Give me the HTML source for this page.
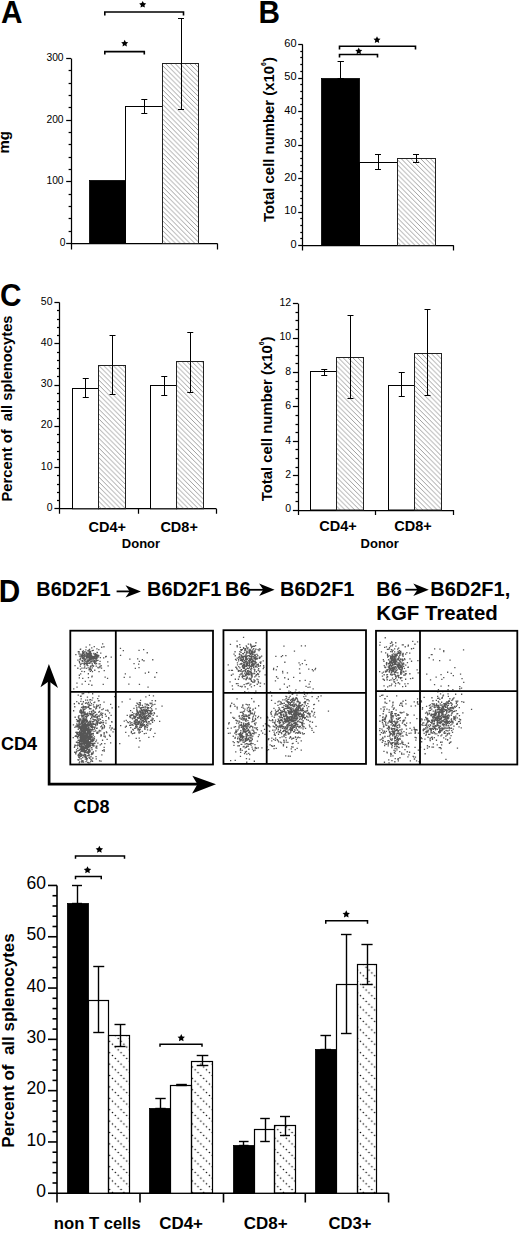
<!DOCTYPE html>
<html><head><meta charset="utf-8"><title>Figure</title>
<style>html,body{margin:0;padding:0;background:#fff;}svg{display:block;}</style>
</head><body>
<svg width="520" height="1233" viewBox="0 0 520 1233" font-family='"Liberation Sans", sans-serif'><defs>
<pattern id="hatch" patternUnits="userSpaceOnUse" width="4.85" height="4.85"><path d="M0,0 L4.85,4.85 M-1,3.8499999999999996 L1,5.85 M3.8499999999999996,-1 L5.85,1" stroke="#7a7a7a" stroke-width="0.72"/></pattern>
<pattern id="dots" patternUnits="userSpaceOnUse" x="111.1" y="1099.75" width="11.4" height="11.4"><circle cx="1.40" cy="1.40" r="0.78" fill="#000"/><circle cx="4.25" cy="4.25" r="0.78" fill="#000"/><circle cx="7.10" cy="7.10" r="0.78" fill="#000"/><circle cx="9.95" cy="9.95" r="0.78" fill="#000"/></pattern>
</defs>
<text x="0" y="0" font-size="32" transform="translate(1.00 22.60) scale(0.93 1)" font-weight="bold">A</text>
<line x1="71.50" y1="58.61" x2="71.50" y2="249.50" stroke="#000" stroke-width="1.25"/>
<line x1="66.20" y1="243.50" x2="71.20" y2="243.50" stroke="#000" stroke-width="1.25"/>
<line x1="66.20" y1="181.50" x2="71.20" y2="181.50" stroke="#000" stroke-width="1.25"/>
<line x1="66.20" y1="120.50" x2="71.20" y2="120.50" stroke="#000" stroke-width="1.25"/>
<line x1="66.20" y1="58.50" x2="71.20" y2="58.50" stroke="#000" stroke-width="1.25"/>
<line x1="68.60" y1="231.50" x2="71.20" y2="231.50" stroke="#000" stroke-width="1.25"/>
<line x1="68.60" y1="218.50" x2="71.20" y2="218.50" stroke="#000" stroke-width="1.25"/>
<line x1="68.60" y1="206.50" x2="71.20" y2="206.50" stroke="#000" stroke-width="1.25"/>
<line x1="68.60" y1="194.50" x2="71.20" y2="194.50" stroke="#000" stroke-width="1.25"/>
<line x1="68.60" y1="169.50" x2="71.20" y2="169.50" stroke="#000" stroke-width="1.25"/>
<line x1="68.60" y1="157.50" x2="71.20" y2="157.50" stroke="#000" stroke-width="1.25"/>
<line x1="68.60" y1="144.50" x2="71.20" y2="144.50" stroke="#000" stroke-width="1.25"/>
<line x1="68.60" y1="132.50" x2="71.20" y2="132.50" stroke="#000" stroke-width="1.25"/>
<line x1="68.60" y1="107.50" x2="71.20" y2="107.50" stroke="#000" stroke-width="1.25"/>
<line x1="68.60" y1="95.50" x2="71.20" y2="95.50" stroke="#000" stroke-width="1.25"/>
<line x1="68.60" y1="83.50" x2="71.20" y2="83.50" stroke="#000" stroke-width="1.25"/>
<line x1="68.60" y1="70.50" x2="71.20" y2="70.50" stroke="#000" stroke-width="1.25"/>
<text x="63.60" y="184.17" font-size="10.3" text-anchor="end">100</text>
<text x="63.60" y="122.54" font-size="10.3" text-anchor="end">200</text>
<text x="63.60" y="60.91" font-size="10.3" text-anchor="end">300</text>
<text x="65.40" y="245.90" font-size="10.3" text-anchor="end">0</text>
<line x1="71.20" y1="243.50" x2="217.50" y2="243.50" stroke="#000" stroke-width="1.25"/>
<line x1="217.50" y1="243.50" x2="217.50" y2="249.50" stroke="#000" stroke-width="1.25"/>
<rect x="89.50" y="180.50" width="36.00" height="63.00" fill="#000" stroke="#000" stroke-width="0.8"/>
<rect x="125.50" y="106.50" width="37.00" height="137.00" fill="#fff" stroke="#000" stroke-width="1.0"/>
<rect x="162.50" y="63.50" width="36.00" height="180.00" fill="url(#hatch)" stroke="#222" stroke-width="1.0"/>
<line x1="144.50" y1="99.70" x2="144.50" y2="113.40" stroke="#000" stroke-width="1.0"/>
<line x1="141.30" y1="99.50" x2="147.30" y2="99.50" stroke="#000" stroke-width="1.0"/>
<line x1="141.30" y1="113.50" x2="147.30" y2="113.50" stroke="#000" stroke-width="1.0"/>
<line x1="181.50" y1="18.60" x2="181.50" y2="109.00" stroke="#000" stroke-width="1.0"/>
<line x1="178.00" y1="18.50" x2="184.00" y2="18.50" stroke="#000" stroke-width="1.0"/>
<line x1="178.00" y1="109.50" x2="184.00" y2="109.50" stroke="#000" stroke-width="1.0"/>
<path d="M104.80,15.40 V12.00 H183.50 V15.40" fill="none" stroke="#000" stroke-width="1.6"/>
<polygon points="142.70,0.90 143.79,3.10 146.22,3.46 144.46,5.17 144.87,7.59 142.70,6.45 140.53,7.59 140.94,5.17 139.18,3.46 141.61,3.10" fill="#000"/>
<path d="M104.80,54.60 V51.60 H144.30 V54.60" fill="none" stroke="#000" stroke-width="1.6"/>
<polygon points="124.70,39.70 125.79,41.90 128.22,42.26 126.46,43.97 126.87,46.39 124.70,45.25 122.53,46.39 122.94,43.97 121.18,42.26 123.61,41.90" fill="#000"/>
<text x="9.20" y="153.50" font-size="15" font-weight="bold" transform="rotate(-90 9.20 153.50)">mg</text>
<text x="0" y="0" font-size="32" transform="translate(258.40 22.70) scale(0.93 1)" font-weight="bold">B</text>
<line x1="302.50" y1="44.50" x2="302.50" y2="250.50" stroke="#000" stroke-width="1.25"/>
<line x1="298.20" y1="245.50" x2="302.70" y2="245.50" stroke="#000" stroke-width="1.25"/>
<line x1="298.20" y1="212.50" x2="302.70" y2="212.50" stroke="#000" stroke-width="1.25"/>
<line x1="298.20" y1="178.50" x2="302.70" y2="178.50" stroke="#000" stroke-width="1.25"/>
<line x1="298.20" y1="145.50" x2="302.70" y2="145.50" stroke="#000" stroke-width="1.25"/>
<line x1="298.20" y1="111.50" x2="302.70" y2="111.50" stroke="#000" stroke-width="1.25"/>
<line x1="298.20" y1="78.50" x2="302.70" y2="78.50" stroke="#000" stroke-width="1.25"/>
<line x1="298.20" y1="44.50" x2="302.70" y2="44.50" stroke="#000" stroke-width="1.25"/>
<line x1="300.30" y1="238.50" x2="302.70" y2="238.50" stroke="#000" stroke-width="1.25"/>
<line x1="300.30" y1="232.50" x2="302.70" y2="232.50" stroke="#000" stroke-width="1.25"/>
<line x1="300.30" y1="225.50" x2="302.70" y2="225.50" stroke="#000" stroke-width="1.25"/>
<line x1="300.30" y1="218.50" x2="302.70" y2="218.50" stroke="#000" stroke-width="1.25"/>
<line x1="300.30" y1="205.50" x2="302.70" y2="205.50" stroke="#000" stroke-width="1.25"/>
<line x1="300.30" y1="198.50" x2="302.70" y2="198.50" stroke="#000" stroke-width="1.25"/>
<line x1="300.30" y1="191.50" x2="302.70" y2="191.50" stroke="#000" stroke-width="1.25"/>
<line x1="300.30" y1="185.50" x2="302.70" y2="185.50" stroke="#000" stroke-width="1.25"/>
<line x1="300.30" y1="171.50" x2="302.70" y2="171.50" stroke="#000" stroke-width="1.25"/>
<line x1="300.30" y1="165.50" x2="302.70" y2="165.50" stroke="#000" stroke-width="1.25"/>
<line x1="300.30" y1="158.50" x2="302.70" y2="158.50" stroke="#000" stroke-width="1.25"/>
<line x1="300.30" y1="151.50" x2="302.70" y2="151.50" stroke="#000" stroke-width="1.25"/>
<line x1="300.30" y1="138.50" x2="302.70" y2="138.50" stroke="#000" stroke-width="1.25"/>
<line x1="300.30" y1="131.50" x2="302.70" y2="131.50" stroke="#000" stroke-width="1.25"/>
<line x1="300.30" y1="124.50" x2="302.70" y2="124.50" stroke="#000" stroke-width="1.25"/>
<line x1="300.30" y1="118.50" x2="302.70" y2="118.50" stroke="#000" stroke-width="1.25"/>
<line x1="300.30" y1="104.50" x2="302.70" y2="104.50" stroke="#000" stroke-width="1.25"/>
<line x1="300.30" y1="98.50" x2="302.70" y2="98.50" stroke="#000" stroke-width="1.25"/>
<line x1="300.30" y1="91.50" x2="302.70" y2="91.50" stroke="#000" stroke-width="1.25"/>
<line x1="300.30" y1="84.50" x2="302.70" y2="84.50" stroke="#000" stroke-width="1.25"/>
<line x1="300.30" y1="71.50" x2="302.70" y2="71.50" stroke="#000" stroke-width="1.25"/>
<line x1="300.30" y1="64.50" x2="302.70" y2="64.50" stroke="#000" stroke-width="1.25"/>
<line x1="300.30" y1="57.50" x2="302.70" y2="57.50" stroke="#000" stroke-width="1.25"/>
<line x1="300.30" y1="51.50" x2="302.70" y2="51.50" stroke="#000" stroke-width="1.25"/>
<text x="296.60" y="247.60" font-size="11" text-anchor="end">0</text>
<text x="296.60" y="214.10" font-size="11" text-anchor="end">10</text>
<text x="296.60" y="180.60" font-size="11" text-anchor="end">20</text>
<text x="296.60" y="147.10" font-size="11" text-anchor="end">30</text>
<text x="296.60" y="113.60" font-size="11" text-anchor="end">40</text>
<text x="296.60" y="80.10" font-size="11" text-anchor="end">50</text>
<text x="296.60" y="46.60" font-size="11" text-anchor="end">60</text>
<line x1="302.70" y1="245.50" x2="453.75" y2="245.50" stroke="#000" stroke-width="1.25"/>
<line x1="453.50" y1="245.50" x2="453.50" y2="250.50" stroke="#000" stroke-width="1.25"/>
<rect x="321.50" y="78.50" width="38.00" height="167.00" fill="#000" stroke="#000" stroke-width="0.8"/>
<rect x="359.50" y="162.50" width="38.00" height="83.00" fill="#fff" stroke="#000" stroke-width="1.0"/>
<rect x="397.50" y="158.50" width="38.00" height="87.00" fill="url(#hatch)" stroke="#222" stroke-width="1.0"/>
<line x1="340.50" y1="61.60" x2="340.50" y2="78.00" stroke="#000" stroke-width="1.0"/>
<line x1="337.55" y1="61.50" x2="343.95" y2="61.50" stroke="#000" stroke-width="1.0"/>
<line x1="337.55" y1="78.50" x2="343.95" y2="78.50" stroke="#000" stroke-width="1.0"/>
<line x1="378.50" y1="154.50" x2="378.50" y2="169.25" stroke="#000" stroke-width="1.0"/>
<line x1="375.00" y1="154.50" x2="381.00" y2="154.50" stroke="#000" stroke-width="1.0"/>
<line x1="375.00" y1="169.50" x2="381.00" y2="169.50" stroke="#000" stroke-width="1.0"/>
<line x1="416.50" y1="154.25" x2="416.50" y2="162.50" stroke="#000" stroke-width="1.0"/>
<line x1="413.00" y1="154.50" x2="419.00" y2="154.50" stroke="#000" stroke-width="1.0"/>
<line x1="413.00" y1="162.50" x2="419.00" y2="162.50" stroke="#000" stroke-width="1.0"/>
<path d="M339.50,49.55 V46.25 H415.50 V49.55" fill="none" stroke="#000" stroke-width="1.6"/>
<polygon points="377.00,36.30 378.09,38.50 380.52,38.86 378.76,40.57 379.17,42.99 377.00,41.85 374.83,42.99 375.24,40.57 373.48,38.86 375.91,38.50" fill="#000"/>
<path d="M339.50,57.50 V54.50 H377.50 V57.50" fill="none" stroke="#000" stroke-width="1.6"/>
<polygon points="358.75,47.55 359.84,49.75 362.27,50.11 360.51,51.82 360.92,54.24 358.75,53.10 356.58,54.24 356.99,51.82 355.23,50.11 357.66,49.75" fill="#000"/>
<text x="273.90" y="222.00" font-size="14.9" font-weight="bold" transform="rotate(-90 273.90 222.00)">Total cell number (x10<tspan font-size="6.8" dy="-8.3">6</tspan><tspan dy="8.3">)</tspan></text>
<text x="0" y="0" font-size="32" transform="translate(0.00 305.70) scale(0.93 1)" font-weight="bold">C</text>
<line x1="59.50" y1="302.50" x2="59.50" y2="513.75" stroke="#000" stroke-width="1.25"/>
<line x1="54.40" y1="508.50" x2="59.60" y2="508.50" stroke="#000" stroke-width="1.25"/>
<line x1="54.40" y1="467.50" x2="59.60" y2="467.50" stroke="#000" stroke-width="1.25"/>
<line x1="54.40" y1="426.50" x2="59.60" y2="426.50" stroke="#000" stroke-width="1.25"/>
<line x1="54.40" y1="385.50" x2="59.60" y2="385.50" stroke="#000" stroke-width="1.25"/>
<line x1="54.40" y1="343.50" x2="59.60" y2="343.50" stroke="#000" stroke-width="1.25"/>
<line x1="54.40" y1="302.50" x2="59.60" y2="302.50" stroke="#000" stroke-width="1.25"/>
<line x1="57.00" y1="500.50" x2="59.60" y2="500.50" stroke="#000" stroke-width="1.25"/>
<line x1="57.00" y1="492.50" x2="59.60" y2="492.50" stroke="#000" stroke-width="1.25"/>
<line x1="57.00" y1="484.50" x2="59.60" y2="484.50" stroke="#000" stroke-width="1.25"/>
<line x1="57.00" y1="475.50" x2="59.60" y2="475.50" stroke="#000" stroke-width="1.25"/>
<line x1="57.00" y1="459.50" x2="59.60" y2="459.50" stroke="#000" stroke-width="1.25"/>
<line x1="57.00" y1="451.50" x2="59.60" y2="451.50" stroke="#000" stroke-width="1.25"/>
<line x1="57.00" y1="442.50" x2="59.60" y2="442.50" stroke="#000" stroke-width="1.25"/>
<line x1="57.00" y1="434.50" x2="59.60" y2="434.50" stroke="#000" stroke-width="1.25"/>
<line x1="57.00" y1="418.50" x2="59.60" y2="418.50" stroke="#000" stroke-width="1.25"/>
<line x1="57.00" y1="409.50" x2="59.60" y2="409.50" stroke="#000" stroke-width="1.25"/>
<line x1="57.00" y1="401.50" x2="59.60" y2="401.50" stroke="#000" stroke-width="1.25"/>
<line x1="57.00" y1="393.50" x2="59.60" y2="393.50" stroke="#000" stroke-width="1.25"/>
<line x1="57.00" y1="376.50" x2="59.60" y2="376.50" stroke="#000" stroke-width="1.25"/>
<line x1="57.00" y1="368.50" x2="59.60" y2="368.50" stroke="#000" stroke-width="1.25"/>
<line x1="57.00" y1="360.50" x2="59.60" y2="360.50" stroke="#000" stroke-width="1.25"/>
<line x1="57.00" y1="352.50" x2="59.60" y2="352.50" stroke="#000" stroke-width="1.25"/>
<line x1="57.00" y1="335.50" x2="59.60" y2="335.50" stroke="#000" stroke-width="1.25"/>
<line x1="57.00" y1="327.50" x2="59.60" y2="327.50" stroke="#000" stroke-width="1.25"/>
<line x1="57.00" y1="319.50" x2="59.60" y2="319.50" stroke="#000" stroke-width="1.25"/>
<line x1="57.00" y1="310.50" x2="59.60" y2="310.50" stroke="#000" stroke-width="1.25"/>
<text x="52.50" y="510.75" font-size="10.5" text-anchor="end">0</text>
<text x="52.50" y="469.50" font-size="10.5" text-anchor="end">10</text>
<text x="52.50" y="428.25" font-size="10.5" text-anchor="end">20</text>
<text x="52.50" y="387.00" font-size="10.5" text-anchor="end">30</text>
<text x="52.50" y="345.75" font-size="10.5" text-anchor="end">40</text>
<text x="52.50" y="304.50" font-size="10.5" text-anchor="end">50</text>
<line x1="59.60" y1="508.50" x2="216.40" y2="508.50" stroke="#000" stroke-width="1.25"/>
<line x1="138.50" y1="508.75" x2="138.50" y2="513.75" stroke="#000" stroke-width="1.25"/>
<line x1="216.50" y1="508.75" x2="216.50" y2="513.75" stroke="#000" stroke-width="1.25"/>
<rect x="72.50" y="388.50" width="26.00" height="120.25" fill="#fff" stroke="#000" stroke-width="1.0"/>
<rect x="98.50" y="365.50" width="27.00" height="143.25" fill="url(#hatch)" stroke="#222" stroke-width="1.0"/>
<rect x="150.50" y="385.50" width="26.00" height="123.25" fill="#fff" stroke="#000" stroke-width="1.0"/>
<rect x="176.50" y="361.50" width="27.00" height="147.25" fill="url(#hatch)" stroke="#222" stroke-width="1.0"/>
<line x1="85.50" y1="378.75" x2="85.50" y2="397.50" stroke="#000" stroke-width="1.0"/>
<line x1="82.75" y1="378.50" x2="88.75" y2="378.50" stroke="#000" stroke-width="1.0"/>
<line x1="82.75" y1="397.50" x2="88.75" y2="397.50" stroke="#000" stroke-width="1.0"/>
<line x1="112.50" y1="335.50" x2="112.50" y2="394.25" stroke="#000" stroke-width="1.0"/>
<line x1="109.50" y1="335.50" x2="115.50" y2="335.50" stroke="#000" stroke-width="1.0"/>
<line x1="109.50" y1="394.50" x2="115.50" y2="394.50" stroke="#000" stroke-width="1.0"/>
<line x1="164.50" y1="376.25" x2="164.50" y2="395.75" stroke="#000" stroke-width="1.0"/>
<line x1="161.25" y1="376.50" x2="167.25" y2="376.50" stroke="#000" stroke-width="1.0"/>
<line x1="161.25" y1="395.50" x2="167.25" y2="395.50" stroke="#000" stroke-width="1.0"/>
<line x1="190.50" y1="332.75" x2="190.50" y2="392.00" stroke="#000" stroke-width="1.0"/>
<line x1="187.25" y1="332.50" x2="193.25" y2="332.50" stroke="#000" stroke-width="1.0"/>
<line x1="187.25" y1="392.50" x2="193.25" y2="392.50" stroke="#000" stroke-width="1.0"/>
<text x="12.10" y="501.50" font-size="14.75" font-weight="bold" transform="rotate(-90 12.10 501.50)">Percent of &#160;all splenocytes</text>
<text x="88.60" y="531.50" font-size="14.5" font-weight="bold">CD4+</text>
<text x="160.40" y="531.50" font-size="14.5" font-weight="bold">CD8+</text>
<text x="121.80" y="548.00" font-size="13" font-weight="bold">Donor</text>
<line x1="298.50" y1="303.60" x2="298.50" y2="515.00" stroke="#000" stroke-width="1.25"/>
<line x1="292.90" y1="510.50" x2="298.10" y2="510.50" stroke="#000" stroke-width="1.25"/>
<line x1="292.90" y1="475.50" x2="298.10" y2="475.50" stroke="#000" stroke-width="1.25"/>
<line x1="292.90" y1="441.50" x2="298.10" y2="441.50" stroke="#000" stroke-width="1.25"/>
<line x1="292.90" y1="406.50" x2="298.10" y2="406.50" stroke="#000" stroke-width="1.25"/>
<line x1="292.90" y1="372.50" x2="298.10" y2="372.50" stroke="#000" stroke-width="1.25"/>
<line x1="292.90" y1="338.50" x2="298.10" y2="338.50" stroke="#000" stroke-width="1.25"/>
<line x1="292.90" y1="303.50" x2="298.10" y2="303.50" stroke="#000" stroke-width="1.25"/>
<line x1="295.50" y1="501.50" x2="298.10" y2="501.50" stroke="#000" stroke-width="1.25"/>
<line x1="295.50" y1="492.50" x2="298.10" y2="492.50" stroke="#000" stroke-width="1.25"/>
<line x1="295.50" y1="484.50" x2="298.10" y2="484.50" stroke="#000" stroke-width="1.25"/>
<line x1="295.50" y1="467.50" x2="298.10" y2="467.50" stroke="#000" stroke-width="1.25"/>
<line x1="295.50" y1="458.50" x2="298.10" y2="458.50" stroke="#000" stroke-width="1.25"/>
<line x1="295.50" y1="449.50" x2="298.10" y2="449.50" stroke="#000" stroke-width="1.25"/>
<line x1="295.50" y1="432.50" x2="298.10" y2="432.50" stroke="#000" stroke-width="1.25"/>
<line x1="295.50" y1="424.50" x2="298.10" y2="424.50" stroke="#000" stroke-width="1.25"/>
<line x1="295.50" y1="415.50" x2="298.10" y2="415.50" stroke="#000" stroke-width="1.25"/>
<line x1="295.50" y1="398.50" x2="298.10" y2="398.50" stroke="#000" stroke-width="1.25"/>
<line x1="295.50" y1="389.50" x2="298.10" y2="389.50" stroke="#000" stroke-width="1.25"/>
<line x1="295.50" y1="381.50" x2="298.10" y2="381.50" stroke="#000" stroke-width="1.25"/>
<line x1="295.50" y1="363.50" x2="298.10" y2="363.50" stroke="#000" stroke-width="1.25"/>
<line x1="295.50" y1="355.50" x2="298.10" y2="355.50" stroke="#000" stroke-width="1.25"/>
<line x1="295.50" y1="346.50" x2="298.10" y2="346.50" stroke="#000" stroke-width="1.25"/>
<line x1="295.50" y1="329.50" x2="298.10" y2="329.50" stroke="#000" stroke-width="1.25"/>
<line x1="295.50" y1="320.50" x2="298.10" y2="320.50" stroke="#000" stroke-width="1.25"/>
<line x1="295.50" y1="312.50" x2="298.10" y2="312.50" stroke="#000" stroke-width="1.25"/>
<text x="291.20" y="512.30" font-size="10.5" text-anchor="end">0</text>
<text x="291.20" y="477.90" font-size="10.5" text-anchor="end">2</text>
<text x="291.20" y="443.50" font-size="10.5" text-anchor="end">4</text>
<text x="291.20" y="409.10" font-size="10.5" text-anchor="end">6</text>
<text x="291.20" y="374.70" font-size="10.5" text-anchor="end">8</text>
<text x="291.20" y="340.30" font-size="10.5" text-anchor="end">10</text>
<text x="291.20" y="305.90" font-size="10.5" text-anchor="end">12</text>
<line x1="298.10" y1="510.50" x2="453.25" y2="510.50" stroke="#000" stroke-width="1.25"/>
<line x1="375.50" y1="510.00" x2="375.50" y2="515.00" stroke="#000" stroke-width="1.25"/>
<line x1="453.50" y1="510.00" x2="453.50" y2="515.00" stroke="#000" stroke-width="1.25"/>
<rect x="310.50" y="371.50" width="26.00" height="138.50" fill="#fff" stroke="#000" stroke-width="1.0"/>
<rect x="336.50" y="357.50" width="27.00" height="152.50" fill="url(#hatch)" stroke="#222" stroke-width="1.0"/>
<rect x="388.50" y="385.50" width="26.00" height="124.50" fill="#fff" stroke="#000" stroke-width="1.0"/>
<rect x="414.50" y="353.50" width="27.00" height="156.50" fill="url(#hatch)" stroke="#222" stroke-width="1.0"/>
<line x1="324.50" y1="369.25" x2="324.50" y2="375.00" stroke="#000" stroke-width="1.0"/>
<line x1="321.25" y1="369.50" x2="327.25" y2="369.50" stroke="#000" stroke-width="1.0"/>
<line x1="321.25" y1="375.50" x2="327.25" y2="375.50" stroke="#000" stroke-width="1.0"/>
<line x1="350.50" y1="315.50" x2="350.50" y2="398.75" stroke="#000" stroke-width="1.0"/>
<line x1="347.50" y1="315.50" x2="353.50" y2="315.50" stroke="#000" stroke-width="1.0"/>
<line x1="347.50" y1="398.50" x2="353.50" y2="398.50" stroke="#000" stroke-width="1.0"/>
<line x1="401.50" y1="372.50" x2="401.50" y2="396.25" stroke="#000" stroke-width="1.0"/>
<line x1="398.75" y1="372.50" x2="404.75" y2="372.50" stroke="#000" stroke-width="1.0"/>
<line x1="398.75" y1="396.50" x2="404.75" y2="396.50" stroke="#000" stroke-width="1.0"/>
<line x1="427.50" y1="309.50" x2="427.50" y2="395.00" stroke="#000" stroke-width="1.0"/>
<line x1="424.50" y1="309.50" x2="430.50" y2="309.50" stroke="#000" stroke-width="1.0"/>
<line x1="424.50" y1="395.50" x2="430.50" y2="395.50" stroke="#000" stroke-width="1.0"/>
<text x="272.30" y="501.30" font-size="14.9" font-weight="bold" transform="rotate(-90 272.30 501.30)">Total cell number (x10<tspan font-size="6.8" dy="-8.3">6</tspan><tspan dy="8.3">)</tspan></text>
<text x="319.30" y="531.30" font-size="14.5" font-weight="bold">CD4+</text>
<text x="394.30" y="531.30" font-size="14.5" font-weight="bold">CD8+</text>
<text x="360.60" y="547.50" font-size="13" font-weight="bold">Donor</text>
<text x="0" y="0" font-size="32" transform="translate(-1.30 601.50) scale(0.93 1)" font-weight="bold">D</text>
<text x="36.20" y="595.70" font-size="20" font-weight="bold">B6D2F1</text>
<line x1="116.60" y1="591.40" x2="130.70" y2="591.40" stroke="#000" stroke-width="1.8"/>
<path d="M141.00,591.40 L125.50,585.20 L129.70,591.40 L125.50,597.60 Z" fill="#000"/>
<text x="147.00" y="595.70" font-size="20" font-weight="bold">B6D2F1</text>
<text x="225.00" y="595.70" font-size="20" font-weight="bold">B6</text>
<line x1="247.50" y1="589.80" x2="264.30" y2="589.80" stroke="#000" stroke-width="1.8"/>
<path d="M274.60,589.80 L259.10,583.60 L263.30,589.80 L259.10,596.00 Z" fill="#000"/>
<text x="280.00" y="595.70" font-size="20" font-weight="bold">B6D2F1</text>
<text x="376.20" y="595.70" font-size="20" font-weight="bold">B6</text>
<line x1="405.30" y1="589.70" x2="418.50" y2="589.70" stroke="#000" stroke-width="1.8"/>
<path d="M428.80,589.70 L413.30,583.50 L417.50,589.70 L413.30,595.90 Z" fill="#000"/>
<text x="430.20" y="595.70" font-size="20" font-weight="bold">B6D2F1,</text>
<text x="376.20" y="620.20" font-size="20" font-weight="bold" textLength="121.60" lengthAdjust="spacingAndGlyphs">KGF Treated</text>
<path d="M89.0 658.1h1.3v1.3h-1.3zM87.5 653.5h1.3v1.3h-1.3zM86.5 653.1h1.3v1.3h-1.3zM89.3 662.1h1.3v1.3h-1.3zM86.3 654.5h1.3v1.3h-1.3zM91.7 658.5h1.3v1.3h-1.3zM89.6 653.5h1.3v1.3h-1.3zM88.8 659.6h1.3v1.3h-1.3zM81.6 654.8h1.3v1.3h-1.3zM78.5 651.4h1.3v1.3h-1.3zM78.9 655.4h1.3v1.3h-1.3zM82.0 657.5h1.3v1.3h-1.3zM89.9 656.4h1.3v1.3h-1.3zM75.2 654.0h1.3v1.3h-1.3zM88.7 657.4h1.3v1.3h-1.3zM80.6 654.6h1.3v1.3h-1.3zM83.6 653.6h1.3v1.3h-1.3zM94.8 654.3h1.3v1.3h-1.3zM88.8 660.3h1.3v1.3h-1.3zM85.8 656.4h1.3v1.3h-1.3zM89.6 657.3h1.3v1.3h-1.3zM82.3 656.8h1.3v1.3h-1.3zM96.5 651.7h1.3v1.3h-1.3zM93.7 657.8h1.3v1.3h-1.3zM85.5 664.3h1.3v1.3h-1.3zM93.2 652.8h1.3v1.3h-1.3zM89.4 659.2h1.3v1.3h-1.3zM88.0 659.5h1.3v1.3h-1.3zM88.6 659.5h1.3v1.3h-1.3zM96.9 655.0h1.3v1.3h-1.3zM90.1 655.3h1.3v1.3h-1.3zM89.7 652.6h1.3v1.3h-1.3zM85.8 656.0h1.3v1.3h-1.3zM93.9 661.7h1.3v1.3h-1.3zM81.7 653.5h1.3v1.3h-1.3zM92.6 649.7h1.3v1.3h-1.3zM86.5 656.5h1.3v1.3h-1.3zM95.9 660.1h1.3v1.3h-1.3zM87.2 655.5h1.3v1.3h-1.3zM87.6 662.7h1.3v1.3h-1.3zM86.6 655.7h1.3v1.3h-1.3zM90.9 656.7h1.3v1.3h-1.3zM87.9 652.7h1.3v1.3h-1.3zM88.9 655.3h1.3v1.3h-1.3zM95.4 659.9h1.3v1.3h-1.3zM88.9 659.5h1.3v1.3h-1.3zM87.1 660.8h1.3v1.3h-1.3zM89.0 659.2h1.3v1.3h-1.3zM81.9 657.8h1.3v1.3h-1.3zM79.7 648.7h1.3v1.3h-1.3zM87.3 653.5h1.3v1.3h-1.3zM89.9 665.5h1.3v1.3h-1.3zM84.4 654.3h1.3v1.3h-1.3zM90.1 658.9h1.3v1.3h-1.3zM88.0 656.2h1.3v1.3h-1.3zM92.9 659.2h1.3v1.3h-1.3zM83.3 656.3h1.3v1.3h-1.3zM89.2 653.0h1.3v1.3h-1.3zM90.4 653.9h1.3v1.3h-1.3zM94.3 658.1h1.3v1.3h-1.3zM89.5 654.8h1.3v1.3h-1.3zM88.3 649.4h1.3v1.3h-1.3zM82.8 657.9h1.3v1.3h-1.3zM77.3 659.4h1.3v1.3h-1.3zM79.4 659.2h1.3v1.3h-1.3zM84.3 659.6h1.3v1.3h-1.3zM89.7 651.2h1.3v1.3h-1.3zM95.9 662.9h1.3v1.3h-1.3zM88.6 655.9h1.3v1.3h-1.3zM88.1 653.3h1.3v1.3h-1.3zM95.0 655.4h1.3v1.3h-1.3zM88.7 654.0h1.3v1.3h-1.3zM85.6 651.9h1.3v1.3h-1.3zM95.9 656.9h1.3v1.3h-1.3zM94.3 657.4h1.3v1.3h-1.3zM85.2 655.5h1.3v1.3h-1.3zM85.9 656.8h1.3v1.3h-1.3zM86.9 655.7h1.3v1.3h-1.3zM81.4 653.4h1.3v1.3h-1.3zM98.1 655.1h1.3v1.3h-1.3zM83.2 657.9h1.3v1.3h-1.3zM96.7 652.0h1.3v1.3h-1.3zM87.9 654.5h1.3v1.3h-1.3zM79.3 659.1h1.3v1.3h-1.3zM88.9 657.3h1.3v1.3h-1.3zM84.9 658.4h1.3v1.3h-1.3zM86.0 656.3h1.3v1.3h-1.3zM82.9 652.0h1.3v1.3h-1.3zM96.3 655.6h1.3v1.3h-1.3zM90.6 657.0h1.3v1.3h-1.3zM86.6 654.9h1.3v1.3h-1.3zM92.5 656.1h1.3v1.3h-1.3zM88.2 657.0h1.3v1.3h-1.3zM95.5 660.0h1.3v1.3h-1.3zM91.1 655.0h1.3v1.3h-1.3zM81.4 660.1h1.3v1.3h-1.3zM94.3 656.8h1.3v1.3h-1.3zM92.0 660.2h1.3v1.3h-1.3zM93.6 660.8h1.3v1.3h-1.3zM86.5 662.6h1.3v1.3h-1.3zM82.1 659.8h1.3v1.3h-1.3zM91.7 660.5h1.3v1.3h-1.3zM99.3 663.3h1.3v1.3h-1.3zM82.7 650.2h1.3v1.3h-1.3zM93.5 653.5h1.3v1.3h-1.3zM88.9 660.2h1.3v1.3h-1.3zM80.0 648.4h1.3v1.3h-1.3zM90.4 657.3h1.3v1.3h-1.3zM87.6 657.1h1.3v1.3h-1.3zM84.3 651.0h1.3v1.3h-1.3zM88.1 653.3h1.3v1.3h-1.3zM80.0 658.3h1.3v1.3h-1.3zM88.7 658.5h1.3v1.3h-1.3zM83.6 654.1h1.3v1.3h-1.3zM83.5 653.3h1.3v1.3h-1.3zM90.1 654.1h1.3v1.3h-1.3zM91.0 658.4h1.3v1.3h-1.3zM100.1 652.5h1.3v1.3h-1.3zM93.9 657.0h1.3v1.3h-1.3zM88.9 651.5h1.3v1.3h-1.3zM86.5 659.6h1.3v1.3h-1.3zM88.5 657.3h1.3v1.3h-1.3zM87.4 661.3h1.3v1.3h-1.3zM88.9 648.7h1.3v1.3h-1.3zM85.2 649.3h1.3v1.3h-1.3zM96.3 657.7h1.3v1.3h-1.3zM82.6 653.0h1.3v1.3h-1.3zM95.2 658.0h1.3v1.3h-1.3zM89.3 656.8h1.3v1.3h-1.3zM89.2 660.1h1.3v1.3h-1.3zM92.0 658.0h1.3v1.3h-1.3zM83.3 658.5h1.3v1.3h-1.3zM85.2 660.9h1.3v1.3h-1.3zM82.0 656.0h1.3v1.3h-1.3zM89.0 652.0h1.3v1.3h-1.3zM98.5 663.2h1.3v1.3h-1.3zM86.5 659.7h1.3v1.3h-1.3zM91.1 647.3h1.3v1.3h-1.3zM90.4 656.9h1.3v1.3h-1.3zM89.5 653.0h1.3v1.3h-1.3zM87.5 656.2h1.3v1.3h-1.3zM95.5 658.7h1.3v1.3h-1.3zM89.0 662.8h1.3v1.3h-1.3zM85.9 655.3h1.3v1.3h-1.3zM79.0 662.2h1.3v1.3h-1.3zM94.3 660.8h1.3v1.3h-1.3zM92.7 657.7h1.3v1.3h-1.3zM90.2 656.1h1.3v1.3h-1.3zM87.9 657.1h1.3v1.3h-1.3zM97.3 659.7h1.3v1.3h-1.3zM88.7 654.8h1.3v1.3h-1.3zM85.5 662.8h1.3v1.3h-1.3zM91.8 657.4h1.3v1.3h-1.3zM87.1 652.7h1.3v1.3h-1.3zM88.6 660.3h1.3v1.3h-1.3zM86.8 656.0h1.3v1.3h-1.3zM87.8 657.3h1.3v1.3h-1.3zM80.2 655.5h1.3v1.3h-1.3zM84.3 660.0h1.3v1.3h-1.3zM84.8 658.9h1.3v1.3h-1.3zM97.4 656.4h1.3v1.3h-1.3zM85.7 657.5h1.3v1.3h-1.3zM89.0 653.2h1.3v1.3h-1.3zM91.5 664.8h1.3v1.3h-1.3zM87.6 656.1h1.3v1.3h-1.3zM83.3 657.8h1.3v1.3h-1.3zM82.1 652.3h1.3v1.3h-1.3zM96.0 654.1h1.3v1.3h-1.3zM94.9 663.2h1.3v1.3h-1.3zM90.4 659.2h1.3v1.3h-1.3zM99.7 657.0h1.3v1.3h-1.3zM85.7 651.7h1.3v1.3h-1.3zM89.2 662.6h1.3v1.3h-1.3zM94.3 653.8h1.3v1.3h-1.3zM84.3 654.8h1.3v1.3h-1.3zM90.6 656.3h1.3v1.3h-1.3zM90.2 658.2h1.3v1.3h-1.3zM87.4 656.7h1.3v1.3h-1.3zM90.1 656.8h1.3v1.3h-1.3zM91.8 664.3h1.3v1.3h-1.3zM92.3 657.4h1.3v1.3h-1.3zM79.7 657.8h1.3v1.3h-1.3zM78.3 650.9h1.3v1.3h-1.3zM93.7 660.0h1.3v1.3h-1.3zM88.2 650.5h1.3v1.3h-1.3zM87.0 654.3h1.3v1.3h-1.3zM92.5 665.8h1.3v1.3h-1.3zM90.2 654.1h1.3v1.3h-1.3zM82.6 656.3h1.3v1.3h-1.3zM88.0 652.6h1.3v1.3h-1.3zM89.6 652.7h1.3v1.3h-1.3zM95.1 661.4h1.3v1.3h-1.3zM95.0 655.6h1.3v1.3h-1.3zM91.8 656.7h1.3v1.3h-1.3zM86.9 655.6h1.3v1.3h-1.3zM81.9 651.0h1.3v1.3h-1.3zM93.4 656.6h1.3v1.3h-1.3zM90.2 660.9h1.3v1.3h-1.3zM79.5 653.4h1.3v1.3h-1.3zM90.0 658.5h1.3v1.3h-1.3zM86.9 660.7h1.3v1.3h-1.3zM90.2 652.5h1.3v1.3h-1.3zM83.9 659.7h1.3v1.3h-1.3zM91.6 650.0h1.3v1.3h-1.3zM96.4 659.8h1.3v1.3h-1.3zM96.4 656.1h1.3v1.3h-1.3zM87.4 652.6h1.3v1.3h-1.3zM103.0 657.3h1.3v1.3h-1.3zM97.7 655.2h1.3v1.3h-1.3zM89.9 650.7h1.3v1.3h-1.3zM86.9 660.6h1.3v1.3h-1.3zM82.1 660.6h1.3v1.3h-1.3zM90.9 653.2h1.3v1.3h-1.3zM86.2 655.1h1.3v1.3h-1.3zM88.7 655.0h1.3v1.3h-1.3zM84.4 655.5h1.3v1.3h-1.3zM83.4 651.7h1.3v1.3h-1.3zM88.7 660.3h1.3v1.3h-1.3zM80.6 656.4h1.3v1.3h-1.3zM85.4 653.1h1.3v1.3h-1.3zM93.7 655.4h1.3v1.3h-1.3zM97.2 654.6h1.3v1.3h-1.3zM91.1 656.3h1.3v1.3h-1.3zM84.9 658.9h1.3v1.3h-1.3zM88.1 659.2h1.3v1.3h-1.3zM88.7 652.9h1.3v1.3h-1.3zM88.4 657.2h1.3v1.3h-1.3zM94.3 653.9h1.3v1.3h-1.3zM88.8 650.5h1.3v1.3h-1.3zM91.9 660.4h1.3v1.3h-1.3zM77.2 667.6h1.3v1.3h-1.3zM94.6 657.3h1.3v1.3h-1.3zM81.5 662.8h1.3v1.3h-1.3zM81.2 670.7h1.3v1.3h-1.3zM83.2 662.9h1.3v1.3h-1.3zM91.5 662.7h1.3v1.3h-1.3zM90.6 661.2h1.3v1.3h-1.3zM80.7 655.2h1.3v1.3h-1.3zM99.2 665.8h1.3v1.3h-1.3zM89.5 667.8h1.3v1.3h-1.3zM89.0 668.3h1.3v1.3h-1.3zM99.4 660.7h1.3v1.3h-1.3zM78.7 660.9h1.3v1.3h-1.3zM80.0 673.2h1.3v1.3h-1.3zM92.9 661.3h1.3v1.3h-1.3zM79.7 665.5h1.3v1.3h-1.3zM96.3 648.3h1.3v1.3h-1.3zM91.2 660.5h1.3v1.3h-1.3zM94.2 660.5h1.3v1.3h-1.3zM86.3 657.5h1.3v1.3h-1.3zM82.1 677.7h1.3v1.3h-1.3zM92.9 665.2h1.3v1.3h-1.3zM82.8 654.7h1.3v1.3h-1.3zM85.6 667.8h1.3v1.3h-1.3zM87.5 667.3h1.3v1.3h-1.3zM81.3 667.5h1.3v1.3h-1.3zM87.8 677.0h1.3v1.3h-1.3zM99.2 667.0h1.3v1.3h-1.3zM83.4 667.5h1.3v1.3h-1.3zM84.4 662.8h1.3v1.3h-1.3zM87.6 660.7h1.3v1.3h-1.3zM91.6 667.3h1.3v1.3h-1.3zM89.5 666.7h1.3v1.3h-1.3zM83.6 661.4h1.3v1.3h-1.3zM86.6 664.2h1.3v1.3h-1.3zM89.4 668.0h1.3v1.3h-1.3zM79.8 668.5h1.3v1.3h-1.3zM79.9 663.7h1.3v1.3h-1.3zM86.2 653.5h1.3v1.3h-1.3zM88.5 669.1h1.3v1.3h-1.3zM87.1 665.0h1.3v1.3h-1.3zM85.8 661.2h1.3v1.3h-1.3zM86.4 664.1h1.3v1.3h-1.3zM88.6 659.6h1.3v1.3h-1.3zM89.4 669.0h1.3v1.3h-1.3zM87.2 664.9h1.3v1.3h-1.3zM91.3 656.3h1.3v1.3h-1.3zM90.8 669.7h1.3v1.3h-1.3zM89.7 670.7h1.3v1.3h-1.3zM84.1 666.2h1.3v1.3h-1.3zM91.8 671.0h1.3v1.3h-1.3zM89.2 657.4h1.3v1.3h-1.3zM91.2 676.2h1.3v1.3h-1.3zM94.1 669.6h1.3v1.3h-1.3zM78.7 674.6h1.3v1.3h-1.3zM87.1 650.3h1.3v1.3h-1.3zM90.3 657.6h1.3v1.3h-1.3zM80.2 663.6h1.3v1.3h-1.3zM95.6 665.4h1.3v1.3h-1.3zM89.6 680.2h1.3v1.3h-1.3zM97.6 667.3h1.3v1.3h-1.3zM86.6 659.2h1.3v1.3h-1.3zM83.8 671.0h1.3v1.3h-1.3zM90.4 668.8h1.3v1.3h-1.3zM94.0 662.6h1.3v1.3h-1.3zM87.7 673.1h1.3v1.3h-1.3zM91.5 675.5h1.3v1.3h-1.3zM90.4 665.8h1.3v1.3h-1.3zM90.2 661.0h1.3v1.3h-1.3zM107.1 661.2h1.3v1.3h-1.3zM89.1 644.2h1.3v1.3h-1.3zM73.1 688.3h1.3v1.3h-1.3zM104.5 676.5h1.3v1.3h-1.3zM82.8 652.6h1.3v1.3h-1.3zM78.7 677.3h1.3v1.3h-1.3zM105.0 656.1h1.3v1.3h-1.3zM100.5 665.1h1.3v1.3h-1.3zM81.5 683.4h1.3v1.3h-1.3zM83.7 664.1h1.3v1.3h-1.3zM110.6 656.5h1.3v1.3h-1.3zM83.7 657.4h1.3v1.3h-1.3zM101.1 646.6h1.3v1.3h-1.3zM78.2 653.3h1.3v1.3h-1.3zM105.6 655.7h1.3v1.3h-1.3zM77.7 651.1h1.3v1.3h-1.3zM93.6 646.0h1.3v1.3h-1.3zM74.4 664.9h1.3v1.3h-1.3zM95.0 653.1h1.3v1.3h-1.3zM106.9 677.7h1.3v1.3h-1.3zM76.4 686.4h1.3v1.3h-1.3zM84.0 655.8h1.3v1.3h-1.3zM103.6 669.9h1.3v1.3h-1.3zM97.3 666.8h1.3v1.3h-1.3zM85.5 646.5h1.3v1.3h-1.3zM98.2 648.9h1.3v1.3h-1.3zM91.2 684.6h1.3v1.3h-1.3zM107.5 665.3h1.3v1.3h-1.3zM84.7 680.8h1.3v1.3h-1.3zM103.3 646.1h1.3v1.3h-1.3zM98.4 671.0h1.3v1.3h-1.3zM102.6 683.7h1.3v1.3h-1.3zM88.1 683.8h1.3v1.3h-1.3zM102.0 643.3h1.3v1.3h-1.3zM100.9 667.5h1.3v1.3h-1.3zM90.6 735.5h1.3v1.3h-1.3zM79.8 738.4h1.3v1.3h-1.3zM85.9 727.1h1.3v1.3h-1.3zM76.9 719.8h1.3v1.3h-1.3zM86.9 727.9h1.3v1.3h-1.3zM83.4 739.6h1.3v1.3h-1.3zM86.7 733.0h1.3v1.3h-1.3zM86.1 726.3h1.3v1.3h-1.3zM82.4 724.7h1.3v1.3h-1.3zM88.9 736.7h1.3v1.3h-1.3zM80.8 732.8h1.3v1.3h-1.3zM83.0 745.4h1.3v1.3h-1.3zM77.1 724.6h1.3v1.3h-1.3zM88.1 735.7h1.3v1.3h-1.3zM87.1 761.7h1.3v1.3h-1.3zM83.0 732.6h1.3v1.3h-1.3zM89.2 742.9h1.3v1.3h-1.3zM86.9 730.9h1.3v1.3h-1.3zM92.3 757.5h1.3v1.3h-1.3zM86.4 745.2h1.3v1.3h-1.3zM75.3 744.7h1.3v1.3h-1.3zM83.2 742.2h1.3v1.3h-1.3zM86.9 732.9h1.3v1.3h-1.3zM76.7 741.4h1.3v1.3h-1.3zM80.8 733.0h1.3v1.3h-1.3zM81.4 732.9h1.3v1.3h-1.3zM74.1 751.6h1.3v1.3h-1.3zM85.1 750.3h1.3v1.3h-1.3zM92.5 737.3h1.3v1.3h-1.3zM76.2 726.3h1.3v1.3h-1.3zM78.8 731.0h1.3v1.3h-1.3zM84.3 713.0h1.3v1.3h-1.3zM85.5 718.9h1.3v1.3h-1.3zM85.3 735.7h1.3v1.3h-1.3zM82.7 736.1h1.3v1.3h-1.3zM81.7 729.7h1.3v1.3h-1.3zM76.8 736.6h1.3v1.3h-1.3zM91.9 760.8h1.3v1.3h-1.3zM89.7 745.5h1.3v1.3h-1.3zM81.1 754.3h1.3v1.3h-1.3zM83.8 736.2h1.3v1.3h-1.3zM82.7 738.1h1.3v1.3h-1.3zM82.1 736.0h1.3v1.3h-1.3zM79.3 732.5h1.3v1.3h-1.3zM93.8 736.2h1.3v1.3h-1.3zM83.0 743.4h1.3v1.3h-1.3zM87.0 723.6h1.3v1.3h-1.3zM83.1 748.0h1.3v1.3h-1.3zM85.2 738.5h1.3v1.3h-1.3zM90.7 728.9h1.3v1.3h-1.3zM84.4 730.8h1.3v1.3h-1.3zM90.4 713.6h1.3v1.3h-1.3zM81.1 730.7h1.3v1.3h-1.3zM86.9 744.3h1.3v1.3h-1.3zM90.0 718.1h1.3v1.3h-1.3zM87.2 733.5h1.3v1.3h-1.3zM81.1 743.5h1.3v1.3h-1.3zM80.0 712.1h1.3v1.3h-1.3zM82.4 719.0h1.3v1.3h-1.3zM81.2 741.5h1.3v1.3h-1.3zM85.3 756.0h1.3v1.3h-1.3zM83.1 718.6h1.3v1.3h-1.3zM80.7 726.0h1.3v1.3h-1.3zM78.8 742.2h1.3v1.3h-1.3zM81.2 713.3h1.3v1.3h-1.3zM87.0 735.7h1.3v1.3h-1.3zM85.5 738.3h1.3v1.3h-1.3zM86.7 737.5h1.3v1.3h-1.3zM89.3 742.1h1.3v1.3h-1.3zM85.7 741.9h1.3v1.3h-1.3zM77.7 735.0h1.3v1.3h-1.3zM82.9 739.5h1.3v1.3h-1.3zM78.2 756.6h1.3v1.3h-1.3zM84.4 722.5h1.3v1.3h-1.3zM76.7 733.6h1.3v1.3h-1.3zM83.6 728.4h1.3v1.3h-1.3zM84.4 729.3h1.3v1.3h-1.3zM86.4 728.3h1.3v1.3h-1.3zM83.8 748.7h1.3v1.3h-1.3zM95.1 724.9h1.3v1.3h-1.3zM82.0 726.9h1.3v1.3h-1.3zM87.4 723.2h1.3v1.3h-1.3zM81.9 736.6h1.3v1.3h-1.3zM79.8 725.5h1.3v1.3h-1.3zM82.0 711.8h1.3v1.3h-1.3zM77.8 732.0h1.3v1.3h-1.3zM84.6 734.8h1.3v1.3h-1.3zM76.4 731.4h1.3v1.3h-1.3zM87.4 743.7h1.3v1.3h-1.3zM83.7 726.4h1.3v1.3h-1.3zM86.7 730.1h1.3v1.3h-1.3zM79.0 727.4h1.3v1.3h-1.3zM90.2 739.6h1.3v1.3h-1.3zM89.0 731.2h1.3v1.3h-1.3zM88.0 729.8h1.3v1.3h-1.3zM87.3 731.0h1.3v1.3h-1.3zM83.6 740.9h1.3v1.3h-1.3zM89.2 731.1h1.3v1.3h-1.3zM76.5 733.6h1.3v1.3h-1.3zM84.1 738.3h1.3v1.3h-1.3zM89.7 740.8h1.3v1.3h-1.3zM87.5 723.8h1.3v1.3h-1.3zM87.7 762.2h1.3v1.3h-1.3zM87.3 740.0h1.3v1.3h-1.3zM84.7 758.4h1.3v1.3h-1.3zM80.0 735.7h1.3v1.3h-1.3zM86.0 745.9h1.3v1.3h-1.3zM82.1 740.7h1.3v1.3h-1.3zM82.8 738.4h1.3v1.3h-1.3zM83.4 723.3h1.3v1.3h-1.3zM83.9 747.5h1.3v1.3h-1.3zM79.8 734.1h1.3v1.3h-1.3zM86.9 724.2h1.3v1.3h-1.3zM84.8 724.3h1.3v1.3h-1.3zM92.7 734.4h1.3v1.3h-1.3zM87.2 738.5h1.3v1.3h-1.3zM84.4 755.6h1.3v1.3h-1.3zM78.3 749.7h1.3v1.3h-1.3zM83.8 753.9h1.3v1.3h-1.3zM84.8 728.9h1.3v1.3h-1.3zM85.2 745.8h1.3v1.3h-1.3zM84.2 742.9h1.3v1.3h-1.3zM81.8 711.4h1.3v1.3h-1.3zM87.9 745.4h1.3v1.3h-1.3zM84.6 737.8h1.3v1.3h-1.3zM88.5 731.5h1.3v1.3h-1.3zM81.0 734.7h1.3v1.3h-1.3zM89.1 720.4h1.3v1.3h-1.3zM89.1 729.3h1.3v1.3h-1.3zM79.3 752.1h1.3v1.3h-1.3zM83.6 721.4h1.3v1.3h-1.3zM82.5 748.2h1.3v1.3h-1.3zM89.1 731.9h1.3v1.3h-1.3zM85.7 745.6h1.3v1.3h-1.3zM81.2 741.3h1.3v1.3h-1.3zM83.9 730.6h1.3v1.3h-1.3zM81.9 737.8h1.3v1.3h-1.3zM84.1 730.2h1.3v1.3h-1.3zM82.2 750.4h1.3v1.3h-1.3zM84.9 747.6h1.3v1.3h-1.3zM89.2 744.1h1.3v1.3h-1.3zM93.8 727.1h1.3v1.3h-1.3zM87.5 733.2h1.3v1.3h-1.3zM92.0 757.4h1.3v1.3h-1.3zM75.6 725.4h1.3v1.3h-1.3zM86.9 746.5h1.3v1.3h-1.3zM87.2 736.1h1.3v1.3h-1.3zM86.0 744.8h1.3v1.3h-1.3zM83.7 749.3h1.3v1.3h-1.3zM74.3 744.6h1.3v1.3h-1.3zM79.6 748.5h1.3v1.3h-1.3zM83.0 726.3h1.3v1.3h-1.3zM85.6 726.1h1.3v1.3h-1.3zM80.1 718.2h1.3v1.3h-1.3zM83.9 743.0h1.3v1.3h-1.3zM88.4 735.3h1.3v1.3h-1.3zM88.5 737.2h1.3v1.3h-1.3zM83.6 743.9h1.3v1.3h-1.3zM88.6 732.9h1.3v1.3h-1.3zM83.0 735.1h1.3v1.3h-1.3zM84.4 726.2h1.3v1.3h-1.3zM88.4 732.2h1.3v1.3h-1.3zM86.0 727.1h1.3v1.3h-1.3zM85.5 741.7h1.3v1.3h-1.3zM82.2 761.3h1.3v1.3h-1.3zM85.6 758.3h1.3v1.3h-1.3zM88.1 729.1h1.3v1.3h-1.3zM82.4 742.2h1.3v1.3h-1.3zM84.3 737.6h1.3v1.3h-1.3zM82.8 715.3h1.3v1.3h-1.3zM83.0 710.4h1.3v1.3h-1.3zM85.6 728.3h1.3v1.3h-1.3zM80.9 734.4h1.3v1.3h-1.3zM85.2 719.8h1.3v1.3h-1.3zM76.5 724.2h1.3v1.3h-1.3zM75.2 725.4h1.3v1.3h-1.3zM90.8 724.3h1.3v1.3h-1.3zM86.8 720.5h1.3v1.3h-1.3zM85.3 733.2h1.3v1.3h-1.3zM83.7 743.8h1.3v1.3h-1.3zM91.6 739.3h1.3v1.3h-1.3zM84.5 725.3h1.3v1.3h-1.3zM86.5 734.0h1.3v1.3h-1.3zM87.6 736.5h1.3v1.3h-1.3zM91.5 713.2h1.3v1.3h-1.3zM82.7 747.6h1.3v1.3h-1.3zM82.5 727.5h1.3v1.3h-1.3zM82.9 720.4h1.3v1.3h-1.3zM88.9 723.7h1.3v1.3h-1.3zM80.2 732.1h1.3v1.3h-1.3zM88.3 727.1h1.3v1.3h-1.3zM81.0 747.6h1.3v1.3h-1.3zM87.7 732.5h1.3v1.3h-1.3zM79.2 718.4h1.3v1.3h-1.3zM81.0 710.2h1.3v1.3h-1.3zM87.2 729.4h1.3v1.3h-1.3zM86.1 759.4h1.3v1.3h-1.3zM89.0 723.2h1.3v1.3h-1.3zM87.7 750.9h1.3v1.3h-1.3zM80.8 725.6h1.3v1.3h-1.3zM83.5 717.8h1.3v1.3h-1.3zM90.3 708.1h1.3v1.3h-1.3zM79.2 733.8h1.3v1.3h-1.3zM83.0 739.0h1.3v1.3h-1.3zM85.2 734.4h1.3v1.3h-1.3zM88.9 711.3h1.3v1.3h-1.3zM84.0 728.4h1.3v1.3h-1.3zM84.6 739.6h1.3v1.3h-1.3zM80.1 729.3h1.3v1.3h-1.3zM87.4 741.2h1.3v1.3h-1.3zM81.1 761.5h1.3v1.3h-1.3zM93.9 719.5h1.3v1.3h-1.3zM87.4 739.7h1.3v1.3h-1.3zM83.1 730.5h1.3v1.3h-1.3zM83.1 730.4h1.3v1.3h-1.3zM87.2 732.2h1.3v1.3h-1.3zM82.1 722.6h1.3v1.3h-1.3zM83.8 726.3h1.3v1.3h-1.3zM83.2 749.5h1.3v1.3h-1.3zM85.6 743.1h1.3v1.3h-1.3zM85.5 737.7h1.3v1.3h-1.3zM83.5 733.3h1.3v1.3h-1.3zM87.3 724.0h1.3v1.3h-1.3zM89.8 737.4h1.3v1.3h-1.3zM80.8 731.1h1.3v1.3h-1.3zM81.1 738.9h1.3v1.3h-1.3zM80.9 750.7h1.3v1.3h-1.3zM80.6 709.7h1.3v1.3h-1.3zM80.9 712.9h1.3v1.3h-1.3zM83.8 749.7h1.3v1.3h-1.3zM86.8 720.9h1.3v1.3h-1.3zM80.7 758.3h1.3v1.3h-1.3zM85.4 737.0h1.3v1.3h-1.3zM89.6 738.7h1.3v1.3h-1.3zM85.5 744.4h1.3v1.3h-1.3zM81.4 724.3h1.3v1.3h-1.3zM84.2 725.6h1.3v1.3h-1.3zM83.7 738.2h1.3v1.3h-1.3zM94.1 726.8h1.3v1.3h-1.3zM83.5 735.0h1.3v1.3h-1.3zM85.9 749.6h1.3v1.3h-1.3zM81.9 727.1h1.3v1.3h-1.3zM76.9 725.9h1.3v1.3h-1.3zM86.3 737.5h1.3v1.3h-1.3zM79.6 732.5h1.3v1.3h-1.3zM84.1 743.0h1.3v1.3h-1.3zM81.4 734.0h1.3v1.3h-1.3zM76.2 723.2h1.3v1.3h-1.3zM91.0 710.7h1.3v1.3h-1.3zM82.5 739.6h1.3v1.3h-1.3zM82.4 727.3h1.3v1.3h-1.3zM83.7 736.9h1.3v1.3h-1.3zM83.6 714.5h1.3v1.3h-1.3zM83.4 726.7h1.3v1.3h-1.3zM81.6 739.7h1.3v1.3h-1.3zM86.8 747.8h1.3v1.3h-1.3zM81.9 748.1h1.3v1.3h-1.3zM89.0 750.6h1.3v1.3h-1.3zM90.0 735.3h1.3v1.3h-1.3zM83.3 746.9h1.3v1.3h-1.3zM78.1 739.5h1.3v1.3h-1.3zM81.7 732.6h1.3v1.3h-1.3zM76.5 726.3h1.3v1.3h-1.3zM83.9 747.7h1.3v1.3h-1.3zM88.3 736.0h1.3v1.3h-1.3zM83.2 727.0h1.3v1.3h-1.3zM85.7 734.0h1.3v1.3h-1.3zM86.6 758.0h1.3v1.3h-1.3zM83.9 719.0h1.3v1.3h-1.3zM80.3 719.5h1.3v1.3h-1.3zM78.9 752.7h1.3v1.3h-1.3zM85.0 718.8h1.3v1.3h-1.3zM86.8 752.1h1.3v1.3h-1.3zM82.5 728.9h1.3v1.3h-1.3zM82.5 740.4h1.3v1.3h-1.3zM86.8 751.2h1.3v1.3h-1.3zM89.2 751.2h1.3v1.3h-1.3zM89.9 744.9h1.3v1.3h-1.3zM77.4 735.4h1.3v1.3h-1.3zM85.3 732.4h1.3v1.3h-1.3zM87.9 732.7h1.3v1.3h-1.3zM80.0 754.3h1.3v1.3h-1.3zM86.9 739.6h1.3v1.3h-1.3zM88.0 749.8h1.3v1.3h-1.3zM85.5 707.5h1.3v1.3h-1.3zM81.1 731.5h1.3v1.3h-1.3zM79.8 739.4h1.3v1.3h-1.3zM89.1 731.2h1.3v1.3h-1.3zM79.1 761.3h1.3v1.3h-1.3zM82.1 722.2h1.3v1.3h-1.3zM85.0 742.1h1.3v1.3h-1.3zM81.0 746.5h1.3v1.3h-1.3zM81.9 725.9h1.3v1.3h-1.3zM84.8 746.2h1.3v1.3h-1.3zM81.3 741.0h1.3v1.3h-1.3zM81.0 753.6h1.3v1.3h-1.3zM83.8 735.5h1.3v1.3h-1.3zM87.1 747.7h1.3v1.3h-1.3zM89.4 740.9h1.3v1.3h-1.3zM81.4 730.5h1.3v1.3h-1.3zM86.2 744.0h1.3v1.3h-1.3zM90.0 742.0h1.3v1.3h-1.3zM88.6 755.2h1.3v1.3h-1.3zM84.7 719.2h1.3v1.3h-1.3zM78.9 719.7h1.3v1.3h-1.3zM90.8 726.8h1.3v1.3h-1.3zM89.3 744.0h1.3v1.3h-1.3zM91.4 749.0h1.3v1.3h-1.3zM83.6 734.6h1.3v1.3h-1.3zM84.4 739.1h1.3v1.3h-1.3zM81.7 736.6h1.3v1.3h-1.3zM90.9 716.6h1.3v1.3h-1.3zM85.1 726.1h1.3v1.3h-1.3zM84.8 747.1h1.3v1.3h-1.3zM83.8 746.3h1.3v1.3h-1.3zM77.2 750.3h1.3v1.3h-1.3zM81.4 744.5h1.3v1.3h-1.3zM84.8 706.0h1.3v1.3h-1.3zM80.7 739.6h1.3v1.3h-1.3zM90.7 740.4h1.3v1.3h-1.3zM85.1 720.0h1.3v1.3h-1.3zM90.2 758.7h1.3v1.3h-1.3zM84.1 734.4h1.3v1.3h-1.3zM77.0 747.6h1.3v1.3h-1.3zM95.6 745.6h1.3v1.3h-1.3zM89.4 743.5h1.3v1.3h-1.3zM79.8 753.0h1.3v1.3h-1.3zM78.7 734.5h1.3v1.3h-1.3zM85.2 747.6h1.3v1.3h-1.3zM85.8 741.6h1.3v1.3h-1.3zM80.7 721.5h1.3v1.3h-1.3zM84.3 728.5h1.3v1.3h-1.3zM78.4 721.8h1.3v1.3h-1.3zM81.9 714.8h1.3v1.3h-1.3zM78.2 717.4h1.3v1.3h-1.3zM84.8 741.9h1.3v1.3h-1.3zM92.6 719.0h1.3v1.3h-1.3zM81.1 748.0h1.3v1.3h-1.3zM83.1 733.1h1.3v1.3h-1.3zM91.3 732.9h1.3v1.3h-1.3zM79.0 721.2h1.3v1.3h-1.3zM85.4 740.7h1.3v1.3h-1.3zM78.1 725.2h1.3v1.3h-1.3zM86.3 743.9h1.3v1.3h-1.3zM81.2 744.5h1.3v1.3h-1.3zM86.5 715.6h1.3v1.3h-1.3zM82.7 742.0h1.3v1.3h-1.3zM81.5 711.3h1.3v1.3h-1.3zM82.8 746.0h1.3v1.3h-1.3zM90.8 710.7h1.3v1.3h-1.3zM95.2 723.5h1.3v1.3h-1.3zM88.1 751.8h1.3v1.3h-1.3zM88.2 738.8h1.3v1.3h-1.3zM79.0 744.5h1.3v1.3h-1.3zM80.9 706.7h1.3v1.3h-1.3zM96.2 745.5h1.3v1.3h-1.3zM91.8 726.1h1.3v1.3h-1.3zM90.3 756.1h1.3v1.3h-1.3zM90.7 736.7h1.3v1.3h-1.3zM78.8 734.9h1.3v1.3h-1.3zM74.5 716.6h1.3v1.3h-1.3zM84.4 725.1h1.3v1.3h-1.3zM83.3 735.7h1.3v1.3h-1.3zM92.3 752.6h1.3v1.3h-1.3zM83.8 751.5h1.3v1.3h-1.3zM80.6 733.0h1.3v1.3h-1.3zM87.9 722.1h1.3v1.3h-1.3zM82.8 721.1h1.3v1.3h-1.3zM84.5 756.6h1.3v1.3h-1.3zM80.8 739.7h1.3v1.3h-1.3zM80.1 723.2h1.3v1.3h-1.3zM78.7 754.5h1.3v1.3h-1.3zM94.2 742.8h1.3v1.3h-1.3zM80.9 745.5h1.3v1.3h-1.3zM82.6 746.6h1.3v1.3h-1.3zM85.3 740.4h1.3v1.3h-1.3zM86.6 730.0h1.3v1.3h-1.3zM82.3 716.3h1.3v1.3h-1.3zM82.1 719.9h1.3v1.3h-1.3zM83.4 725.5h1.3v1.3h-1.3zM84.4 742.4h1.3v1.3h-1.3zM77.9 727.2h1.3v1.3h-1.3zM79.9 746.0h1.3v1.3h-1.3zM91.3 747.2h1.3v1.3h-1.3zM82.5 754.6h1.3v1.3h-1.3zM77.5 755.0h1.3v1.3h-1.3zM81.2 703.6h1.3v1.3h-1.3zM95.4 755.9h1.3v1.3h-1.3zM79.6 739.0h1.3v1.3h-1.3zM83.1 738.2h1.3v1.3h-1.3zM77.6 728.8h1.3v1.3h-1.3zM86.0 739.7h1.3v1.3h-1.3zM89.2 738.0h1.3v1.3h-1.3zM94.1 728.4h1.3v1.3h-1.3zM85.1 714.0h1.3v1.3h-1.3zM78.6 752.9h1.3v1.3h-1.3zM79.9 743.4h1.3v1.3h-1.3zM83.7 724.5h1.3v1.3h-1.3zM82.5 730.8h1.3v1.3h-1.3zM81.9 746.0h1.3v1.3h-1.3zM86.8 730.1h1.3v1.3h-1.3zM80.1 740.4h1.3v1.3h-1.3zM83.6 749.3h1.3v1.3h-1.3zM95.4 747.1h1.3v1.3h-1.3zM83.9 734.9h1.3v1.3h-1.3zM80.3 726.1h1.3v1.3h-1.3zM79.7 732.3h1.3v1.3h-1.3zM82.2 745.9h1.3v1.3h-1.3zM82.3 734.6h1.3v1.3h-1.3zM78.8 756.7h1.3v1.3h-1.3zM86.2 758.5h1.3v1.3h-1.3zM87.4 754.9h1.3v1.3h-1.3zM82.9 745.6h1.3v1.3h-1.3zM95.6 722.3h1.3v1.3h-1.3zM89.1 757.4h1.3v1.3h-1.3zM85.8 746.2h1.3v1.3h-1.3zM89.5 729.0h1.3v1.3h-1.3zM85.8 726.3h1.3v1.3h-1.3zM81.0 729.4h1.3v1.3h-1.3zM83.4 738.8h1.3v1.3h-1.3zM86.0 719.6h1.3v1.3h-1.3zM92.7 751.2h1.3v1.3h-1.3zM87.2 732.6h1.3v1.3h-1.3zM83.6 743.7h1.3v1.3h-1.3zM85.8 716.3h1.3v1.3h-1.3zM75.9 749.2h1.3v1.3h-1.3zM85.6 735.6h1.3v1.3h-1.3zM90.1 722.4h1.3v1.3h-1.3zM84.7 755.0h1.3v1.3h-1.3zM83.1 731.8h1.3v1.3h-1.3zM84.5 731.5h1.3v1.3h-1.3zM90.8 725.8h1.3v1.3h-1.3zM87.9 721.6h1.3v1.3h-1.3zM87.0 735.7h1.3v1.3h-1.3zM72.6 736.9h1.3v1.3h-1.3zM79.3 731.5h1.3v1.3h-1.3zM90.8 723.2h1.3v1.3h-1.3zM79.3 754.8h1.3v1.3h-1.3zM84.5 756.0h1.3v1.3h-1.3zM85.4 726.1h1.3v1.3h-1.3zM83.7 752.2h1.3v1.3h-1.3zM88.2 737.0h1.3v1.3h-1.3zM84.2 735.6h1.3v1.3h-1.3zM81.4 760.8h1.3v1.3h-1.3zM84.0 723.0h1.3v1.3h-1.3zM81.9 746.0h1.3v1.3h-1.3zM86.8 735.3h1.3v1.3h-1.3zM81.0 737.3h1.3v1.3h-1.3zM76.6 720.9h1.3v1.3h-1.3zM87.5 731.1h1.3v1.3h-1.3zM85.7 752.0h1.3v1.3h-1.3zM86.9 737.3h1.3v1.3h-1.3zM93.4 745.2h1.3v1.3h-1.3zM82.4 746.0h1.3v1.3h-1.3zM85.8 726.4h1.3v1.3h-1.3zM84.3 735.0h1.3v1.3h-1.3zM75.3 734.9h1.3v1.3h-1.3zM82.7 731.6h1.3v1.3h-1.3zM76.7 732.6h1.3v1.3h-1.3zM83.8 738.3h1.3v1.3h-1.3zM79.0 744.8h1.3v1.3h-1.3zM78.6 734.2h1.3v1.3h-1.3zM89.8 728.5h1.3v1.3h-1.3zM81.7 750.2h1.3v1.3h-1.3zM82.3 733.3h1.3v1.3h-1.3zM85.0 749.9h1.3v1.3h-1.3zM74.3 726.8h1.3v1.3h-1.3zM79.5 723.6h1.3v1.3h-1.3zM80.2 726.7h1.3v1.3h-1.3zM85.3 726.1h1.3v1.3h-1.3zM84.5 741.9h1.3v1.3h-1.3zM80.8 738.6h1.3v1.3h-1.3zM91.2 741.0h1.3v1.3h-1.3zM81.2 736.2h1.3v1.3h-1.3zM80.0 740.3h1.3v1.3h-1.3zM87.8 726.9h1.3v1.3h-1.3zM83.1 750.6h1.3v1.3h-1.3zM81.8 739.3h1.3v1.3h-1.3zM79.5 727.0h1.3v1.3h-1.3zM82.2 730.6h1.3v1.3h-1.3zM81.6 735.0h1.3v1.3h-1.3zM86.8 739.3h1.3v1.3h-1.3zM92.8 739.6h1.3v1.3h-1.3zM90.2 740.3h1.3v1.3h-1.3zM86.6 719.7h1.3v1.3h-1.3zM83.5 736.2h1.3v1.3h-1.3zM83.0 711.2h1.3v1.3h-1.3zM87.8 732.4h1.3v1.3h-1.3zM82.1 733.9h1.3v1.3h-1.3zM83.0 741.9h1.3v1.3h-1.3zM78.5 725.8h1.3v1.3h-1.3zM85.2 738.7h1.3v1.3h-1.3zM82.4 730.1h1.3v1.3h-1.3zM80.4 736.3h1.3v1.3h-1.3zM89.1 724.3h1.3v1.3h-1.3zM90.6 747.1h1.3v1.3h-1.3zM82.1 746.4h1.3v1.3h-1.3zM77.7 716.2h1.3v1.3h-1.3zM78.5 732.1h1.3v1.3h-1.3zM82.6 730.8h1.3v1.3h-1.3zM84.4 711.4h1.3v1.3h-1.3zM86.1 720.0h1.3v1.3h-1.3zM81.2 732.0h1.3v1.3h-1.3zM79.0 720.5h1.3v1.3h-1.3zM79.7 736.9h1.3v1.3h-1.3zM86.5 743.8h1.3v1.3h-1.3zM79.7 727.5h1.3v1.3h-1.3zM80.0 742.4h1.3v1.3h-1.3zM75.2 751.9h1.3v1.3h-1.3zM81.9 727.6h1.3v1.3h-1.3zM85.5 749.4h1.3v1.3h-1.3zM85.5 749.6h1.3v1.3h-1.3zM84.6 751.8h1.3v1.3h-1.3zM89.4 735.8h1.3v1.3h-1.3zM90.2 739.0h1.3v1.3h-1.3zM84.4 725.9h1.3v1.3h-1.3zM82.8 746.3h1.3v1.3h-1.3zM78.4 744.8h1.3v1.3h-1.3zM85.5 740.3h1.3v1.3h-1.3zM74.5 735.8h1.3v1.3h-1.3zM86.8 727.8h1.3v1.3h-1.3zM84.4 708.5h1.3v1.3h-1.3zM86.9 729.1h1.3v1.3h-1.3zM87.7 714.9h1.3v1.3h-1.3zM87.0 734.2h1.3v1.3h-1.3zM87.5 725.9h1.3v1.3h-1.3zM80.4 728.5h1.3v1.3h-1.3zM82.8 724.7h1.3v1.3h-1.3zM89.1 757.7h1.3v1.3h-1.3zM81.0 716.3h1.3v1.3h-1.3zM89.0 750.3h1.3v1.3h-1.3zM87.5 750.9h1.3v1.3h-1.3zM80.3 735.0h1.3v1.3h-1.3zM78.0 720.0h1.3v1.3h-1.3zM88.2 728.9h1.3v1.3h-1.3zM93.8 737.9h1.3v1.3h-1.3zM81.2 746.6h1.3v1.3h-1.3zM91.7 742.8h1.3v1.3h-1.3zM78.8 741.5h1.3v1.3h-1.3zM89.9 731.1h1.3v1.3h-1.3zM80.7 749.2h1.3v1.3h-1.3zM84.6 723.8h1.3v1.3h-1.3zM82.4 727.9h1.3v1.3h-1.3zM85.3 738.3h1.3v1.3h-1.3zM88.9 745.5h1.3v1.3h-1.3zM77.3 741.9h1.3v1.3h-1.3zM87.9 742.5h1.3v1.3h-1.3zM88.4 730.4h1.3v1.3h-1.3zM79.9 748.2h1.3v1.3h-1.3zM79.4 711.1h1.3v1.3h-1.3zM88.4 728.3h1.3v1.3h-1.3zM82.7 720.2h1.3v1.3h-1.3zM78.3 723.1h1.3v1.3h-1.3zM82.4 741.4h1.3v1.3h-1.3zM74.1 746.0h1.3v1.3h-1.3zM78.9 724.2h1.3v1.3h-1.3zM86.9 736.1h1.3v1.3h-1.3zM77.4 759.1h1.3v1.3h-1.3zM80.3 740.0h1.3v1.3h-1.3zM84.9 753.9h1.3v1.3h-1.3zM82.0 749.1h1.3v1.3h-1.3zM80.8 750.5h1.3v1.3h-1.3zM80.7 732.7h1.3v1.3h-1.3zM92.2 740.8h1.3v1.3h-1.3zM85.6 727.2h1.3v1.3h-1.3zM87.2 722.8h1.3v1.3h-1.3zM88.9 751.5h1.3v1.3h-1.3zM81.5 729.5h1.3v1.3h-1.3zM84.8 737.2h1.3v1.3h-1.3zM79.8 743.8h1.3v1.3h-1.3zM75.2 731.8h1.3v1.3h-1.3zM82.3 733.7h1.3v1.3h-1.3zM85.3 722.3h1.3v1.3h-1.3zM86.5 734.8h1.3v1.3h-1.3zM81.2 720.6h1.3v1.3h-1.3zM78.9 741.3h1.3v1.3h-1.3zM79.9 737.8h1.3v1.3h-1.3zM88.6 749.4h1.3v1.3h-1.3zM90.7 733.4h1.3v1.3h-1.3zM79.3 749.2h1.3v1.3h-1.3zM85.3 750.5h1.3v1.3h-1.3zM84.0 751.3h1.3v1.3h-1.3zM87.6 745.6h1.3v1.3h-1.3zM86.2 741.8h1.3v1.3h-1.3zM85.0 739.7h1.3v1.3h-1.3zM88.3 730.9h1.3v1.3h-1.3zM91.5 735.7h1.3v1.3h-1.3zM88.2 735.9h1.3v1.3h-1.3zM82.9 761.4h1.3v1.3h-1.3zM82.7 721.7h1.3v1.3h-1.3zM80.9 733.2h1.3v1.3h-1.3zM93.3 739.5h1.3v1.3h-1.3zM88.0 725.0h1.3v1.3h-1.3zM85.5 745.1h1.3v1.3h-1.3zM91.7 728.6h1.3v1.3h-1.3zM86.6 740.6h1.3v1.3h-1.3zM79.6 736.8h1.3v1.3h-1.3zM82.9 709.1h1.3v1.3h-1.3zM86.6 743.5h1.3v1.3h-1.3zM82.1 720.9h1.3v1.3h-1.3zM90.4 740.2h1.3v1.3h-1.3zM88.4 753.9h1.3v1.3h-1.3zM81.8 746.7h1.3v1.3h-1.3zM83.0 736.2h1.3v1.3h-1.3zM83.6 737.0h1.3v1.3h-1.3zM88.8 738.5h1.3v1.3h-1.3zM83.3 733.7h1.3v1.3h-1.3zM85.5 726.3h1.3v1.3h-1.3zM81.8 736.4h1.3v1.3h-1.3zM81.6 735.6h1.3v1.3h-1.3zM81.4 761.0h1.3v1.3h-1.3zM89.7 742.4h1.3v1.3h-1.3zM85.4 736.0h1.3v1.3h-1.3zM85.3 740.7h1.3v1.3h-1.3zM90.1 736.8h1.3v1.3h-1.3zM93.0 726.4h1.3v1.3h-1.3zM87.0 725.0h1.3v1.3h-1.3zM91.8 733.0h1.3v1.3h-1.3zM83.7 748.1h1.3v1.3h-1.3zM89.4 723.7h1.3v1.3h-1.3zM82.5 720.3h1.3v1.3h-1.3zM84.6 735.8h1.3v1.3h-1.3zM82.5 728.8h1.3v1.3h-1.3zM82.3 728.0h1.3v1.3h-1.3zM86.3 755.2h1.3v1.3h-1.3zM75.7 735.6h1.3v1.3h-1.3zM82.2 742.9h1.3v1.3h-1.3zM79.9 735.2h1.3v1.3h-1.3zM79.5 745.4h1.3v1.3h-1.3zM84.4 735.1h1.3v1.3h-1.3zM85.6 734.0h1.3v1.3h-1.3zM77.3 744.1h1.3v1.3h-1.3zM85.2 735.2h1.3v1.3h-1.3zM88.2 751.6h1.3v1.3h-1.3zM79.3 727.6h1.3v1.3h-1.3zM90.7 754.0h1.3v1.3h-1.3zM80.8 722.8h1.3v1.3h-1.3zM81.3 731.0h1.3v1.3h-1.3zM77.2 737.4h1.3v1.3h-1.3zM78.5 722.5h1.3v1.3h-1.3zM87.9 728.8h1.3v1.3h-1.3zM83.7 744.5h1.3v1.3h-1.3zM87.5 733.0h1.3v1.3h-1.3zM84.2 727.1h1.3v1.3h-1.3zM91.5 744.8h1.3v1.3h-1.3zM79.3 737.0h1.3v1.3h-1.3zM87.1 742.8h1.3v1.3h-1.3zM91.9 753.5h1.3v1.3h-1.3zM81.7 735.9h1.3v1.3h-1.3zM78.5 740.0h1.3v1.3h-1.3zM84.4 711.9h1.3v1.3h-1.3zM81.1 738.3h1.3v1.3h-1.3zM78.6 726.6h1.3v1.3h-1.3zM82.4 741.1h1.3v1.3h-1.3zM83.3 726.3h1.3v1.3h-1.3zM87.4 730.5h1.3v1.3h-1.3zM81.9 720.4h1.3v1.3h-1.3zM80.6 744.8h1.3v1.3h-1.3zM77.0 736.1h1.3v1.3h-1.3zM87.1 732.5h1.3v1.3h-1.3zM85.0 723.6h1.3v1.3h-1.3zM89.6 750.2h1.3v1.3h-1.3zM85.0 715.9h1.3v1.3h-1.3zM79.5 748.7h1.3v1.3h-1.3zM91.4 740.6h1.3v1.3h-1.3zM89.4 729.7h1.3v1.3h-1.3zM83.2 737.0h1.3v1.3h-1.3zM85.8 718.7h1.3v1.3h-1.3zM88.0 752.9h1.3v1.3h-1.3zM79.1 720.7h1.3v1.3h-1.3zM85.5 729.1h1.3v1.3h-1.3zM73.8 746.7h1.3v1.3h-1.3zM84.7 731.3h1.3v1.3h-1.3zM93.1 738.7h1.3v1.3h-1.3zM80.8 738.2h1.3v1.3h-1.3zM79.5 727.9h1.3v1.3h-1.3zM85.7 730.3h1.3v1.3h-1.3zM82.1 757.0h1.3v1.3h-1.3zM87.7 746.6h1.3v1.3h-1.3zM86.3 742.8h1.3v1.3h-1.3zM90.3 736.8h1.3v1.3h-1.3zM92.0 725.6h1.3v1.3h-1.3zM82.9 720.5h1.3v1.3h-1.3zM82.5 743.2h1.3v1.3h-1.3zM90.2 729.0h1.3v1.3h-1.3zM84.0 732.7h1.3v1.3h-1.3zM80.8 722.7h1.3v1.3h-1.3zM84.3 716.2h1.3v1.3h-1.3zM84.5 737.3h1.3v1.3h-1.3zM81.2 724.9h1.3v1.3h-1.3zM78.0 759.5h1.3v1.3h-1.3zM78.2 755.7h1.3v1.3h-1.3zM86.6 732.6h1.3v1.3h-1.3zM79.0 749.5h1.3v1.3h-1.3zM91.4 725.8h1.3v1.3h-1.3zM82.7 749.6h1.3v1.3h-1.3zM85.4 761.0h1.3v1.3h-1.3zM81.5 743.5h1.3v1.3h-1.3zM78.6 762.2h1.3v1.3h-1.3zM80.9 710.5h1.3v1.3h-1.3zM83.5 735.3h1.3v1.3h-1.3zM92.2 732.9h1.3v1.3h-1.3zM83.9 744.1h1.3v1.3h-1.3zM90.8 736.2h1.3v1.3h-1.3zM88.5 743.2h1.3v1.3h-1.3zM82.7 737.9h1.3v1.3h-1.3zM84.1 726.0h1.3v1.3h-1.3zM89.2 720.4h1.3v1.3h-1.3zM89.0 748.5h1.3v1.3h-1.3zM83.6 727.8h1.3v1.3h-1.3zM83.0 742.7h1.3v1.3h-1.3zM87.2 740.4h1.3v1.3h-1.3zM88.3 730.3h1.3v1.3h-1.3zM85.0 718.2h1.3v1.3h-1.3zM87.3 738.8h1.3v1.3h-1.3zM82.2 750.9h1.3v1.3h-1.3zM87.0 703.2h1.3v1.3h-1.3zM84.2 719.5h1.3v1.3h-1.3zM81.8 737.9h1.3v1.3h-1.3zM82.9 741.2h1.3v1.3h-1.3zM86.8 752.4h1.3v1.3h-1.3zM79.8 755.9h1.3v1.3h-1.3zM80.0 740.3h1.3v1.3h-1.3zM89.0 745.6h1.3v1.3h-1.3zM80.0 728.6h1.3v1.3h-1.3zM82.0 736.4h1.3v1.3h-1.3zM88.9 721.5h1.3v1.3h-1.3zM86.0 744.3h1.3v1.3h-1.3zM86.4 742.6h1.3v1.3h-1.3zM90.5 742.9h1.3v1.3h-1.3zM87.7 743.8h1.3v1.3h-1.3zM91.7 714.2h1.3v1.3h-1.3zM89.5 733.9h1.3v1.3h-1.3zM82.8 725.4h1.3v1.3h-1.3zM76.0 732.4h1.3v1.3h-1.3zM81.0 742.9h1.3v1.3h-1.3zM77.7 754.2h1.3v1.3h-1.3zM85.2 734.0h1.3v1.3h-1.3zM80.9 727.6h1.3v1.3h-1.3zM79.1 730.5h1.3v1.3h-1.3zM84.0 734.9h1.3v1.3h-1.3zM77.9 733.8h1.3v1.3h-1.3zM80.2 738.9h1.3v1.3h-1.3zM92.0 744.5h1.3v1.3h-1.3zM82.7 717.5h1.3v1.3h-1.3zM77.9 716.8h1.3v1.3h-1.3zM87.1 727.8h1.3v1.3h-1.3zM84.3 729.5h1.3v1.3h-1.3zM84.4 753.8h1.3v1.3h-1.3zM81.1 732.9h1.3v1.3h-1.3zM80.5 747.5h1.3v1.3h-1.3zM79.6 723.4h1.3v1.3h-1.3zM78.0 720.1h1.3v1.3h-1.3zM79.7 748.4h1.3v1.3h-1.3zM85.1 723.8h1.3v1.3h-1.3zM82.8 734.2h1.3v1.3h-1.3zM81.0 760.2h1.3v1.3h-1.3zM75.8 741.6h1.3v1.3h-1.3zM85.4 730.0h1.3v1.3h-1.3zM84.6 747.5h1.3v1.3h-1.3zM84.7 742.0h1.3v1.3h-1.3zM87.0 712.6h1.3v1.3h-1.3zM88.2 749.2h1.3v1.3h-1.3zM77.9 735.6h1.3v1.3h-1.3zM80.5 730.0h1.3v1.3h-1.3zM88.2 727.4h1.3v1.3h-1.3zM83.4 714.1h1.3v1.3h-1.3zM83.3 738.1h1.3v1.3h-1.3zM81.0 728.4h1.3v1.3h-1.3zM92.1 722.5h1.3v1.3h-1.3zM79.5 727.3h1.3v1.3h-1.3zM89.2 762.2h1.3v1.3h-1.3zM85.4 728.4h1.3v1.3h-1.3zM82.2 749.8h1.3v1.3h-1.3zM80.1 754.4h1.3v1.3h-1.3zM90.1 737.8h1.3v1.3h-1.3zM86.8 746.0h1.3v1.3h-1.3zM90.7 724.4h1.3v1.3h-1.3zM89.1 732.5h1.3v1.3h-1.3zM80.7 738.2h1.3v1.3h-1.3zM83.1 725.2h1.3v1.3h-1.3zM77.1 725.7h1.3v1.3h-1.3zM90.2 760.6h1.3v1.3h-1.3zM86.8 751.2h1.3v1.3h-1.3zM81.8 736.1h1.3v1.3h-1.3zM85.2 724.0h1.3v1.3h-1.3zM79.7 738.2h1.3v1.3h-1.3zM82.6 724.2h1.3v1.3h-1.3zM85.7 733.8h1.3v1.3h-1.3zM88.4 736.9h1.3v1.3h-1.3zM82.7 738.5h1.3v1.3h-1.3zM83.3 729.0h1.3v1.3h-1.3zM82.3 746.0h1.3v1.3h-1.3zM86.8 752.4h1.3v1.3h-1.3zM76.7 732.3h1.3v1.3h-1.3zM82.2 739.1h1.3v1.3h-1.3zM82.1 730.8h1.3v1.3h-1.3zM87.4 739.1h1.3v1.3h-1.3zM79.0 753.0h1.3v1.3h-1.3zM88.3 730.1h1.3v1.3h-1.3zM87.6 728.2h1.3v1.3h-1.3zM88.8 734.4h1.3v1.3h-1.3zM80.5 732.5h1.3v1.3h-1.3zM80.7 739.3h1.3v1.3h-1.3zM84.8 737.4h1.3v1.3h-1.3zM81.6 693.1h1.3v1.3h-1.3zM84.4 714.2h1.3v1.3h-1.3zM85.1 750.6h1.3v1.3h-1.3zM85.2 732.3h1.3v1.3h-1.3zM83.2 735.4h1.3v1.3h-1.3zM81.6 730.0h1.3v1.3h-1.3zM80.0 751.3h1.3v1.3h-1.3zM83.9 748.5h1.3v1.3h-1.3zM82.9 737.9h1.3v1.3h-1.3zM83.3 742.6h1.3v1.3h-1.3zM87.6 739.9h1.3v1.3h-1.3zM81.1 727.6h1.3v1.3h-1.3zM91.1 733.6h1.3v1.3h-1.3zM82.7 754.6h1.3v1.3h-1.3zM88.7 743.4h1.3v1.3h-1.3zM85.7 743.6h1.3v1.3h-1.3zM83.3 720.0h1.3v1.3h-1.3zM78.3 741.9h1.3v1.3h-1.3zM85.7 734.1h1.3v1.3h-1.3zM79.0 719.7h1.3v1.3h-1.3zM82.6 719.5h1.3v1.3h-1.3zM87.9 750.8h1.3v1.3h-1.3zM96.2 747.5h1.3v1.3h-1.3zM81.5 726.5h1.3v1.3h-1.3zM83.2 748.6h1.3v1.3h-1.3zM86.6 744.1h1.3v1.3h-1.3zM84.9 744.9h1.3v1.3h-1.3zM90.2 724.2h1.3v1.3h-1.3zM82.0 720.3h1.3v1.3h-1.3zM91.0 752.6h1.3v1.3h-1.3zM87.2 722.6h1.3v1.3h-1.3zM84.7 734.2h1.3v1.3h-1.3zM84.3 734.7h1.3v1.3h-1.3zM86.2 732.3h1.3v1.3h-1.3zM87.7 739.9h1.3v1.3h-1.3zM82.7 735.7h1.3v1.3h-1.3zM82.1 746.8h1.3v1.3h-1.3zM82.8 740.5h1.3v1.3h-1.3zM82.3 719.2h1.3v1.3h-1.3zM87.9 724.3h1.3v1.3h-1.3zM86.9 742.0h1.3v1.3h-1.3zM76.9 725.7h1.3v1.3h-1.3zM81.8 727.2h1.3v1.3h-1.3zM78.9 745.9h1.3v1.3h-1.3zM83.0 741.6h1.3v1.3h-1.3zM82.1 740.7h1.3v1.3h-1.3zM80.8 736.7h1.3v1.3h-1.3zM86.5 737.5h1.3v1.3h-1.3zM82.0 724.0h1.3v1.3h-1.3zM84.7 741.1h1.3v1.3h-1.3zM82.9 727.8h1.3v1.3h-1.3zM82.7 741.0h1.3v1.3h-1.3zM85.6 706.2h1.3v1.3h-1.3zM84.5 728.5h1.3v1.3h-1.3zM90.0 734.0h1.3v1.3h-1.3zM80.7 734.4h1.3v1.3h-1.3zM84.7 730.3h1.3v1.3h-1.3zM83.8 720.8h1.3v1.3h-1.3zM83.0 746.3h1.3v1.3h-1.3zM92.5 745.5h1.3v1.3h-1.3zM85.2 751.2h1.3v1.3h-1.3zM88.4 757.0h1.3v1.3h-1.3zM88.7 735.6h1.3v1.3h-1.3zM85.1 739.1h1.3v1.3h-1.3zM85.3 739.4h1.3v1.3h-1.3zM80.6 711.8h1.3v1.3h-1.3zM81.1 712.7h1.3v1.3h-1.3zM84.3 737.1h1.3v1.3h-1.3zM76.8 745.3h1.3v1.3h-1.3zM87.7 738.2h1.3v1.3h-1.3zM91.2 759.5h1.3v1.3h-1.3zM78.8 749.4h1.3v1.3h-1.3zM85.9 742.0h1.3v1.3h-1.3zM88.0 728.4h1.3v1.3h-1.3zM81.5 727.1h1.3v1.3h-1.3zM80.8 735.8h1.3v1.3h-1.3zM77.8 724.5h1.3v1.3h-1.3zM86.5 736.1h1.3v1.3h-1.3zM85.6 714.3h1.3v1.3h-1.3zM80.6 730.3h1.3v1.3h-1.3zM84.1 730.0h1.3v1.3h-1.3zM88.0 736.3h1.3v1.3h-1.3zM84.1 737.2h1.3v1.3h-1.3zM87.0 731.3h1.3v1.3h-1.3zM88.8 742.5h1.3v1.3h-1.3zM84.7 737.5h1.3v1.3h-1.3zM86.2 749.2h1.3v1.3h-1.3zM88.1 741.5h1.3v1.3h-1.3zM87.8 738.4h1.3v1.3h-1.3zM89.4 736.7h1.3v1.3h-1.3zM75.1 753.1h1.3v1.3h-1.3zM84.5 722.9h1.3v1.3h-1.3zM83.1 726.4h1.3v1.3h-1.3zM93.0 743.0h1.3v1.3h-1.3zM77.3 743.6h1.3v1.3h-1.3zM82.3 760.0h1.3v1.3h-1.3zM79.5 710.0h1.3v1.3h-1.3zM84.3 732.8h1.3v1.3h-1.3zM82.2 711.3h1.3v1.3h-1.3zM85.8 757.1h1.3v1.3h-1.3zM75.8 751.1h1.3v1.3h-1.3zM85.9 734.7h1.3v1.3h-1.3zM88.8 743.3h1.3v1.3h-1.3zM81.5 745.5h1.3v1.3h-1.3zM81.8 715.5h1.3v1.3h-1.3zM92.7 732.8h1.3v1.3h-1.3zM81.4 741.1h1.3v1.3h-1.3zM77.3 720.8h1.3v1.3h-1.3zM81.9 730.8h1.3v1.3h-1.3zM84.3 750.5h1.3v1.3h-1.3zM82.0 742.9h1.3v1.3h-1.3zM86.6 724.0h1.3v1.3h-1.3zM85.0 725.7h1.3v1.3h-1.3zM88.6 742.5h1.3v1.3h-1.3zM84.1 720.9h1.3v1.3h-1.3zM84.5 727.8h1.3v1.3h-1.3zM87.0 735.6h1.3v1.3h-1.3zM80.5 748.1h1.3v1.3h-1.3zM87.1 729.9h1.3v1.3h-1.3zM89.0 733.4h1.3v1.3h-1.3zM82.7 738.5h1.3v1.3h-1.3zM80.8 731.7h1.3v1.3h-1.3zM83.3 755.4h1.3v1.3h-1.3zM90.4 733.9h1.3v1.3h-1.3zM90.9 736.5h1.3v1.3h-1.3zM85.6 747.6h1.3v1.3h-1.3zM85.0 722.6h1.3v1.3h-1.3zM89.6 732.1h1.3v1.3h-1.3zM82.7 701.1h1.3v1.3h-1.3zM88.3 746.8h1.3v1.3h-1.3zM87.4 748.7h1.3v1.3h-1.3zM91.3 736.4h1.3v1.3h-1.3zM88.0 728.1h1.3v1.3h-1.3zM82.5 749.7h1.3v1.3h-1.3zM85.7 721.0h1.3v1.3h-1.3zM85.6 734.8h1.3v1.3h-1.3zM80.5 742.2h1.3v1.3h-1.3zM82.3 718.2h1.3v1.3h-1.3zM79.2 758.2h1.3v1.3h-1.3zM77.5 739.7h1.3v1.3h-1.3zM86.6 744.7h1.3v1.3h-1.3zM78.7 733.1h1.3v1.3h-1.3zM84.6 746.6h1.3v1.3h-1.3zM81.2 723.0h1.3v1.3h-1.3zM88.3 750.3h1.3v1.3h-1.3zM85.6 729.7h1.3v1.3h-1.3zM85.7 738.3h1.3v1.3h-1.3zM87.6 722.0h1.3v1.3h-1.3zM84.5 735.1h1.3v1.3h-1.3zM79.2 739.6h1.3v1.3h-1.3zM84.2 732.1h1.3v1.3h-1.3zM85.7 720.0h1.3v1.3h-1.3zM83.8 742.2h1.3v1.3h-1.3zM85.2 749.9h1.3v1.3h-1.3zM78.8 718.9h1.3v1.3h-1.3zM85.0 742.5h1.3v1.3h-1.3zM93.1 744.4h1.3v1.3h-1.3zM80.2 746.7h1.3v1.3h-1.3zM80.4 719.2h1.3v1.3h-1.3zM95.2 740.9h1.3v1.3h-1.3zM87.1 743.8h1.3v1.3h-1.3zM91.8 740.4h1.3v1.3h-1.3zM89.2 724.7h1.3v1.3h-1.3zM78.0 754.1h1.3v1.3h-1.3zM90.3 743.1h1.3v1.3h-1.3zM85.0 739.0h1.3v1.3h-1.3zM81.0 755.5h1.3v1.3h-1.3zM86.8 743.1h1.3v1.3h-1.3zM85.6 749.6h1.3v1.3h-1.3zM86.2 745.9h1.3v1.3h-1.3zM79.0 743.1h1.3v1.3h-1.3zM93.4 730.8h1.3v1.3h-1.3zM83.4 747.7h1.3v1.3h-1.3zM88.1 744.5h1.3v1.3h-1.3zM78.3 717.9h1.3v1.3h-1.3zM81.9 703.2h1.3v1.3h-1.3zM96.7 716.5h1.3v1.3h-1.3zM98.9 760.2h1.3v1.3h-1.3zM98.6 730.0h1.3v1.3h-1.3zM84.4 706.5h1.3v1.3h-1.3zM83.0 707.2h1.3v1.3h-1.3zM82.7 705.6h1.3v1.3h-1.3zM90.2 704.8h1.3v1.3h-1.3zM79.9 695.6h1.3v1.3h-1.3zM95.9 720.5h1.3v1.3h-1.3zM100.7 735.0h1.3v1.3h-1.3zM89.1 725.0h1.3v1.3h-1.3zM79.8 740.7h1.3v1.3h-1.3zM102.2 720.0h1.3v1.3h-1.3zM82.1 718.2h1.3v1.3h-1.3zM76.1 701.0h1.3v1.3h-1.3zM98.4 721.9h1.3v1.3h-1.3zM87.8 727.9h1.3v1.3h-1.3zM83.2 717.5h1.3v1.3h-1.3zM87.8 705.5h1.3v1.3h-1.3zM95.9 707.5h1.3v1.3h-1.3zM108.2 718.2h1.3v1.3h-1.3zM108.9 712.2h1.3v1.3h-1.3zM97.2 705.5h1.3v1.3h-1.3zM80.6 714.8h1.3v1.3h-1.3zM97.8 704.8h1.3v1.3h-1.3zM102.1 712.7h1.3v1.3h-1.3zM93.1 723.2h1.3v1.3h-1.3zM97.1 698.0h1.3v1.3h-1.3zM105.8 731.3h1.3v1.3h-1.3zM88.4 703.6h1.3v1.3h-1.3zM77.6 694.5h1.3v1.3h-1.3zM96.6 715.9h1.3v1.3h-1.3zM82.4 707.1h1.3v1.3h-1.3zM105.3 720.0h1.3v1.3h-1.3zM87.0 732.5h1.3v1.3h-1.3zM95.9 720.4h1.3v1.3h-1.3zM86.8 696.4h1.3v1.3h-1.3zM82.1 707.5h1.3v1.3h-1.3zM90.1 721.6h1.3v1.3h-1.3zM96.7 722.9h1.3v1.3h-1.3zM93.9 706.4h1.3v1.3h-1.3zM73.7 703.1h1.3v1.3h-1.3zM83.9 706.2h1.3v1.3h-1.3zM89.7 701.5h1.3v1.3h-1.3zM82.6 712.4h1.3v1.3h-1.3zM93.0 710.3h1.3v1.3h-1.3zM96.2 717.2h1.3v1.3h-1.3zM83.3 714.5h1.3v1.3h-1.3zM108.0 717.0h1.3v1.3h-1.3zM101.9 739.6h1.3v1.3h-1.3zM104.7 713.6h1.3v1.3h-1.3zM109.1 727.3h1.3v1.3h-1.3zM89.8 714.2h1.3v1.3h-1.3zM97.1 721.0h1.3v1.3h-1.3zM90.5 733.2h1.3v1.3h-1.3zM85.9 702.2h1.3v1.3h-1.3zM98.7 729.8h1.3v1.3h-1.3zM101.3 709.0h1.3v1.3h-1.3zM101.2 728.2h1.3v1.3h-1.3zM107.0 709.4h1.3v1.3h-1.3zM93.9 715.4h1.3v1.3h-1.3zM78.5 702.9h1.3v1.3h-1.3zM101.6 716.6h1.3v1.3h-1.3zM85.9 725.9h1.3v1.3h-1.3zM100.4 734.1h1.3v1.3h-1.3zM85.3 714.2h1.3v1.3h-1.3zM100.8 713.9h1.3v1.3h-1.3zM85.6 725.3h1.3v1.3h-1.3zM105.3 709.8h1.3v1.3h-1.3zM83.4 712.3h1.3v1.3h-1.3zM97.2 718.6h1.3v1.3h-1.3zM86.0 717.2h1.3v1.3h-1.3zM83.8 713.7h1.3v1.3h-1.3zM86.5 748.7h1.3v1.3h-1.3zM98.9 710.8h1.3v1.3h-1.3zM83.5 708.7h1.3v1.3h-1.3zM78.0 702.5h1.3v1.3h-1.3zM85.7 726.1h1.3v1.3h-1.3zM88.4 706.5h1.3v1.3h-1.3zM80.6 698.2h1.3v1.3h-1.3zM91.4 715.1h1.3v1.3h-1.3zM101.6 714.6h1.3v1.3h-1.3zM101.0 725.3h1.3v1.3h-1.3zM92.0 693.1h1.3v1.3h-1.3zM81.0 722.2h1.3v1.3h-1.3zM103.9 726.0h1.3v1.3h-1.3zM98.5 715.9h1.3v1.3h-1.3zM88.8 708.3h1.3v1.3h-1.3zM100.3 726.1h1.3v1.3h-1.3zM90.0 713.0h1.3v1.3h-1.3zM96.7 724.2h1.3v1.3h-1.3zM84.9 736.0h1.3v1.3h-1.3zM94.2 719.1h1.3v1.3h-1.3zM104.6 736.5h1.3v1.3h-1.3zM91.3 724.3h1.3v1.3h-1.3zM82.9 705.9h1.3v1.3h-1.3zM72.8 724.3h1.3v1.3h-1.3zM75.9 719.0h1.3v1.3h-1.3zM84.9 702.6h1.3v1.3h-1.3zM90.3 720.5h1.3v1.3h-1.3zM97.2 742.4h1.3v1.3h-1.3zM95.0 730.3h1.3v1.3h-1.3zM86.9 724.5h1.3v1.3h-1.3zM93.3 712.9h1.3v1.3h-1.3zM91.2 716.9h1.3v1.3h-1.3zM93.6 723.7h1.3v1.3h-1.3zM87.7 706.8h1.3v1.3h-1.3zM98.4 699.9h1.3v1.3h-1.3zM86.7 734.8h1.3v1.3h-1.3zM97.8 700.2h1.3v1.3h-1.3zM114.1 696.0h1.3v1.3h-1.3zM104.2 742.9h1.3v1.3h-1.3zM99.8 718.8h1.3v1.3h-1.3zM95.0 708.3h1.3v1.3h-1.3zM98.9 707.3h1.3v1.3h-1.3zM89.7 729.3h1.3v1.3h-1.3zM82.5 709.1h1.3v1.3h-1.3zM93.4 702.0h1.3v1.3h-1.3zM101.9 726.8h1.3v1.3h-1.3zM79.1 711.5h1.3v1.3h-1.3zM85.4 706.8h1.3v1.3h-1.3zM92.7 709.5h1.3v1.3h-1.3zM100.2 713.0h1.3v1.3h-1.3zM100.3 721.3h1.3v1.3h-1.3zM99.3 714.6h1.3v1.3h-1.3zM87.7 701.7h1.3v1.3h-1.3zM96.9 731.9h1.3v1.3h-1.3zM110.0 742.3h1.3v1.3h-1.3zM94.1 716.4h1.3v1.3h-1.3zM95.3 719.2h1.3v1.3h-1.3zM104.4 735.4h1.3v1.3h-1.3zM84.9 706.2h1.3v1.3h-1.3zM103.6 727.2h1.3v1.3h-1.3zM90.0 731.8h1.3v1.3h-1.3zM88.7 713.0h1.3v1.3h-1.3zM88.1 691.9h1.3v1.3h-1.3zM99.3 706.4h1.3v1.3h-1.3zM87.2 706.6h1.3v1.3h-1.3zM98.2 720.0h1.3v1.3h-1.3zM92.1 697.2h1.3v1.3h-1.3zM91.3 699.4h1.3v1.3h-1.3zM94.6 723.7h1.3v1.3h-1.3zM91.9 743.3h1.3v1.3h-1.3zM96.5 727.4h1.3v1.3h-1.3zM93.2 716.2h1.3v1.3h-1.3zM100.2 735.4h1.3v1.3h-1.3zM80.9 726.0h1.3v1.3h-1.3zM96.4 731.9h1.3v1.3h-1.3zM96.0 704.4h1.3v1.3h-1.3zM82.0 736.1h1.3v1.3h-1.3zM94.1 701.4h1.3v1.3h-1.3zM95.0 714.9h1.3v1.3h-1.3zM76.3 682.4h1.3v1.3h-1.3zM78.4 715.1h1.3v1.3h-1.3zM91.6 714.7h1.3v1.3h-1.3zM94.4 726.6h1.3v1.3h-1.3zM74.1 706.1h1.3v1.3h-1.3zM85.0 699.5h1.3v1.3h-1.3zM87.3 714.3h1.3v1.3h-1.3zM89.7 698.9h1.3v1.3h-1.3zM87.9 741.1h1.3v1.3h-1.3zM83.0 693.0h1.3v1.3h-1.3zM94.3 726.5h1.3v1.3h-1.3zM95.9 705.9h1.3v1.3h-1.3zM100.5 712.2h1.3v1.3h-1.3zM82.4 706.0h1.3v1.3h-1.3zM91.1 726.4h1.3v1.3h-1.3zM97.3 720.2h1.3v1.3h-1.3zM99.9 722.6h1.3v1.3h-1.3zM99.6 704.1h1.3v1.3h-1.3zM78.6 721.5h1.3v1.3h-1.3zM80.2 708.8h1.3v1.3h-1.3zM91.2 711.6h1.3v1.3h-1.3zM88.1 733.5h1.3v1.3h-1.3zM111.5 727.2h1.3v1.3h-1.3zM91.8 726.9h1.3v1.3h-1.3zM107.5 710.4h1.3v1.3h-1.3zM92.7 716.0h1.3v1.3h-1.3zM96.8 722.2h1.3v1.3h-1.3zM97.6 715.3h1.3v1.3h-1.3zM92.4 709.9h1.3v1.3h-1.3zM86.4 713.7h1.3v1.3h-1.3zM90.8 702.9h1.3v1.3h-1.3zM105.3 722.4h1.3v1.3h-1.3zM80.2 726.3h1.3v1.3h-1.3zM85.6 721.4h1.3v1.3h-1.3zM91.9 721.0h1.3v1.3h-1.3zM93.5 711.5h1.3v1.3h-1.3zM92.3 743.4h1.3v1.3h-1.3zM73.0 710.1h1.3v1.3h-1.3zM95.7 706.6h1.3v1.3h-1.3zM80.4 739.4h1.3v1.3h-1.3zM88.8 742.3h1.3v1.3h-1.3zM96.6 721.0h1.3v1.3h-1.3zM96.0 727.7h1.3v1.3h-1.3zM102.0 728.0h1.3v1.3h-1.3zM93.2 720.8h1.3v1.3h-1.3zM103.5 733.4h1.3v1.3h-1.3zM83.5 706.2h1.3v1.3h-1.3zM94.8 711.6h1.3v1.3h-1.3zM88.8 704.7h1.3v1.3h-1.3zM89.8 722.2h1.3v1.3h-1.3zM100.5 722.0h1.3v1.3h-1.3zM109.6 725.1h1.3v1.3h-1.3zM119.1 742.9h1.3v1.3h-1.3zM96.2 713.7h1.3v1.3h-1.3zM93.5 742.5h1.3v1.3h-1.3zM80.3 736.3h1.3v1.3h-1.3zM89.9 726.0h1.3v1.3h-1.3zM89.1 725.1h1.3v1.3h-1.3zM92.8 704.2h1.3v1.3h-1.3zM100.0 730.3h1.3v1.3h-1.3zM97.1 732.8h1.3v1.3h-1.3zM101.4 722.0h1.3v1.3h-1.3zM80.5 695.5h1.3v1.3h-1.3zM103.5 732.1h1.3v1.3h-1.3zM92.9 713.0h1.3v1.3h-1.3zM92.3 718.4h1.3v1.3h-1.3zM89.1 708.0h1.3v1.3h-1.3zM110.4 729.3h1.3v1.3h-1.3zM86.9 699.5h1.3v1.3h-1.3zM85.8 724.1h1.3v1.3h-1.3zM98.4 718.2h1.3v1.3h-1.3zM92.4 714.4h1.3v1.3h-1.3zM82.6 729.8h1.3v1.3h-1.3zM95.2 750.2h1.3v1.3h-1.3zM85.6 713.3h1.3v1.3h-1.3zM99.5 718.4h1.3v1.3h-1.3zM80.2 700.8h1.3v1.3h-1.3zM92.9 722.7h1.3v1.3h-1.3zM91.2 730.1h1.3v1.3h-1.3zM100.4 725.9h1.3v1.3h-1.3zM92.2 715.0h1.3v1.3h-1.3zM96.7 731.6h1.3v1.3h-1.3zM92.5 723.8h1.3v1.3h-1.3zM89.2 699.2h1.3v1.3h-1.3zM83.5 723.6h1.3v1.3h-1.3zM95.8 739.5h1.3v1.3h-1.3zM92.5 728.9h1.3v1.3h-1.3zM103.2 735.5h1.3v1.3h-1.3zM86.8 713.3h1.3v1.3h-1.3zM93.1 706.3h1.3v1.3h-1.3zM96.0 732.5h1.3v1.3h-1.3zM87.9 740.6h1.3v1.3h-1.3zM89.5 714.3h1.3v1.3h-1.3zM90.0 708.3h1.3v1.3h-1.3zM95.6 719.9h1.3v1.3h-1.3zM106.1 732.0h1.3v1.3h-1.3zM96.6 717.3h1.3v1.3h-1.3zM80.0 711.4h1.3v1.3h-1.3zM84.8 726.5h1.3v1.3h-1.3zM91.7 738.5h1.3v1.3h-1.3zM98.3 731.2h1.3v1.3h-1.3zM95.2 714.3h1.3v1.3h-1.3zM106.5 738.8h1.3v1.3h-1.3zM102.7 708.3h1.3v1.3h-1.3zM102.9 721.8h1.3v1.3h-1.3zM100.9 743.1h1.3v1.3h-1.3zM98.2 695.4h1.3v1.3h-1.3zM103.5 746.7h1.3v1.3h-1.3zM99.6 744.2h1.3v1.3h-1.3zM111.1 720.9h1.3v1.3h-1.3zM98.2 711.6h1.3v1.3h-1.3zM112.4 731.2h1.3v1.3h-1.3zM110.5 714.8h1.3v1.3h-1.3zM101.9 750.0h1.3v1.3h-1.3zM108.9 734.6h1.3v1.3h-1.3zM105.5 715.6h1.3v1.3h-1.3zM103.4 749.1h1.3v1.3h-1.3zM109.6 735.7h1.3v1.3h-1.3zM110.0 703.8h1.3v1.3h-1.3zM98.6 722.7h1.3v1.3h-1.3zM111.3 727.8h1.3v1.3h-1.3zM95.6 758.3h1.3v1.3h-1.3zM95.1 716.5h1.3v1.3h-1.3zM103.7 725.1h1.3v1.3h-1.3zM100.4 760.4h1.3v1.3h-1.3zM102.6 723.6h1.3v1.3h-1.3zM103.6 750.4h1.3v1.3h-1.3zM103.4 701.5h1.3v1.3h-1.3zM111.3 721.4h1.3v1.3h-1.3zM111.5 707.3h1.3v1.3h-1.3zM101.2 754.2h1.3v1.3h-1.3zM144.2 709.2h1.3v1.3h-1.3zM133.1 716.3h1.3v1.3h-1.3zM148.2 721.2h1.3v1.3h-1.3zM138.9 726.7h1.3v1.3h-1.3zM139.6 728.5h1.3v1.3h-1.3zM144.3 712.6h1.3v1.3h-1.3zM146.1 709.5h1.3v1.3h-1.3zM136.1 709.3h1.3v1.3h-1.3zM143.0 715.9h1.3v1.3h-1.3zM141.1 714.3h1.3v1.3h-1.3zM149.8 710.2h1.3v1.3h-1.3zM137.3 727.7h1.3v1.3h-1.3zM149.7 715.6h1.3v1.3h-1.3zM131.4 717.4h1.3v1.3h-1.3zM145.1 715.5h1.3v1.3h-1.3zM150.5 703.3h1.3v1.3h-1.3zM145.4 710.8h1.3v1.3h-1.3zM149.2 713.0h1.3v1.3h-1.3zM147.5 709.7h1.3v1.3h-1.3zM133.3 712.9h1.3v1.3h-1.3zM138.0 711.4h1.3v1.3h-1.3zM148.5 723.3h1.3v1.3h-1.3zM143.1 709.0h1.3v1.3h-1.3zM140.8 712.5h1.3v1.3h-1.3zM149.9 715.4h1.3v1.3h-1.3zM144.3 712.9h1.3v1.3h-1.3zM129.8 716.9h1.3v1.3h-1.3zM135.0 722.5h1.3v1.3h-1.3zM142.1 711.1h1.3v1.3h-1.3zM139.2 729.0h1.3v1.3h-1.3zM135.9 713.1h1.3v1.3h-1.3zM140.2 712.7h1.3v1.3h-1.3zM139.0 721.9h1.3v1.3h-1.3zM151.5 700.0h1.3v1.3h-1.3zM141.4 717.3h1.3v1.3h-1.3zM141.0 715.9h1.3v1.3h-1.3zM139.5 724.9h1.3v1.3h-1.3zM138.8 717.3h1.3v1.3h-1.3zM141.5 717.8h1.3v1.3h-1.3zM140.5 724.5h1.3v1.3h-1.3zM141.4 718.2h1.3v1.3h-1.3zM141.2 710.1h1.3v1.3h-1.3zM136.7 711.8h1.3v1.3h-1.3zM142.6 711.5h1.3v1.3h-1.3zM135.3 721.5h1.3v1.3h-1.3zM144.5 703.3h1.3v1.3h-1.3zM151.3 712.8h1.3v1.3h-1.3zM140.9 724.8h1.3v1.3h-1.3zM141.9 712.6h1.3v1.3h-1.3zM154.2 703.7h1.3v1.3h-1.3zM140.9 723.2h1.3v1.3h-1.3zM135.3 719.1h1.3v1.3h-1.3zM143.7 732.9h1.3v1.3h-1.3zM136.3 719.0h1.3v1.3h-1.3zM145.3 715.8h1.3v1.3h-1.3zM134.5 723.0h1.3v1.3h-1.3zM142.1 719.8h1.3v1.3h-1.3zM148.1 721.1h1.3v1.3h-1.3zM143.9 718.1h1.3v1.3h-1.3zM135.1 718.9h1.3v1.3h-1.3zM142.8 713.6h1.3v1.3h-1.3zM142.1 710.9h1.3v1.3h-1.3zM150.4 728.1h1.3v1.3h-1.3zM139.2 720.8h1.3v1.3h-1.3zM140.1 726.5h1.3v1.3h-1.3zM144.0 716.4h1.3v1.3h-1.3zM140.2 718.5h1.3v1.3h-1.3zM135.7 724.4h1.3v1.3h-1.3zM137.4 722.6h1.3v1.3h-1.3zM142.3 724.4h1.3v1.3h-1.3zM141.4 724.2h1.3v1.3h-1.3zM136.2 723.7h1.3v1.3h-1.3zM140.2 719.0h1.3v1.3h-1.3zM141.9 723.4h1.3v1.3h-1.3zM129.8 724.6h1.3v1.3h-1.3zM132.8 729.4h1.3v1.3h-1.3zM130.1 715.1h1.3v1.3h-1.3zM131.8 732.9h1.3v1.3h-1.3zM134.0 721.2h1.3v1.3h-1.3zM138.4 705.8h1.3v1.3h-1.3zM139.5 722.5h1.3v1.3h-1.3zM140.4 724.1h1.3v1.3h-1.3zM139.4 718.0h1.3v1.3h-1.3zM139.3 720.4h1.3v1.3h-1.3zM152.5 714.6h1.3v1.3h-1.3zM142.6 712.1h1.3v1.3h-1.3zM137.1 729.3h1.3v1.3h-1.3zM135.0 713.5h1.3v1.3h-1.3zM140.9 714.3h1.3v1.3h-1.3zM152.8 695.2h1.3v1.3h-1.3zM143.6 721.1h1.3v1.3h-1.3zM135.0 715.4h1.3v1.3h-1.3zM144.0 727.3h1.3v1.3h-1.3zM136.2 708.3h1.3v1.3h-1.3zM147.1 725.2h1.3v1.3h-1.3zM139.6 702.3h1.3v1.3h-1.3zM149.9 711.8h1.3v1.3h-1.3zM148.0 713.7h1.3v1.3h-1.3zM139.3 714.8h1.3v1.3h-1.3zM150.0 723.2h1.3v1.3h-1.3zM129.1 716.0h1.3v1.3h-1.3zM151.8 709.8h1.3v1.3h-1.3zM133.6 720.6h1.3v1.3h-1.3zM140.9 716.6h1.3v1.3h-1.3zM138.7 716.1h1.3v1.3h-1.3zM138.9 720.5h1.3v1.3h-1.3zM136.8 717.1h1.3v1.3h-1.3zM140.7 726.6h1.3v1.3h-1.3zM143.7 715.2h1.3v1.3h-1.3zM144.6 718.4h1.3v1.3h-1.3zM147.8 717.7h1.3v1.3h-1.3zM151.9 721.7h1.3v1.3h-1.3zM141.3 714.2h1.3v1.3h-1.3zM146.6 718.3h1.3v1.3h-1.3zM141.0 706.9h1.3v1.3h-1.3zM130.9 724.3h1.3v1.3h-1.3zM146.0 720.6h1.3v1.3h-1.3zM134.0 727.7h1.3v1.3h-1.3zM138.4 721.1h1.3v1.3h-1.3zM143.9 710.3h1.3v1.3h-1.3zM138.1 704.0h1.3v1.3h-1.3zM136.2 706.7h1.3v1.3h-1.3zM144.0 716.3h1.3v1.3h-1.3zM146.8 717.1h1.3v1.3h-1.3zM137.8 721.1h1.3v1.3h-1.3zM139.2 722.3h1.3v1.3h-1.3zM143.3 709.2h1.3v1.3h-1.3zM141.5 717.4h1.3v1.3h-1.3zM139.7 724.1h1.3v1.3h-1.3zM151.4 709.9h1.3v1.3h-1.3zM139.5 702.1h1.3v1.3h-1.3zM140.8 714.3h1.3v1.3h-1.3zM129.0 724.7h1.3v1.3h-1.3zM144.9 710.3h1.3v1.3h-1.3zM139.3 711.2h1.3v1.3h-1.3zM145.9 704.3h1.3v1.3h-1.3zM139.7 731.5h1.3v1.3h-1.3zM141.8 720.2h1.3v1.3h-1.3zM140.6 709.1h1.3v1.3h-1.3zM141.3 719.9h1.3v1.3h-1.3zM135.6 722.1h1.3v1.3h-1.3zM148.7 721.2h1.3v1.3h-1.3zM132.3 714.3h1.3v1.3h-1.3zM132.1 728.8h1.3v1.3h-1.3zM145.0 720.3h1.3v1.3h-1.3zM136.4 711.1h1.3v1.3h-1.3zM141.9 717.5h1.3v1.3h-1.3zM136.5 720.2h1.3v1.3h-1.3zM145.2 716.9h1.3v1.3h-1.3zM135.5 704.9h1.3v1.3h-1.3zM140.0 718.8h1.3v1.3h-1.3zM140.0 714.7h1.3v1.3h-1.3zM137.5 723.8h1.3v1.3h-1.3zM141.2 718.0h1.3v1.3h-1.3zM135.9 715.2h1.3v1.3h-1.3zM142.5 709.5h1.3v1.3h-1.3zM134.2 718.0h1.3v1.3h-1.3zM148.5 715.2h1.3v1.3h-1.3zM150.0 712.2h1.3v1.3h-1.3zM139.7 708.0h1.3v1.3h-1.3zM138.2 728.6h1.3v1.3h-1.3zM143.4 721.3h1.3v1.3h-1.3zM145.6 715.1h1.3v1.3h-1.3zM140.3 718.4h1.3v1.3h-1.3zM145.4 718.5h1.3v1.3h-1.3zM144.4 716.8h1.3v1.3h-1.3zM137.0 717.2h1.3v1.3h-1.3zM136.0 726.5h1.3v1.3h-1.3zM129.3 721.0h1.3v1.3h-1.3zM155.3 708.3h1.3v1.3h-1.3zM134.9 719.9h1.3v1.3h-1.3zM149.0 712.5h1.3v1.3h-1.3zM145.1 716.1h1.3v1.3h-1.3zM139.3 740.1h1.3v1.3h-1.3zM141.9 713.0h1.3v1.3h-1.3zM138.7 721.0h1.3v1.3h-1.3zM143.9 721.3h1.3v1.3h-1.3zM142.3 706.6h1.3v1.3h-1.3zM144.6 713.4h1.3v1.3h-1.3zM139.8 707.3h1.3v1.3h-1.3zM138.2 713.4h1.3v1.3h-1.3zM141.3 706.9h1.3v1.3h-1.3zM141.8 717.7h1.3v1.3h-1.3zM135.0 715.6h1.3v1.3h-1.3zM136.5 725.6h1.3v1.3h-1.3zM126.8 721.2h1.3v1.3h-1.3zM131.9 718.3h1.3v1.3h-1.3zM146.4 710.3h1.3v1.3h-1.3zM142.3 710.7h1.3v1.3h-1.3zM152.7 718.3h1.3v1.3h-1.3zM148.0 704.7h1.3v1.3h-1.3zM135.1 727.5h1.3v1.3h-1.3zM140.4 715.7h1.3v1.3h-1.3zM143.4 707.3h1.3v1.3h-1.3zM146.0 715.1h1.3v1.3h-1.3zM144.3 711.0h1.3v1.3h-1.3zM144.5 710.7h1.3v1.3h-1.3zM147.0 722.4h1.3v1.3h-1.3zM146.8 718.2h1.3v1.3h-1.3zM145.2 696.3h1.3v1.3h-1.3zM146.3 712.9h1.3v1.3h-1.3zM142.1 714.8h1.3v1.3h-1.3zM133.4 716.9h1.3v1.3h-1.3zM145.3 725.2h1.3v1.3h-1.3zM137.9 712.3h1.3v1.3h-1.3zM149.9 707.0h1.3v1.3h-1.3zM153.5 711.9h1.3v1.3h-1.3zM136.4 726.2h1.3v1.3h-1.3zM151.3 702.5h1.3v1.3h-1.3zM150.5 710.9h1.3v1.3h-1.3zM150.1 710.4h1.3v1.3h-1.3zM132.4 724.7h1.3v1.3h-1.3zM146.9 729.3h1.3v1.3h-1.3zM151.5 717.4h1.3v1.3h-1.3zM140.1 714.0h1.3v1.3h-1.3zM139.8 711.9h1.3v1.3h-1.3zM139.9 699.8h1.3v1.3h-1.3zM142.5 716.3h1.3v1.3h-1.3zM156.4 715.6h1.3v1.3h-1.3zM138.7 722.2h1.3v1.3h-1.3zM134.4 716.0h1.3v1.3h-1.3zM130.7 732.0h1.3v1.3h-1.3zM144.9 707.2h1.3v1.3h-1.3zM141.1 723.8h1.3v1.3h-1.3zM144.4 718.4h1.3v1.3h-1.3zM136.5 714.8h1.3v1.3h-1.3zM142.1 723.2h1.3v1.3h-1.3zM136.7 711.3h1.3v1.3h-1.3zM148.1 707.5h1.3v1.3h-1.3zM147.7 715.9h1.3v1.3h-1.3zM146.6 726.9h1.3v1.3h-1.3zM145.5 720.6h1.3v1.3h-1.3zM136.2 714.5h1.3v1.3h-1.3zM145.2 726.1h1.3v1.3h-1.3zM149.6 729.6h1.3v1.3h-1.3zM143.3 717.6h1.3v1.3h-1.3zM147.3 714.5h1.3v1.3h-1.3zM141.1 709.8h1.3v1.3h-1.3zM147.2 706.9h1.3v1.3h-1.3zM144.5 705.7h1.3v1.3h-1.3zM147.9 706.9h1.3v1.3h-1.3zM146.4 703.6h1.3v1.3h-1.3zM138.9 726.4h1.3v1.3h-1.3zM136.8 719.6h1.3v1.3h-1.3zM138.7 702.0h1.3v1.3h-1.3zM143.3 719.2h1.3v1.3h-1.3zM135.1 723.9h1.3v1.3h-1.3zM136.9 712.0h1.3v1.3h-1.3zM141.5 712.2h1.3v1.3h-1.3zM154.8 700.1h1.3v1.3h-1.3zM145.8 722.0h1.3v1.3h-1.3zM130.0 710.0h1.3v1.3h-1.3zM144.8 712.1h1.3v1.3h-1.3zM143.7 724.0h1.3v1.3h-1.3zM139.3 710.5h1.3v1.3h-1.3zM125.7 725.6h1.3v1.3h-1.3zM136.1 721.6h1.3v1.3h-1.3zM142.8 706.7h1.3v1.3h-1.3zM151.5 720.1h1.3v1.3h-1.3zM146.4 706.5h1.3v1.3h-1.3zM139.1 714.2h1.3v1.3h-1.3zM139.1 710.2h1.3v1.3h-1.3zM144.0 717.5h1.3v1.3h-1.3zM143.6 712.5h1.3v1.3h-1.3zM149.0 714.9h1.3v1.3h-1.3zM125.6 719.7h1.3v1.3h-1.3zM141.2 723.9h1.3v1.3h-1.3zM139.8 716.0h1.3v1.3h-1.3zM137.7 723.4h1.3v1.3h-1.3zM138.9 713.9h1.3v1.3h-1.3zM137.2 722.9h1.3v1.3h-1.3zM138.4 706.6h1.3v1.3h-1.3zM145.1 710.4h1.3v1.3h-1.3zM143.6 718.7h1.3v1.3h-1.3zM148.5 721.2h1.3v1.3h-1.3zM138.2 717.3h1.3v1.3h-1.3zM134.0 732.2h1.3v1.3h-1.3zM144.1 725.6h1.3v1.3h-1.3zM139.6 703.4h1.3v1.3h-1.3zM150.4 713.6h1.3v1.3h-1.3zM142.3 717.0h1.3v1.3h-1.3zM145.2 719.1h1.3v1.3h-1.3zM132.3 728.8h1.3v1.3h-1.3zM138.4 715.1h1.3v1.3h-1.3zM151.5 718.9h1.3v1.3h-1.3zM139.5 704.8h1.3v1.3h-1.3zM142.4 720.4h1.3v1.3h-1.3zM141.0 708.5h1.3v1.3h-1.3zM136.9 710.3h1.3v1.3h-1.3zM142.7 722.2h1.3v1.3h-1.3zM147.4 709.2h1.3v1.3h-1.3zM142.9 720.3h1.3v1.3h-1.3zM138.5 717.3h1.3v1.3h-1.3zM153.8 712.9h1.3v1.3h-1.3zM146.6 711.6h1.3v1.3h-1.3zM141.7 704.8h1.3v1.3h-1.3zM141.4 725.4h1.3v1.3h-1.3zM153.7 719.9h1.3v1.3h-1.3zM145.5 715.6h1.3v1.3h-1.3zM138.0 717.4h1.3v1.3h-1.3zM145.1 709.9h1.3v1.3h-1.3zM146.9 707.6h1.3v1.3h-1.3zM131.2 714.6h1.3v1.3h-1.3zM131.8 711.7h1.3v1.3h-1.3zM148.1 712.6h1.3v1.3h-1.3zM142.8 724.6h1.3v1.3h-1.3zM148.8 710.1h1.3v1.3h-1.3zM149.2 716.2h1.3v1.3h-1.3zM141.5 720.1h1.3v1.3h-1.3zM133.2 715.2h1.3v1.3h-1.3zM140.9 721.6h1.3v1.3h-1.3zM139.3 717.1h1.3v1.3h-1.3zM147.1 724.4h1.3v1.3h-1.3zM145.9 723.9h1.3v1.3h-1.3zM139.2 715.9h1.3v1.3h-1.3zM143.3 714.0h1.3v1.3h-1.3zM138.6 729.9h1.3v1.3h-1.3zM140.3 710.7h1.3v1.3h-1.3zM144.3 728.6h1.3v1.3h-1.3zM142.0 725.4h1.3v1.3h-1.3zM139.0 714.7h1.3v1.3h-1.3zM137.5 717.8h1.3v1.3h-1.3zM152.2 704.1h1.3v1.3h-1.3zM151.0 705.6h1.3v1.3h-1.3zM140.1 723.5h1.3v1.3h-1.3zM145.2 717.3h1.3v1.3h-1.3zM131.9 723.9h1.3v1.3h-1.3zM135.6 737.7h1.3v1.3h-1.3zM140.3 718.9h1.3v1.3h-1.3zM134.8 716.6h1.3v1.3h-1.3zM125.1 731.8h1.3v1.3h-1.3zM135.4 726.8h1.3v1.3h-1.3zM131.2 714.0h1.3v1.3h-1.3zM150.9 708.3h1.3v1.3h-1.3zM120.0 724.9h1.3v1.3h-1.3zM126.6 714.7h1.3v1.3h-1.3zM147.1 710.2h1.3v1.3h-1.3zM146.8 711.8h1.3v1.3h-1.3zM152.9 735.9h1.3v1.3h-1.3zM133.3 717.4h1.3v1.3h-1.3zM129.7 722.4h1.3v1.3h-1.3zM149.5 702.6h1.3v1.3h-1.3zM147.2 704.1h1.3v1.3h-1.3zM129.4 698.5h1.3v1.3h-1.3zM159.0 720.7h1.3v1.3h-1.3zM140.4 711.9h1.3v1.3h-1.3zM148.7 694.8h1.3v1.3h-1.3zM138.3 746.5h1.3v1.3h-1.3zM134.2 720.2h1.3v1.3h-1.3zM144.7 710.3h1.3v1.3h-1.3zM138.2 731.5h1.3v1.3h-1.3zM139.9 724.5h1.3v1.3h-1.3zM134.5 723.8h1.3v1.3h-1.3zM138.6 737.5h1.3v1.3h-1.3zM145.2 717.1h1.3v1.3h-1.3zM113.5 728.6h1.3v1.3h-1.3zM145.6 709.0h1.3v1.3h-1.3zM118.0 706.3h1.3v1.3h-1.3zM147.3 707.2h1.3v1.3h-1.3zM133.4 722.6h1.3v1.3h-1.3zM150.2 719.8h1.3v1.3h-1.3zM137.0 713.4h1.3v1.3h-1.3zM154.3 732.8h1.3v1.3h-1.3zM137.0 703.2h1.3v1.3h-1.3zM130.1 727.0h1.3v1.3h-1.3zM130.8 730.7h1.3v1.3h-1.3zM141.6 723.5h1.3v1.3h-1.3zM144.5 726.0h1.3v1.3h-1.3zM129.4 716.1h1.3v1.3h-1.3zM161.4 705.5h1.3v1.3h-1.3zM133.3 732.8h1.3v1.3h-1.3zM136.4 710.3h1.3v1.3h-1.3zM124.8 726.4h1.3v1.3h-1.3zM148.2 736.8h1.3v1.3h-1.3zM138.5 732.5h1.3v1.3h-1.3zM127.7 722.0h1.3v1.3h-1.3zM131.2 722.1h1.3v1.3h-1.3zM145.5 732.8h1.3v1.3h-1.3zM128.1 735.2h1.3v1.3h-1.3zM133.3 707.7h1.3v1.3h-1.3zM136.3 702.4h1.3v1.3h-1.3zM138.0 723.5h1.3v1.3h-1.3zM136.0 726.4h1.3v1.3h-1.3zM134.9 720.0h1.3v1.3h-1.3zM123.6 720.5h1.3v1.3h-1.3zM129.5 714.6h1.3v1.3h-1.3zM137.1 722.3h1.3v1.3h-1.3zM121.5 701.2h1.3v1.3h-1.3zM135.0 725.7h1.3v1.3h-1.3zM141.6 730.7h1.3v1.3h-1.3zM122.7 650.0h1.3v1.3h-1.3zM129.2 658.5h1.3v1.3h-1.3zM146.6 652.1h1.3v1.3h-1.3zM129.3 676.4h1.3v1.3h-1.3zM154.2 676.6h1.3v1.3h-1.3zM124.7 673.3h1.3v1.3h-1.3zM138.0 663.5h1.3v1.3h-1.3zM138.4 666.9h1.3v1.3h-1.3zM137.0 658.2h1.3v1.3h-1.3zM147.4 686.5h1.3v1.3h-1.3zM119.8 647.7h1.3v1.3h-1.3zM138.7 660.8h1.3v1.3h-1.3zM148.0 671.6h1.3v1.3h-1.3zM119.9 654.8h1.3v1.3h-1.3zM138.8 683.7h1.3v1.3h-1.3zM134.7 667.7h1.3v1.3h-1.3zM133.4 662.9h1.3v1.3h-1.3zM138.4 649.7h1.3v1.3h-1.3zM141.7 659.1h1.3v1.3h-1.3zM144.7 672.4h1.3v1.3h-1.3zM152.1 659.1h1.3v1.3h-1.3zM143.0 648.9h1.3v1.3h-1.3zM156.0 671.9h1.3v1.3h-1.3zM143.3 660.1h1.3v1.3h-1.3zM128.2 683.4h1.3v1.3h-1.3zM123.6 676.7h1.3v1.3h-1.3z" fill="#262626" fill-opacity="0.78"/>
<rect x="70.30" y="630.70" width="142.70" height="133.80" fill="none" stroke="#000" stroke-width="1.8"/>
<line x1="115.80" y1="630.70" x2="115.80" y2="764.50" stroke="#000" stroke-width="1.8"/>
<line x1="70.30" y1="691.80" x2="213.00" y2="691.80" stroke="#000" stroke-width="1.8"/>
<path d="M236.8 662.2h1.3v1.3h-1.3zM244.8 649.4h1.3v1.3h-1.3zM245.3 658.4h1.3v1.3h-1.3zM255.2 648.6h1.3v1.3h-1.3zM255.3 675.1h1.3v1.3h-1.3zM252.6 664.1h1.3v1.3h-1.3zM248.9 651.2h1.3v1.3h-1.3zM252.2 662.9h1.3v1.3h-1.3zM253.4 679.3h1.3v1.3h-1.3zM253.4 663.2h1.3v1.3h-1.3zM258.4 649.9h1.3v1.3h-1.3zM242.1 657.2h1.3v1.3h-1.3zM245.1 665.2h1.3v1.3h-1.3zM247.1 673.0h1.3v1.3h-1.3zM258.1 665.8h1.3v1.3h-1.3zM246.7 664.6h1.3v1.3h-1.3zM253.9 652.0h1.3v1.3h-1.3zM251.1 665.3h1.3v1.3h-1.3zM250.3 671.8h1.3v1.3h-1.3zM256.3 653.8h1.3v1.3h-1.3zM249.7 653.7h1.3v1.3h-1.3zM252.5 653.5h1.3v1.3h-1.3zM254.5 662.9h1.3v1.3h-1.3zM254.8 658.9h1.3v1.3h-1.3zM240.3 673.2h1.3v1.3h-1.3zM248.0 670.3h1.3v1.3h-1.3zM251.6 665.1h1.3v1.3h-1.3zM260.0 662.6h1.3v1.3h-1.3zM257.4 648.9h1.3v1.3h-1.3zM254.2 658.2h1.3v1.3h-1.3zM248.2 660.1h1.3v1.3h-1.3zM251.1 672.4h1.3v1.3h-1.3zM237.9 660.3h1.3v1.3h-1.3zM244.7 668.7h1.3v1.3h-1.3zM246.5 663.4h1.3v1.3h-1.3zM246.6 665.0h1.3v1.3h-1.3zM255.1 657.0h1.3v1.3h-1.3zM249.3 649.3h1.3v1.3h-1.3zM250.8 666.4h1.3v1.3h-1.3zM245.7 668.4h1.3v1.3h-1.3zM236.6 646.1h1.3v1.3h-1.3zM240.7 656.4h1.3v1.3h-1.3zM249.1 659.4h1.3v1.3h-1.3zM248.6 665.4h1.3v1.3h-1.3zM246.2 650.5h1.3v1.3h-1.3zM241.5 675.8h1.3v1.3h-1.3zM234.9 658.7h1.3v1.3h-1.3zM257.7 663.6h1.3v1.3h-1.3zM244.0 660.0h1.3v1.3h-1.3zM254.2 669.1h1.3v1.3h-1.3zM243.6 665.7h1.3v1.3h-1.3zM250.5 668.3h1.3v1.3h-1.3zM257.3 657.4h1.3v1.3h-1.3zM240.3 663.0h1.3v1.3h-1.3zM259.7 665.1h1.3v1.3h-1.3zM250.4 678.0h1.3v1.3h-1.3zM242.8 666.8h1.3v1.3h-1.3zM245.6 660.4h1.3v1.3h-1.3zM249.5 671.4h1.3v1.3h-1.3zM243.4 656.0h1.3v1.3h-1.3zM239.4 663.7h1.3v1.3h-1.3zM246.3 663.2h1.3v1.3h-1.3zM242.6 657.3h1.3v1.3h-1.3zM255.2 658.7h1.3v1.3h-1.3zM252.8 664.0h1.3v1.3h-1.3zM246.9 648.3h1.3v1.3h-1.3zM254.9 661.3h1.3v1.3h-1.3zM254.9 644.9h1.3v1.3h-1.3zM239.1 643.9h1.3v1.3h-1.3zM243.7 667.8h1.3v1.3h-1.3zM252.4 659.7h1.3v1.3h-1.3zM249.8 665.7h1.3v1.3h-1.3zM247.2 663.0h1.3v1.3h-1.3zM249.8 643.6h1.3v1.3h-1.3zM246.7 670.2h1.3v1.3h-1.3zM246.6 658.9h1.3v1.3h-1.3zM245.4 656.4h1.3v1.3h-1.3zM255.7 658.0h1.3v1.3h-1.3zM242.9 636.7h1.3v1.3h-1.3zM245.6 645.2h1.3v1.3h-1.3zM238.1 666.0h1.3v1.3h-1.3zM253.3 645.6h1.3v1.3h-1.3zM254.1 663.4h1.3v1.3h-1.3zM244.3 665.5h1.3v1.3h-1.3zM239.2 651.0h1.3v1.3h-1.3zM240.4 651.7h1.3v1.3h-1.3zM254.3 650.0h1.3v1.3h-1.3zM242.1 652.9h1.3v1.3h-1.3zM250.2 657.5h1.3v1.3h-1.3zM254.2 654.7h1.3v1.3h-1.3zM241.3 656.2h1.3v1.3h-1.3zM249.2 653.0h1.3v1.3h-1.3zM250.6 673.6h1.3v1.3h-1.3zM245.5 660.3h1.3v1.3h-1.3zM257.1 655.1h1.3v1.3h-1.3zM243.9 651.7h1.3v1.3h-1.3zM251.3 663.8h1.3v1.3h-1.3zM248.0 660.2h1.3v1.3h-1.3zM256.5 666.4h1.3v1.3h-1.3zM240.5 659.8h1.3v1.3h-1.3zM249.5 665.2h1.3v1.3h-1.3zM247.5 655.0h1.3v1.3h-1.3zM246.1 646.5h1.3v1.3h-1.3zM248.7 655.3h1.3v1.3h-1.3zM251.6 652.1h1.3v1.3h-1.3zM246.2 652.4h1.3v1.3h-1.3zM242.4 665.0h1.3v1.3h-1.3zM246.0 663.1h1.3v1.3h-1.3zM242.1 660.5h1.3v1.3h-1.3zM238.6 656.1h1.3v1.3h-1.3zM245.8 664.1h1.3v1.3h-1.3zM249.8 658.4h1.3v1.3h-1.3zM253.8 661.1h1.3v1.3h-1.3zM252.0 665.4h1.3v1.3h-1.3zM248.3 657.5h1.3v1.3h-1.3zM250.7 656.5h1.3v1.3h-1.3zM251.1 668.0h1.3v1.3h-1.3zM253.9 656.8h1.3v1.3h-1.3zM241.0 659.2h1.3v1.3h-1.3zM248.0 667.9h1.3v1.3h-1.3zM246.4 658.1h1.3v1.3h-1.3zM253.1 656.1h1.3v1.3h-1.3zM247.8 672.5h1.3v1.3h-1.3zM257.6 664.4h1.3v1.3h-1.3zM250.3 652.4h1.3v1.3h-1.3zM252.1 660.1h1.3v1.3h-1.3zM250.0 655.8h1.3v1.3h-1.3zM248.6 658.3h1.3v1.3h-1.3zM250.6 670.3h1.3v1.3h-1.3zM250.9 647.2h1.3v1.3h-1.3zM242.9 647.8h1.3v1.3h-1.3zM244.0 663.8h1.3v1.3h-1.3zM251.1 655.2h1.3v1.3h-1.3zM250.3 654.0h1.3v1.3h-1.3zM240.2 649.1h1.3v1.3h-1.3zM243.6 670.3h1.3v1.3h-1.3zM240.7 668.9h1.3v1.3h-1.3zM256.7 658.3h1.3v1.3h-1.3zM248.4 655.0h1.3v1.3h-1.3zM248.6 664.6h1.3v1.3h-1.3zM248.8 667.1h1.3v1.3h-1.3zM255.8 662.2h1.3v1.3h-1.3zM250.7 659.2h1.3v1.3h-1.3zM250.8 651.3h1.3v1.3h-1.3zM251.1 661.2h1.3v1.3h-1.3zM243.5 675.7h1.3v1.3h-1.3zM242.9 653.1h1.3v1.3h-1.3zM250.4 645.1h1.3v1.3h-1.3zM243.9 648.2h1.3v1.3h-1.3zM242.9 658.6h1.3v1.3h-1.3zM250.6 667.9h1.3v1.3h-1.3zM253.5 668.5h1.3v1.3h-1.3zM252.2 656.1h1.3v1.3h-1.3zM255.4 655.9h1.3v1.3h-1.3zM245.0 671.0h1.3v1.3h-1.3zM253.4 661.2h1.3v1.3h-1.3zM253.2 666.2h1.3v1.3h-1.3zM240.5 658.9h1.3v1.3h-1.3zM241.6 660.5h1.3v1.3h-1.3zM244.6 669.8h1.3v1.3h-1.3zM251.8 653.5h1.3v1.3h-1.3zM248.6 650.5h1.3v1.3h-1.3zM248.9 663.7h1.3v1.3h-1.3zM250.2 645.1h1.3v1.3h-1.3zM246.7 663.4h1.3v1.3h-1.3zM250.5 668.3h1.3v1.3h-1.3zM241.0 663.5h1.3v1.3h-1.3zM244.8 661.0h1.3v1.3h-1.3zM251.1 664.7h1.3v1.3h-1.3zM245.2 661.0h1.3v1.3h-1.3zM241.7 649.0h1.3v1.3h-1.3zM252.0 659.2h1.3v1.3h-1.3zM238.9 653.2h1.3v1.3h-1.3zM248.8 671.2h1.3v1.3h-1.3zM254.9 665.6h1.3v1.3h-1.3zM237.9 658.8h1.3v1.3h-1.3zM251.5 662.5h1.3v1.3h-1.3zM251.1 657.8h1.3v1.3h-1.3zM259.2 670.6h1.3v1.3h-1.3zM248.1 652.2h1.3v1.3h-1.3zM261.0 655.4h1.3v1.3h-1.3zM255.8 673.9h1.3v1.3h-1.3zM243.0 661.7h1.3v1.3h-1.3zM246.6 663.4h1.3v1.3h-1.3zM250.6 674.1h1.3v1.3h-1.3zM252.2 659.5h1.3v1.3h-1.3zM255.4 657.5h1.3v1.3h-1.3zM246.5 676.3h1.3v1.3h-1.3zM243.7 655.9h1.3v1.3h-1.3zM248.9 651.6h1.3v1.3h-1.3zM236.0 667.5h1.3v1.3h-1.3zM243.9 655.5h1.3v1.3h-1.3zM246.4 652.2h1.3v1.3h-1.3zM242.2 660.8h1.3v1.3h-1.3zM263.0 665.1h1.3v1.3h-1.3zM253.1 648.3h1.3v1.3h-1.3zM248.5 650.7h1.3v1.3h-1.3zM253.3 657.8h1.3v1.3h-1.3zM248.9 658.9h1.3v1.3h-1.3zM245.1 648.1h1.3v1.3h-1.3zM252.1 649.2h1.3v1.3h-1.3zM241.6 657.3h1.3v1.3h-1.3zM244.4 661.5h1.3v1.3h-1.3zM254.7 661.4h1.3v1.3h-1.3zM249.8 659.7h1.3v1.3h-1.3zM253.8 645.7h1.3v1.3h-1.3zM250.8 652.6h1.3v1.3h-1.3zM241.2 659.6h1.3v1.3h-1.3zM246.3 663.9h1.3v1.3h-1.3zM255.3 642.1h1.3v1.3h-1.3zM248.2 674.2h1.3v1.3h-1.3zM253.9 670.4h1.3v1.3h-1.3zM249.3 648.8h1.3v1.3h-1.3zM241.9 664.9h1.3v1.3h-1.3zM254.4 654.1h1.3v1.3h-1.3zM247.0 661.5h1.3v1.3h-1.3zM238.1 656.9h1.3v1.3h-1.3zM258.4 676.0h1.3v1.3h-1.3zM248.0 673.3h1.3v1.3h-1.3zM245.5 653.5h1.3v1.3h-1.3zM235.2 666.7h1.3v1.3h-1.3zM246.4 677.1h1.3v1.3h-1.3zM250.6 661.0h1.3v1.3h-1.3zM237.8 670.8h1.3v1.3h-1.3zM246.5 658.4h1.3v1.3h-1.3zM235.4 666.5h1.3v1.3h-1.3zM254.6 655.0h1.3v1.3h-1.3zM249.2 662.5h1.3v1.3h-1.3zM254.4 660.4h1.3v1.3h-1.3zM259.0 657.8h1.3v1.3h-1.3zM245.0 656.1h1.3v1.3h-1.3zM233.4 653.5h1.3v1.3h-1.3zM254.7 661.6h1.3v1.3h-1.3zM243.8 662.2h1.3v1.3h-1.3zM236.6 657.4h1.3v1.3h-1.3zM251.8 664.8h1.3v1.3h-1.3zM244.0 666.4h1.3v1.3h-1.3zM259.9 656.4h1.3v1.3h-1.3zM253.1 647.9h1.3v1.3h-1.3zM236.9 664.2h1.3v1.3h-1.3zM248.9 661.1h1.3v1.3h-1.3zM245.2 657.4h1.3v1.3h-1.3zM253.5 672.5h1.3v1.3h-1.3zM247.4 647.2h1.3v1.3h-1.3zM256.3 664.1h1.3v1.3h-1.3zM252.8 661.0h1.3v1.3h-1.3zM262.6 660.2h1.3v1.3h-1.3zM251.8 645.7h1.3v1.3h-1.3zM245.2 654.5h1.3v1.3h-1.3zM248.5 662.2h1.3v1.3h-1.3zM244.2 672.6h1.3v1.3h-1.3zM242.3 656.2h1.3v1.3h-1.3zM250.1 650.2h1.3v1.3h-1.3zM252.1 664.4h1.3v1.3h-1.3zM246.9 673.9h1.3v1.3h-1.3zM249.2 661.7h1.3v1.3h-1.3zM242.9 647.1h1.3v1.3h-1.3zM244.9 657.2h1.3v1.3h-1.3zM246.0 665.4h1.3v1.3h-1.3zM234.4 651.1h1.3v1.3h-1.3zM237.7 669.7h1.3v1.3h-1.3zM245.3 655.8h1.3v1.3h-1.3zM242.1 666.4h1.3v1.3h-1.3zM246.2 661.3h1.3v1.3h-1.3zM236.5 668.4h1.3v1.3h-1.3zM251.1 663.8h1.3v1.3h-1.3zM256.1 658.2h1.3v1.3h-1.3zM247.7 665.0h1.3v1.3h-1.3zM251.3 657.8h1.3v1.3h-1.3zM249.0 655.8h1.3v1.3h-1.3zM253.0 666.6h1.3v1.3h-1.3zM248.7 673.7h1.3v1.3h-1.3zM239.5 657.9h1.3v1.3h-1.3zM259.0 656.5h1.3v1.3h-1.3zM239.1 670.1h1.3v1.3h-1.3zM252.0 650.7h1.3v1.3h-1.3zM253.4 652.0h1.3v1.3h-1.3zM240.7 658.5h1.3v1.3h-1.3zM245.8 651.4h1.3v1.3h-1.3zM246.5 652.1h1.3v1.3h-1.3zM249.1 659.5h1.3v1.3h-1.3zM253.2 656.2h1.3v1.3h-1.3zM240.7 649.7h1.3v1.3h-1.3zM247.2 671.2h1.3v1.3h-1.3zM253.8 654.8h1.3v1.3h-1.3zM254.4 650.9h1.3v1.3h-1.3zM254.8 656.8h1.3v1.3h-1.3zM253.3 664.3h1.3v1.3h-1.3zM247.0 662.1h1.3v1.3h-1.3zM242.3 659.1h1.3v1.3h-1.3zM255.2 690.5h1.3v1.3h-1.3zM252.9 660.3h1.3v1.3h-1.3zM242.6 667.6h1.3v1.3h-1.3zM238.8 653.6h1.3v1.3h-1.3zM250.9 650.6h1.3v1.3h-1.3zM258.0 667.9h1.3v1.3h-1.3zM245.3 655.5h1.3v1.3h-1.3zM240.8 649.1h1.3v1.3h-1.3zM251.4 664.3h1.3v1.3h-1.3zM250.8 661.7h1.3v1.3h-1.3zM245.4 662.4h1.3v1.3h-1.3zM239.9 659.7h1.3v1.3h-1.3zM257.6 669.6h1.3v1.3h-1.3zM245.9 657.1h1.3v1.3h-1.3zM257.0 673.1h1.3v1.3h-1.3zM239.7 656.4h1.3v1.3h-1.3zM250.1 668.8h1.3v1.3h-1.3zM243.7 664.5h1.3v1.3h-1.3zM246.9 677.5h1.3v1.3h-1.3zM251.3 658.6h1.3v1.3h-1.3zM246.7 667.6h1.3v1.3h-1.3zM252.8 651.5h1.3v1.3h-1.3zM250.0 649.6h1.3v1.3h-1.3zM244.2 649.9h1.3v1.3h-1.3zM240.7 654.5h1.3v1.3h-1.3zM242.8 663.6h1.3v1.3h-1.3zM253.5 657.9h1.3v1.3h-1.3zM242.0 665.7h1.3v1.3h-1.3zM236.5 645.1h1.3v1.3h-1.3zM253.1 664.6h1.3v1.3h-1.3zM254.6 658.0h1.3v1.3h-1.3zM241.1 655.8h1.3v1.3h-1.3zM252.1 653.9h1.3v1.3h-1.3zM244.5 649.2h1.3v1.3h-1.3zM241.7 666.0h1.3v1.3h-1.3zM251.5 650.9h1.3v1.3h-1.3zM242.2 655.4h1.3v1.3h-1.3zM252.0 650.9h1.3v1.3h-1.3zM247.7 643.5h1.3v1.3h-1.3zM241.2 662.8h1.3v1.3h-1.3zM254.1 651.0h1.3v1.3h-1.3zM244.1 665.7h1.3v1.3h-1.3zM246.4 655.6h1.3v1.3h-1.3zM251.9 661.1h1.3v1.3h-1.3zM255.4 665.6h1.3v1.3h-1.3zM245.3 658.8h1.3v1.3h-1.3zM248.4 649.5h1.3v1.3h-1.3zM242.9 667.0h1.3v1.3h-1.3zM239.2 667.2h1.3v1.3h-1.3zM250.5 658.6h1.3v1.3h-1.3zM250.0 679.0h1.3v1.3h-1.3zM254.0 672.9h1.3v1.3h-1.3zM245.4 674.0h1.3v1.3h-1.3zM258.1 682.3h1.3v1.3h-1.3zM241.2 673.4h1.3v1.3h-1.3zM242.5 675.8h1.3v1.3h-1.3zM248.0 691.8h1.3v1.3h-1.3zM235.8 682.9h1.3v1.3h-1.3zM249.4 670.8h1.3v1.3h-1.3zM245.9 672.2h1.3v1.3h-1.3zM247.1 682.8h1.3v1.3h-1.3zM237.6 684.9h1.3v1.3h-1.3zM244.5 686.3h1.3v1.3h-1.3zM249.2 684.4h1.3v1.3h-1.3zM250.2 683.4h1.3v1.3h-1.3zM247.1 669.9h1.3v1.3h-1.3zM250.8 680.7h1.3v1.3h-1.3zM259.4 661.7h1.3v1.3h-1.3zM245.6 683.2h1.3v1.3h-1.3zM239.3 674.2h1.3v1.3h-1.3zM259.5 685.7h1.3v1.3h-1.3zM241.5 685.8h1.3v1.3h-1.3zM253.9 681.2h1.3v1.3h-1.3zM249.1 677.4h1.3v1.3h-1.3zM241.6 672.2h1.3v1.3h-1.3zM251.2 676.8h1.3v1.3h-1.3zM257.9 673.4h1.3v1.3h-1.3zM232.4 673.4h1.3v1.3h-1.3zM248.5 678.5h1.3v1.3h-1.3zM247.2 670.0h1.3v1.3h-1.3zM255.8 671.1h1.3v1.3h-1.3zM251.1 673.8h1.3v1.3h-1.3zM239.6 685.7h1.3v1.3h-1.3zM231.8 669.8h1.3v1.3h-1.3zM249.4 673.3h1.3v1.3h-1.3zM251.4 675.1h1.3v1.3h-1.3zM244.1 691.0h1.3v1.3h-1.3zM245.5 674.7h1.3v1.3h-1.3zM240.4 670.6h1.3v1.3h-1.3zM250.8 679.8h1.3v1.3h-1.3zM246.9 670.9h1.3v1.3h-1.3zM251.0 663.9h1.3v1.3h-1.3zM244.8 674.1h1.3v1.3h-1.3zM241.8 676.9h1.3v1.3h-1.3zM242.9 670.2h1.3v1.3h-1.3zM257.7 681.1h1.3v1.3h-1.3zM254.1 676.3h1.3v1.3h-1.3zM252.7 681.4h1.3v1.3h-1.3zM254.2 692.5h1.3v1.3h-1.3zM245.6 677.7h1.3v1.3h-1.3zM246.6 651.3h1.3v1.3h-1.3zM238.6 676.1h1.3v1.3h-1.3zM250.7 671.9h1.3v1.3h-1.3zM253.8 684.9h1.3v1.3h-1.3zM244.5 685.9h1.3v1.3h-1.3zM257.5 679.2h1.3v1.3h-1.3zM241.1 686.2h1.3v1.3h-1.3zM246.0 673.3h1.3v1.3h-1.3zM247.7 672.2h1.3v1.3h-1.3zM253.4 681.4h1.3v1.3h-1.3zM254.3 680.1h1.3v1.3h-1.3zM242.2 674.9h1.3v1.3h-1.3zM252.3 673.2h1.3v1.3h-1.3zM264.5 674.3h1.3v1.3h-1.3zM243.5 684.0h1.3v1.3h-1.3zM251.5 675.8h1.3v1.3h-1.3zM245.6 679.0h1.3v1.3h-1.3zM252.0 681.3h1.3v1.3h-1.3zM245.2 679.0h1.3v1.3h-1.3zM252.1 681.4h1.3v1.3h-1.3zM228.5 669.8h1.3v1.3h-1.3zM242.3 674.4h1.3v1.3h-1.3zM248.1 682.5h1.3v1.3h-1.3zM250.7 675.1h1.3v1.3h-1.3zM247.1 688.3h1.3v1.3h-1.3zM243.3 678.1h1.3v1.3h-1.3zM256.4 678.4h1.3v1.3h-1.3zM234.7 678.6h1.3v1.3h-1.3zM244.7 675.2h1.3v1.3h-1.3zM253.3 679.3h1.3v1.3h-1.3zM260.3 661.2h1.3v1.3h-1.3zM257.1 664.3h1.3v1.3h-1.3zM230.8 674.6h1.3v1.3h-1.3zM232.0 688.5h1.3v1.3h-1.3zM242.1 670.7h1.3v1.3h-1.3zM246.7 683.0h1.3v1.3h-1.3zM251.1 646.6h1.3v1.3h-1.3zM247.9 673.1h1.3v1.3h-1.3zM259.4 648.6h1.3v1.3h-1.3zM256.6 683.6h1.3v1.3h-1.3zM230.8 669.8h1.3v1.3h-1.3zM239.6 646.8h1.3v1.3h-1.3zM259.9 682.5h1.3v1.3h-1.3zM254.9 666.2h1.3v1.3h-1.3zM227.6 664.3h1.3v1.3h-1.3zM250.2 644.1h1.3v1.3h-1.3zM231.7 685.3h1.3v1.3h-1.3zM245.6 665.7h1.3v1.3h-1.3zM263.8 683.2h1.3v1.3h-1.3zM229.8 643.8h1.3v1.3h-1.3zM257.5 674.0h1.3v1.3h-1.3zM244.9 658.8h1.3v1.3h-1.3zM263.2 666.8h1.3v1.3h-1.3zM258.8 671.2h1.3v1.3h-1.3zM229.4 681.3h1.3v1.3h-1.3zM250.8 686.2h1.3v1.3h-1.3zM258.8 648.3h1.3v1.3h-1.3zM237.3 683.0h1.3v1.3h-1.3zM253.1 645.8h1.3v1.3h-1.3zM236.4 640.5h1.3v1.3h-1.3zM234.6 655.1h1.3v1.3h-1.3zM239.3 654.2h1.3v1.3h-1.3zM237.8 678.6h1.3v1.3h-1.3zM262.6 668.0h1.3v1.3h-1.3zM235.7 659.4h1.3v1.3h-1.3zM248.4 717.6h1.3v1.3h-1.3zM245.6 734.0h1.3v1.3h-1.3zM240.7 724.0h1.3v1.3h-1.3zM242.1 737.8h1.3v1.3h-1.3zM241.1 734.3h1.3v1.3h-1.3zM253.4 733.3h1.3v1.3h-1.3zM236.2 730.6h1.3v1.3h-1.3zM250.8 725.6h1.3v1.3h-1.3zM251.1 736.5h1.3v1.3h-1.3zM247.4 726.0h1.3v1.3h-1.3zM242.2 726.0h1.3v1.3h-1.3zM245.4 735.4h1.3v1.3h-1.3zM247.4 725.5h1.3v1.3h-1.3zM245.4 733.8h1.3v1.3h-1.3zM236.1 719.9h1.3v1.3h-1.3zM240.7 726.7h1.3v1.3h-1.3zM243.6 726.1h1.3v1.3h-1.3zM240.3 737.2h1.3v1.3h-1.3zM246.6 709.5h1.3v1.3h-1.3zM245.2 715.7h1.3v1.3h-1.3zM254.4 723.7h1.3v1.3h-1.3zM242.9 730.2h1.3v1.3h-1.3zM244.0 728.5h1.3v1.3h-1.3zM253.6 731.9h1.3v1.3h-1.3zM249.7 742.7h1.3v1.3h-1.3zM239.7 749.5h1.3v1.3h-1.3zM248.9 740.7h1.3v1.3h-1.3zM240.3 739.0h1.3v1.3h-1.3zM247.4 722.8h1.3v1.3h-1.3zM257.7 736.0h1.3v1.3h-1.3zM243.8 731.5h1.3v1.3h-1.3zM250.1 742.8h1.3v1.3h-1.3zM248.3 743.8h1.3v1.3h-1.3zM253.2 714.4h1.3v1.3h-1.3zM242.4 718.0h1.3v1.3h-1.3zM245.6 746.6h1.3v1.3h-1.3zM248.7 716.7h1.3v1.3h-1.3zM243.5 741.6h1.3v1.3h-1.3zM242.2 728.1h1.3v1.3h-1.3zM246.8 707.4h1.3v1.3h-1.3zM249.4 733.3h1.3v1.3h-1.3zM248.2 717.5h1.3v1.3h-1.3zM240.9 722.1h1.3v1.3h-1.3zM246.5 730.1h1.3v1.3h-1.3zM245.8 750.7h1.3v1.3h-1.3zM252.3 720.6h1.3v1.3h-1.3zM241.5 749.8h1.3v1.3h-1.3zM243.4 745.8h1.3v1.3h-1.3zM253.9 722.7h1.3v1.3h-1.3zM243.6 730.2h1.3v1.3h-1.3zM240.4 717.5h1.3v1.3h-1.3zM242.9 739.5h1.3v1.3h-1.3zM242.6 726.8h1.3v1.3h-1.3zM242.6 712.9h1.3v1.3h-1.3zM253.3 701.1h1.3v1.3h-1.3zM241.5 735.9h1.3v1.3h-1.3zM237.4 736.5h1.3v1.3h-1.3zM252.0 718.9h1.3v1.3h-1.3zM246.3 715.9h1.3v1.3h-1.3zM247.9 730.3h1.3v1.3h-1.3zM246.3 745.6h1.3v1.3h-1.3zM247.7 745.4h1.3v1.3h-1.3zM248.6 714.8h1.3v1.3h-1.3zM246.5 735.1h1.3v1.3h-1.3zM237.2 745.2h1.3v1.3h-1.3zM245.5 733.6h1.3v1.3h-1.3zM240.2 730.1h1.3v1.3h-1.3zM246.8 725.3h1.3v1.3h-1.3zM245.5 703.8h1.3v1.3h-1.3zM252.6 715.9h1.3v1.3h-1.3zM233.1 717.7h1.3v1.3h-1.3zM240.5 735.8h1.3v1.3h-1.3zM240.1 732.6h1.3v1.3h-1.3zM239.8 755.7h1.3v1.3h-1.3zM248.1 752.7h1.3v1.3h-1.3zM239.5 737.2h1.3v1.3h-1.3zM239.8 736.2h1.3v1.3h-1.3zM248.8 710.1h1.3v1.3h-1.3zM238.8 715.2h1.3v1.3h-1.3zM236.8 720.4h1.3v1.3h-1.3zM239.8 711.8h1.3v1.3h-1.3zM245.6 735.7h1.3v1.3h-1.3zM237.9 722.5h1.3v1.3h-1.3zM245.1 726.4h1.3v1.3h-1.3zM241.2 738.9h1.3v1.3h-1.3zM249.7 737.3h1.3v1.3h-1.3zM243.9 753.0h1.3v1.3h-1.3zM254.6 724.3h1.3v1.3h-1.3zM244.4 743.4h1.3v1.3h-1.3zM240.7 733.9h1.3v1.3h-1.3zM245.3 720.7h1.3v1.3h-1.3zM243.8 710.3h1.3v1.3h-1.3zM242.1 705.2h1.3v1.3h-1.3zM257.6 747.2h1.3v1.3h-1.3zM251.8 732.7h1.3v1.3h-1.3zM250.5 744.4h1.3v1.3h-1.3zM250.6 740.1h1.3v1.3h-1.3zM240.0 734.2h1.3v1.3h-1.3zM242.1 714.9h1.3v1.3h-1.3zM238.8 734.2h1.3v1.3h-1.3zM250.8 712.7h1.3v1.3h-1.3zM254.6 746.7h1.3v1.3h-1.3zM242.9 723.5h1.3v1.3h-1.3zM244.6 740.8h1.3v1.3h-1.3zM242.9 715.8h1.3v1.3h-1.3zM246.9 704.2h1.3v1.3h-1.3zM245.8 742.9h1.3v1.3h-1.3zM246.7 738.4h1.3v1.3h-1.3zM247.7 737.7h1.3v1.3h-1.3zM245.8 719.1h1.3v1.3h-1.3zM243.8 728.1h1.3v1.3h-1.3zM251.9 748.5h1.3v1.3h-1.3zM247.3 720.0h1.3v1.3h-1.3zM241.0 726.7h1.3v1.3h-1.3zM252.6 733.0h1.3v1.3h-1.3zM244.7 719.8h1.3v1.3h-1.3zM249.9 732.5h1.3v1.3h-1.3zM244.7 730.2h1.3v1.3h-1.3zM254.3 727.1h1.3v1.3h-1.3zM254.3 743.9h1.3v1.3h-1.3zM245.3 739.6h1.3v1.3h-1.3zM244.3 719.1h1.3v1.3h-1.3zM243.5 718.1h1.3v1.3h-1.3zM247.8 729.2h1.3v1.3h-1.3zM248.1 738.9h1.3v1.3h-1.3zM227.8 732.7h1.3v1.3h-1.3zM235.1 731.0h1.3v1.3h-1.3zM240.2 730.3h1.3v1.3h-1.3zM252.5 708.5h1.3v1.3h-1.3zM246.0 728.1h1.3v1.3h-1.3zM234.6 736.8h1.3v1.3h-1.3zM245.2 722.9h1.3v1.3h-1.3zM242.8 707.4h1.3v1.3h-1.3zM239.9 724.6h1.3v1.3h-1.3zM242.9 728.1h1.3v1.3h-1.3zM239.2 735.5h1.3v1.3h-1.3zM242.3 712.7h1.3v1.3h-1.3zM240.5 724.4h1.3v1.3h-1.3zM249.7 734.8h1.3v1.3h-1.3zM243.1 729.2h1.3v1.3h-1.3zM246.2 753.5h1.3v1.3h-1.3zM241.6 734.6h1.3v1.3h-1.3zM249.0 717.6h1.3v1.3h-1.3zM246.0 731.0h1.3v1.3h-1.3zM242.4 735.8h1.3v1.3h-1.3zM250.7 742.6h1.3v1.3h-1.3zM243.9 731.3h1.3v1.3h-1.3zM257.9 715.8h1.3v1.3h-1.3zM246.2 739.7h1.3v1.3h-1.3zM245.8 736.9h1.3v1.3h-1.3zM245.9 738.0h1.3v1.3h-1.3zM252.1 726.3h1.3v1.3h-1.3zM246.1 728.3h1.3v1.3h-1.3zM242.8 728.8h1.3v1.3h-1.3zM238.8 737.9h1.3v1.3h-1.3zM254.4 749.5h1.3v1.3h-1.3zM252.0 717.4h1.3v1.3h-1.3zM253.4 720.4h1.3v1.3h-1.3zM244.7 751.2h1.3v1.3h-1.3zM239.1 739.1h1.3v1.3h-1.3zM246.5 727.2h1.3v1.3h-1.3zM240.2 734.1h1.3v1.3h-1.3zM242.4 741.5h1.3v1.3h-1.3zM251.7 712.4h1.3v1.3h-1.3zM242.2 725.2h1.3v1.3h-1.3zM238.5 715.6h1.3v1.3h-1.3zM245.5 726.5h1.3v1.3h-1.3zM235.9 722.5h1.3v1.3h-1.3zM247.9 714.5h1.3v1.3h-1.3zM239.9 748.1h1.3v1.3h-1.3zM252.2 709.5h1.3v1.3h-1.3zM237.6 733.5h1.3v1.3h-1.3zM238.4 726.0h1.3v1.3h-1.3zM242.5 735.7h1.3v1.3h-1.3zM231.1 702.6h1.3v1.3h-1.3zM238.3 741.2h1.3v1.3h-1.3zM244.2 708.5h1.3v1.3h-1.3zM247.7 737.5h1.3v1.3h-1.3zM243.6 725.0h1.3v1.3h-1.3zM247.4 743.5h1.3v1.3h-1.3zM245.8 735.4h1.3v1.3h-1.3zM244.7 724.4h1.3v1.3h-1.3zM240.0 732.1h1.3v1.3h-1.3zM243.3 726.1h1.3v1.3h-1.3zM250.1 734.9h1.3v1.3h-1.3zM249.8 710.1h1.3v1.3h-1.3zM248.1 721.9h1.3v1.3h-1.3zM240.6 718.8h1.3v1.3h-1.3zM251.7 738.9h1.3v1.3h-1.3zM241.1 715.3h1.3v1.3h-1.3zM245.1 723.5h1.3v1.3h-1.3zM254.1 711.5h1.3v1.3h-1.3zM234.9 725.9h1.3v1.3h-1.3zM245.1 730.6h1.3v1.3h-1.3zM249.1 753.9h1.3v1.3h-1.3zM243.1 722.5h1.3v1.3h-1.3zM235.3 731.9h1.3v1.3h-1.3zM249.7 725.9h1.3v1.3h-1.3zM251.5 729.4h1.3v1.3h-1.3zM253.3 733.0h1.3v1.3h-1.3zM239.2 721.4h1.3v1.3h-1.3zM236.6 708.2h1.3v1.3h-1.3zM246.5 739.4h1.3v1.3h-1.3zM255.7 728.3h1.3v1.3h-1.3zM243.7 715.7h1.3v1.3h-1.3zM250.4 733.7h1.3v1.3h-1.3zM241.7 737.3h1.3v1.3h-1.3zM248.1 706.6h1.3v1.3h-1.3zM249.1 730.6h1.3v1.3h-1.3zM242.8 724.0h1.3v1.3h-1.3zM254.6 747.4h1.3v1.3h-1.3zM255.0 715.2h1.3v1.3h-1.3zM241.4 739.9h1.3v1.3h-1.3zM238.4 720.4h1.3v1.3h-1.3zM235.1 751.2h1.3v1.3h-1.3zM250.8 734.5h1.3v1.3h-1.3zM246.2 724.0h1.3v1.3h-1.3zM242.8 736.4h1.3v1.3h-1.3zM241.1 743.7h1.3v1.3h-1.3zM242.3 718.5h1.3v1.3h-1.3zM252.1 727.3h1.3v1.3h-1.3zM248.1 724.0h1.3v1.3h-1.3zM232.6 735.6h1.3v1.3h-1.3zM237.6 742.0h1.3v1.3h-1.3zM236.5 706.6h1.3v1.3h-1.3zM246.7 734.1h1.3v1.3h-1.3zM245.6 714.4h1.3v1.3h-1.3zM249.9 711.4h1.3v1.3h-1.3zM242.4 719.5h1.3v1.3h-1.3zM242.9 739.2h1.3v1.3h-1.3zM241.5 735.8h1.3v1.3h-1.3zM248.8 708.5h1.3v1.3h-1.3zM238.6 724.4h1.3v1.3h-1.3zM241.7 732.7h1.3v1.3h-1.3zM234.4 737.6h1.3v1.3h-1.3zM249.1 727.0h1.3v1.3h-1.3zM237.4 729.1h1.3v1.3h-1.3zM242.0 735.8h1.3v1.3h-1.3zM244.5 737.7h1.3v1.3h-1.3zM242.6 746.3h1.3v1.3h-1.3zM232.3 716.8h1.3v1.3h-1.3zM247.7 710.9h1.3v1.3h-1.3zM249.0 714.4h1.3v1.3h-1.3zM245.5 718.0h1.3v1.3h-1.3zM242.6 731.1h1.3v1.3h-1.3zM244.4 724.4h1.3v1.3h-1.3zM256.8 729.1h1.3v1.3h-1.3zM239.7 740.1h1.3v1.3h-1.3zM249.5 743.7h1.3v1.3h-1.3zM254.8 717.7h1.3v1.3h-1.3zM250.8 742.7h1.3v1.3h-1.3zM245.0 731.9h1.3v1.3h-1.3zM228.5 722.1h1.3v1.3h-1.3zM254.8 707.6h1.3v1.3h-1.3zM242.1 732.5h1.3v1.3h-1.3zM248.2 748.6h1.3v1.3h-1.3zM235.3 729.5h1.3v1.3h-1.3zM249.7 713.2h1.3v1.3h-1.3zM244.8 751.6h1.3v1.3h-1.3zM252.2 735.5h1.3v1.3h-1.3zM230.6 727.4h1.3v1.3h-1.3zM247.1 725.3h1.3v1.3h-1.3zM243.8 717.4h1.3v1.3h-1.3zM246.3 725.2h1.3v1.3h-1.3zM243.3 728.0h1.3v1.3h-1.3zM249.3 731.9h1.3v1.3h-1.3zM238.4 727.4h1.3v1.3h-1.3zM247.6 723.4h1.3v1.3h-1.3zM251.3 738.3h1.3v1.3h-1.3zM239.6 732.8h1.3v1.3h-1.3zM255.9 747.7h1.3v1.3h-1.3zM244.7 739.8h1.3v1.3h-1.3zM241.3 711.6h1.3v1.3h-1.3zM248.0 732.0h1.3v1.3h-1.3zM247.8 728.7h1.3v1.3h-1.3zM246.8 722.8h1.3v1.3h-1.3zM247.6 739.0h1.3v1.3h-1.3zM244.7 738.8h1.3v1.3h-1.3zM235.3 719.6h1.3v1.3h-1.3zM252.9 750.1h1.3v1.3h-1.3zM246.4 727.8h1.3v1.3h-1.3zM238.0 733.4h1.3v1.3h-1.3zM249.3 711.2h1.3v1.3h-1.3zM248.1 734.9h1.3v1.3h-1.3zM247.4 715.5h1.3v1.3h-1.3zM248.0 711.0h1.3v1.3h-1.3zM253.2 730.6h1.3v1.3h-1.3zM238.6 745.1h1.3v1.3h-1.3zM251.3 721.2h1.3v1.3h-1.3zM257.1 717.0h1.3v1.3h-1.3zM246.7 743.2h1.3v1.3h-1.3zM232.5 741.0h1.3v1.3h-1.3zM244.6 728.8h1.3v1.3h-1.3zM239.1 733.0h1.3v1.3h-1.3zM238.9 717.4h1.3v1.3h-1.3zM242.5 714.3h1.3v1.3h-1.3zM253.7 713.1h1.3v1.3h-1.3zM240.8 725.2h1.3v1.3h-1.3zM245.0 738.5h1.3v1.3h-1.3zM249.5 725.4h1.3v1.3h-1.3zM242.9 729.4h1.3v1.3h-1.3zM249.5 737.4h1.3v1.3h-1.3zM242.2 704.3h1.3v1.3h-1.3zM256.8 740.4h1.3v1.3h-1.3zM246.4 733.1h1.3v1.3h-1.3zM242.1 717.0h1.3v1.3h-1.3zM243.2 726.3h1.3v1.3h-1.3zM241.6 711.5h1.3v1.3h-1.3zM243.3 735.9h1.3v1.3h-1.3zM242.3 729.3h1.3v1.3h-1.3zM233.6 726.5h1.3v1.3h-1.3zM244.3 714.3h1.3v1.3h-1.3zM235.5 733.9h1.3v1.3h-1.3zM240.5 734.9h1.3v1.3h-1.3zM242.7 736.5h1.3v1.3h-1.3zM243.1 710.9h1.3v1.3h-1.3zM244.5 725.1h1.3v1.3h-1.3zM248.6 723.6h1.3v1.3h-1.3zM242.8 739.3h1.3v1.3h-1.3zM251.4 738.1h1.3v1.3h-1.3zM250.7 734.5h1.3v1.3h-1.3zM249.2 739.5h1.3v1.3h-1.3zM247.2 729.8h1.3v1.3h-1.3zM245.8 757.9h1.3v1.3h-1.3zM245.1 726.2h1.3v1.3h-1.3zM243.0 728.6h1.3v1.3h-1.3zM246.3 715.4h1.3v1.3h-1.3zM234.1 732.5h1.3v1.3h-1.3zM253.7 760.6h1.3v1.3h-1.3zM228.0 723.2h1.3v1.3h-1.3zM237.0 738.1h1.3v1.3h-1.3zM234.3 705.6h1.3v1.3h-1.3zM258.5 734.1h1.3v1.3h-1.3zM249.2 736.6h1.3v1.3h-1.3zM251.4 746.5h1.3v1.3h-1.3zM230.0 760.0h1.3v1.3h-1.3zM238.4 726.6h1.3v1.3h-1.3zM260.0 717.3h1.3v1.3h-1.3zM249.7 707.4h1.3v1.3h-1.3zM255.0 718.7h1.3v1.3h-1.3zM245.6 725.8h1.3v1.3h-1.3zM234.6 759.7h1.3v1.3h-1.3zM260.8 730.2h1.3v1.3h-1.3zM236.8 740.9h1.3v1.3h-1.3zM233.3 744.7h1.3v1.3h-1.3zM251.0 697.9h1.3v1.3h-1.3zM230.2 712.1h1.3v1.3h-1.3zM255.3 732.1h1.3v1.3h-1.3zM253.3 700.7h1.3v1.3h-1.3zM241.2 706.8h1.3v1.3h-1.3zM246.1 745.9h1.3v1.3h-1.3zM245.0 740.8h1.3v1.3h-1.3zM229.8 706.0h1.3v1.3h-1.3zM229.9 704.7h1.3v1.3h-1.3zM240.0 751.8h1.3v1.3h-1.3zM227.2 727.7h1.3v1.3h-1.3zM233.9 717.5h1.3v1.3h-1.3zM240.5 743.7h1.3v1.3h-1.3zM250.2 740.5h1.3v1.3h-1.3zM246.1 761.6h1.3v1.3h-1.3zM233.4 703.7h1.3v1.3h-1.3zM255.1 747.0h1.3v1.3h-1.3zM256.4 726.9h1.3v1.3h-1.3zM251.5 713.1h1.3v1.3h-1.3zM252.5 729.4h1.3v1.3h-1.3zM236.4 698.3h1.3v1.3h-1.3zM258.0 705.1h1.3v1.3h-1.3zM248.6 704.1h1.3v1.3h-1.3zM233.6 742.0h1.3v1.3h-1.3zM252.3 743.0h1.3v1.3h-1.3zM250.2 712.8h1.3v1.3h-1.3zM248.0 717.0h1.3v1.3h-1.3zM244.4 747.2h1.3v1.3h-1.3zM255.4 722.2h1.3v1.3h-1.3zM254.0 719.7h1.3v1.3h-1.3zM248.8 758.5h1.3v1.3h-1.3zM229.5 732.4h1.3v1.3h-1.3zM235.6 732.0h1.3v1.3h-1.3zM298.9 706.0h1.3v1.3h-1.3zM287.9 712.0h1.3v1.3h-1.3zM286.2 719.9h1.3v1.3h-1.3zM301.7 732.3h1.3v1.3h-1.3zM303.3 723.0h1.3v1.3h-1.3zM302.9 726.3h1.3v1.3h-1.3zM288.4 722.9h1.3v1.3h-1.3zM295.1 713.0h1.3v1.3h-1.3zM287.7 710.8h1.3v1.3h-1.3zM289.5 702.9h1.3v1.3h-1.3zM297.0 713.7h1.3v1.3h-1.3zM293.0 718.3h1.3v1.3h-1.3zM298.9 707.4h1.3v1.3h-1.3zM291.0 698.7h1.3v1.3h-1.3zM270.9 699.7h1.3v1.3h-1.3zM306.6 693.0h1.3v1.3h-1.3zM296.5 729.2h1.3v1.3h-1.3zM287.7 732.7h1.3v1.3h-1.3zM309.5 720.8h1.3v1.3h-1.3zM314.5 716.4h1.3v1.3h-1.3zM285.1 721.9h1.3v1.3h-1.3zM287.8 702.6h1.3v1.3h-1.3zM279.9 741.5h1.3v1.3h-1.3zM286.9 715.9h1.3v1.3h-1.3zM285.8 717.9h1.3v1.3h-1.3zM289.8 711.4h1.3v1.3h-1.3zM280.6 703.1h1.3v1.3h-1.3zM285.0 719.7h1.3v1.3h-1.3zM311.8 721.6h1.3v1.3h-1.3zM309.4 716.3h1.3v1.3h-1.3zM291.3 701.7h1.3v1.3h-1.3zM292.2 693.1h1.3v1.3h-1.3zM289.3 732.5h1.3v1.3h-1.3zM295.3 726.1h1.3v1.3h-1.3zM288.6 701.8h1.3v1.3h-1.3zM287.6 712.1h1.3v1.3h-1.3zM303.7 733.0h1.3v1.3h-1.3zM285.2 713.0h1.3v1.3h-1.3zM290.8 711.9h1.3v1.3h-1.3zM280.4 718.8h1.3v1.3h-1.3zM295.7 718.4h1.3v1.3h-1.3zM280.8 716.6h1.3v1.3h-1.3zM275.7 728.3h1.3v1.3h-1.3zM282.6 714.5h1.3v1.3h-1.3zM288.0 710.2h1.3v1.3h-1.3zM282.2 699.3h1.3v1.3h-1.3zM308.7 714.2h1.3v1.3h-1.3zM294.8 736.3h1.3v1.3h-1.3zM291.3 721.1h1.3v1.3h-1.3zM292.5 727.4h1.3v1.3h-1.3zM297.1 717.4h1.3v1.3h-1.3zM289.9 718.7h1.3v1.3h-1.3zM303.4 691.4h1.3v1.3h-1.3zM291.1 711.2h1.3v1.3h-1.3zM289.5 695.6h1.3v1.3h-1.3zM299.3 705.0h1.3v1.3h-1.3zM290.2 710.6h1.3v1.3h-1.3zM276.4 714.2h1.3v1.3h-1.3zM274.8 709.4h1.3v1.3h-1.3zM289.3 715.9h1.3v1.3h-1.3zM292.8 713.7h1.3v1.3h-1.3zM312.6 715.3h1.3v1.3h-1.3zM280.7 711.5h1.3v1.3h-1.3zM286.1 714.8h1.3v1.3h-1.3zM286.6 707.7h1.3v1.3h-1.3zM308.0 712.3h1.3v1.3h-1.3zM289.1 713.4h1.3v1.3h-1.3zM290.3 730.1h1.3v1.3h-1.3zM296.9 725.8h1.3v1.3h-1.3zM262.7 725.2h1.3v1.3h-1.3zM302.4 733.4h1.3v1.3h-1.3zM292.6 697.6h1.3v1.3h-1.3zM297.9 707.9h1.3v1.3h-1.3zM275.3 712.7h1.3v1.3h-1.3zM302.4 725.4h1.3v1.3h-1.3zM299.2 703.0h1.3v1.3h-1.3zM316.3 698.0h1.3v1.3h-1.3zM291.6 700.6h1.3v1.3h-1.3zM304.9 717.1h1.3v1.3h-1.3zM300.8 714.4h1.3v1.3h-1.3zM291.7 717.3h1.3v1.3h-1.3zM274.4 729.5h1.3v1.3h-1.3zM301.0 709.4h1.3v1.3h-1.3zM292.3 718.4h1.3v1.3h-1.3zM307.3 716.5h1.3v1.3h-1.3zM292.8 710.0h1.3v1.3h-1.3zM278.1 712.4h1.3v1.3h-1.3zM293.1 712.6h1.3v1.3h-1.3zM293.1 722.9h1.3v1.3h-1.3zM296.6 717.3h1.3v1.3h-1.3zM298.7 715.9h1.3v1.3h-1.3zM292.1 720.3h1.3v1.3h-1.3zM276.0 731.9h1.3v1.3h-1.3zM280.2 726.7h1.3v1.3h-1.3zM292.6 726.8h1.3v1.3h-1.3zM292.8 705.6h1.3v1.3h-1.3zM302.7 715.0h1.3v1.3h-1.3zM293.6 716.0h1.3v1.3h-1.3zM302.0 721.7h1.3v1.3h-1.3zM294.7 699.0h1.3v1.3h-1.3zM288.6 717.4h1.3v1.3h-1.3zM309.5 715.6h1.3v1.3h-1.3zM291.6 727.9h1.3v1.3h-1.3zM291.4 715.4h1.3v1.3h-1.3zM294.0 699.7h1.3v1.3h-1.3zM301.6 717.8h1.3v1.3h-1.3zM289.8 704.3h1.3v1.3h-1.3zM294.5 729.4h1.3v1.3h-1.3zM286.4 705.9h1.3v1.3h-1.3zM296.5 698.1h1.3v1.3h-1.3zM271.4 715.5h1.3v1.3h-1.3zM286.0 714.1h1.3v1.3h-1.3zM287.3 720.0h1.3v1.3h-1.3zM290.4 709.8h1.3v1.3h-1.3zM288.2 722.9h1.3v1.3h-1.3zM301.7 722.8h1.3v1.3h-1.3zM299.2 680.1h1.3v1.3h-1.3zM283.0 714.3h1.3v1.3h-1.3zM294.5 698.4h1.3v1.3h-1.3zM306.1 715.6h1.3v1.3h-1.3zM286.7 718.5h1.3v1.3h-1.3zM289.3 708.4h1.3v1.3h-1.3zM297.4 709.8h1.3v1.3h-1.3zM279.2 711.9h1.3v1.3h-1.3zM291.5 704.6h1.3v1.3h-1.3zM304.6 701.6h1.3v1.3h-1.3zM309.3 721.0h1.3v1.3h-1.3zM283.6 718.8h1.3v1.3h-1.3zM303.8 711.1h1.3v1.3h-1.3zM281.3 719.2h1.3v1.3h-1.3zM311.5 696.0h1.3v1.3h-1.3zM297.9 714.5h1.3v1.3h-1.3zM291.5 711.8h1.3v1.3h-1.3zM289.6 726.9h1.3v1.3h-1.3zM298.3 704.0h1.3v1.3h-1.3zM307.4 698.9h1.3v1.3h-1.3zM298.9 716.1h1.3v1.3h-1.3zM304.0 716.7h1.3v1.3h-1.3zM302.7 713.1h1.3v1.3h-1.3zM301.9 717.1h1.3v1.3h-1.3zM313.1 703.9h1.3v1.3h-1.3zM304.0 717.9h1.3v1.3h-1.3zM294.4 709.4h1.3v1.3h-1.3zM296.9 699.5h1.3v1.3h-1.3zM279.7 725.8h1.3v1.3h-1.3zM277.9 733.6h1.3v1.3h-1.3zM290.1 718.7h1.3v1.3h-1.3zM293.4 719.8h1.3v1.3h-1.3zM290.1 712.4h1.3v1.3h-1.3zM291.5 726.7h1.3v1.3h-1.3zM303.5 726.3h1.3v1.3h-1.3zM296.2 712.8h1.3v1.3h-1.3zM276.8 725.8h1.3v1.3h-1.3zM300.7 709.7h1.3v1.3h-1.3zM300.4 727.2h1.3v1.3h-1.3zM293.6 726.3h1.3v1.3h-1.3zM295.6 697.1h1.3v1.3h-1.3zM288.2 712.4h1.3v1.3h-1.3zM297.8 705.6h1.3v1.3h-1.3zM288.6 706.6h1.3v1.3h-1.3zM292.4 716.4h1.3v1.3h-1.3zM302.0 721.8h1.3v1.3h-1.3zM294.3 717.8h1.3v1.3h-1.3zM293.8 716.6h1.3v1.3h-1.3zM307.4 686.8h1.3v1.3h-1.3zM291.1 719.2h1.3v1.3h-1.3zM303.5 702.0h1.3v1.3h-1.3zM296.0 723.8h1.3v1.3h-1.3zM288.5 696.9h1.3v1.3h-1.3zM289.3 704.0h1.3v1.3h-1.3zM298.9 705.5h1.3v1.3h-1.3zM309.6 713.3h1.3v1.3h-1.3zM285.1 712.1h1.3v1.3h-1.3zM282.4 721.9h1.3v1.3h-1.3zM306.9 710.3h1.3v1.3h-1.3zM301.5 704.0h1.3v1.3h-1.3zM295.7 738.7h1.3v1.3h-1.3zM279.4 731.3h1.3v1.3h-1.3zM303.9 693.8h1.3v1.3h-1.3zM279.1 708.6h1.3v1.3h-1.3zM301.9 709.2h1.3v1.3h-1.3zM291.1 723.3h1.3v1.3h-1.3zM293.8 717.7h1.3v1.3h-1.3zM289.7 727.9h1.3v1.3h-1.3zM285.3 734.5h1.3v1.3h-1.3zM289.5 708.1h1.3v1.3h-1.3zM298.9 718.9h1.3v1.3h-1.3zM273.9 722.1h1.3v1.3h-1.3zM279.9 709.9h1.3v1.3h-1.3zM300.2 705.1h1.3v1.3h-1.3zM296.1 711.0h1.3v1.3h-1.3zM311.1 710.6h1.3v1.3h-1.3zM281.5 706.7h1.3v1.3h-1.3zM284.1 718.8h1.3v1.3h-1.3zM292.6 725.6h1.3v1.3h-1.3zM294.2 716.5h1.3v1.3h-1.3zM295.7 713.5h1.3v1.3h-1.3zM295.4 723.0h1.3v1.3h-1.3zM300.1 708.3h1.3v1.3h-1.3zM275.8 710.9h1.3v1.3h-1.3zM295.3 689.3h1.3v1.3h-1.3zM288.1 721.1h1.3v1.3h-1.3zM287.2 705.2h1.3v1.3h-1.3zM309.3 726.1h1.3v1.3h-1.3zM290.1 729.7h1.3v1.3h-1.3zM304.9 701.1h1.3v1.3h-1.3zM318.0 700.2h1.3v1.3h-1.3zM290.1 704.8h1.3v1.3h-1.3zM293.3 701.8h1.3v1.3h-1.3zM292.5 726.6h1.3v1.3h-1.3zM294.6 712.3h1.3v1.3h-1.3zM307.2 703.0h1.3v1.3h-1.3zM301.7 710.3h1.3v1.3h-1.3zM294.6 715.3h1.3v1.3h-1.3zM293.7 714.6h1.3v1.3h-1.3zM285.1 711.2h1.3v1.3h-1.3zM296.7 713.4h1.3v1.3h-1.3zM281.4 710.6h1.3v1.3h-1.3zM285.9 716.3h1.3v1.3h-1.3zM294.1 715.9h1.3v1.3h-1.3zM286.2 716.9h1.3v1.3h-1.3zM279.4 688.6h1.3v1.3h-1.3zM291.9 698.4h1.3v1.3h-1.3zM283.4 704.9h1.3v1.3h-1.3zM298.3 701.5h1.3v1.3h-1.3zM295.0 709.7h1.3v1.3h-1.3zM280.6 701.7h1.3v1.3h-1.3zM296.7 718.2h1.3v1.3h-1.3zM299.6 732.4h1.3v1.3h-1.3zM294.8 717.5h1.3v1.3h-1.3zM291.1 716.5h1.3v1.3h-1.3zM288.9 706.7h1.3v1.3h-1.3zM311.1 691.8h1.3v1.3h-1.3zM294.6 719.2h1.3v1.3h-1.3zM293.6 704.9h1.3v1.3h-1.3zM290.3 710.8h1.3v1.3h-1.3zM281.9 716.9h1.3v1.3h-1.3zM288.2 710.2h1.3v1.3h-1.3zM298.6 702.7h1.3v1.3h-1.3zM296.2 707.8h1.3v1.3h-1.3zM296.1 714.8h1.3v1.3h-1.3zM294.3 704.4h1.3v1.3h-1.3zM284.6 707.8h1.3v1.3h-1.3zM293.6 722.3h1.3v1.3h-1.3zM302.2 707.6h1.3v1.3h-1.3zM292.8 698.2h1.3v1.3h-1.3zM270.9 710.7h1.3v1.3h-1.3zM285.6 700.4h1.3v1.3h-1.3zM275.1 724.1h1.3v1.3h-1.3zM284.3 699.3h1.3v1.3h-1.3zM313.9 711.8h1.3v1.3h-1.3zM288.9 722.5h1.3v1.3h-1.3zM284.7 732.7h1.3v1.3h-1.3zM277.3 704.7h1.3v1.3h-1.3zM290.5 707.3h1.3v1.3h-1.3zM305.2 695.4h1.3v1.3h-1.3zM284.9 718.8h1.3v1.3h-1.3zM297.1 723.9h1.3v1.3h-1.3zM295.0 736.7h1.3v1.3h-1.3zM287.2 717.6h1.3v1.3h-1.3zM299.8 709.7h1.3v1.3h-1.3zM288.9 710.6h1.3v1.3h-1.3zM285.6 704.5h1.3v1.3h-1.3zM286.4 700.0h1.3v1.3h-1.3zM295.2 697.6h1.3v1.3h-1.3zM311.2 727.8h1.3v1.3h-1.3zM302.1 710.2h1.3v1.3h-1.3zM286.1 728.4h1.3v1.3h-1.3zM293.3 720.0h1.3v1.3h-1.3zM284.8 727.1h1.3v1.3h-1.3zM284.0 717.4h1.3v1.3h-1.3zM275.2 711.5h1.3v1.3h-1.3zM296.3 708.9h1.3v1.3h-1.3zM287.3 723.6h1.3v1.3h-1.3zM290.8 727.5h1.3v1.3h-1.3zM268.7 725.5h1.3v1.3h-1.3zM296.3 697.7h1.3v1.3h-1.3zM279.2 726.3h1.3v1.3h-1.3zM281.4 710.3h1.3v1.3h-1.3zM297.2 709.9h1.3v1.3h-1.3zM296.0 704.7h1.3v1.3h-1.3zM294.3 725.0h1.3v1.3h-1.3zM294.6 691.4h1.3v1.3h-1.3zM297.7 713.8h1.3v1.3h-1.3zM282.9 730.7h1.3v1.3h-1.3zM275.0 737.4h1.3v1.3h-1.3zM285.5 732.0h1.3v1.3h-1.3zM291.1 701.0h1.3v1.3h-1.3zM292.4 717.8h1.3v1.3h-1.3zM296.6 724.3h1.3v1.3h-1.3zM283.0 721.5h1.3v1.3h-1.3zM298.5 710.2h1.3v1.3h-1.3zM282.6 706.7h1.3v1.3h-1.3zM298.6 721.2h1.3v1.3h-1.3zM283.6 702.6h1.3v1.3h-1.3zM303.2 696.0h1.3v1.3h-1.3zM293.0 706.0h1.3v1.3h-1.3zM274.9 719.5h1.3v1.3h-1.3zM289.7 729.7h1.3v1.3h-1.3zM313.0 707.9h1.3v1.3h-1.3zM301.2 723.1h1.3v1.3h-1.3zM286.5 706.8h1.3v1.3h-1.3zM306.7 707.4h1.3v1.3h-1.3zM291.2 711.6h1.3v1.3h-1.3zM290.2 708.6h1.3v1.3h-1.3zM298.5 725.8h1.3v1.3h-1.3zM287.9 701.2h1.3v1.3h-1.3zM291.9 699.2h1.3v1.3h-1.3zM285.4 728.5h1.3v1.3h-1.3zM313.4 713.5h1.3v1.3h-1.3zM281.4 724.8h1.3v1.3h-1.3zM270.2 712.1h1.3v1.3h-1.3zM305.9 719.0h1.3v1.3h-1.3zM278.4 700.4h1.3v1.3h-1.3zM299.6 712.3h1.3v1.3h-1.3zM285.9 720.0h1.3v1.3h-1.3zM286.0 696.1h1.3v1.3h-1.3zM299.1 706.2h1.3v1.3h-1.3zM282.0 703.0h1.3v1.3h-1.3zM293.8 705.8h1.3v1.3h-1.3zM297.4 710.5h1.3v1.3h-1.3zM301.7 708.3h1.3v1.3h-1.3zM285.3 695.7h1.3v1.3h-1.3zM281.1 724.2h1.3v1.3h-1.3zM320.4 695.3h1.3v1.3h-1.3zM281.7 720.2h1.3v1.3h-1.3zM296.0 706.6h1.3v1.3h-1.3zM292.2 697.9h1.3v1.3h-1.3zM288.7 724.4h1.3v1.3h-1.3zM306.9 709.4h1.3v1.3h-1.3zM289.0 719.7h1.3v1.3h-1.3zM301.9 717.2h1.3v1.3h-1.3zM284.4 719.8h1.3v1.3h-1.3zM300.6 705.2h1.3v1.3h-1.3zM278.9 722.6h1.3v1.3h-1.3zM294.9 723.7h1.3v1.3h-1.3zM292.3 707.8h1.3v1.3h-1.3zM287.4 704.9h1.3v1.3h-1.3zM282.5 710.8h1.3v1.3h-1.3zM286.9 727.0h1.3v1.3h-1.3zM279.9 716.6h1.3v1.3h-1.3zM285.9 731.0h1.3v1.3h-1.3zM294.0 710.2h1.3v1.3h-1.3zM299.2 713.6h1.3v1.3h-1.3zM287.0 731.3h1.3v1.3h-1.3zM298.2 730.8h1.3v1.3h-1.3zM302.5 720.1h1.3v1.3h-1.3zM292.8 703.2h1.3v1.3h-1.3zM298.3 713.9h1.3v1.3h-1.3zM297.9 713.1h1.3v1.3h-1.3zM285.0 705.8h1.3v1.3h-1.3zM298.2 726.4h1.3v1.3h-1.3zM288.9 719.9h1.3v1.3h-1.3zM304.6 703.2h1.3v1.3h-1.3zM288.4 703.9h1.3v1.3h-1.3zM302.7 714.9h1.3v1.3h-1.3zM287.2 698.7h1.3v1.3h-1.3zM289.9 725.2h1.3v1.3h-1.3zM288.8 710.9h1.3v1.3h-1.3zM297.7 700.7h1.3v1.3h-1.3zM292.1 720.7h1.3v1.3h-1.3zM284.3 707.8h1.3v1.3h-1.3zM294.0 713.1h1.3v1.3h-1.3zM289.4 717.3h1.3v1.3h-1.3zM293.7 704.8h1.3v1.3h-1.3zM285.3 720.7h1.3v1.3h-1.3zM302.2 726.2h1.3v1.3h-1.3zM283.7 727.6h1.3v1.3h-1.3zM298.8 712.8h1.3v1.3h-1.3zM296.3 722.2h1.3v1.3h-1.3zM308.5 700.2h1.3v1.3h-1.3zM297.3 712.0h1.3v1.3h-1.3zM289.7 726.9h1.3v1.3h-1.3zM299.4 702.7h1.3v1.3h-1.3zM289.0 717.6h1.3v1.3h-1.3zM278.4 726.5h1.3v1.3h-1.3zM291.0 716.5h1.3v1.3h-1.3zM294.9 732.5h1.3v1.3h-1.3zM292.0 711.0h1.3v1.3h-1.3zM308.1 706.0h1.3v1.3h-1.3zM286.8 701.7h1.3v1.3h-1.3zM301.9 715.3h1.3v1.3h-1.3zM296.1 715.5h1.3v1.3h-1.3zM290.4 707.0h1.3v1.3h-1.3zM284.4 720.8h1.3v1.3h-1.3zM292.9 731.1h1.3v1.3h-1.3zM284.6 711.4h1.3v1.3h-1.3zM282.1 730.9h1.3v1.3h-1.3zM280.1 725.2h1.3v1.3h-1.3zM305.2 710.4h1.3v1.3h-1.3zM298.5 691.6h1.3v1.3h-1.3zM288.1 698.7h1.3v1.3h-1.3zM293.4 714.5h1.3v1.3h-1.3zM284.5 726.0h1.3v1.3h-1.3zM295.1 708.7h1.3v1.3h-1.3zM286.9 700.9h1.3v1.3h-1.3zM290.0 736.7h1.3v1.3h-1.3zM285.1 720.5h1.3v1.3h-1.3zM286.6 724.1h1.3v1.3h-1.3zM295.9 711.5h1.3v1.3h-1.3zM275.0 713.3h1.3v1.3h-1.3zM303.0 709.8h1.3v1.3h-1.3zM297.7 708.6h1.3v1.3h-1.3zM274.2 723.0h1.3v1.3h-1.3zM294.8 708.2h1.3v1.3h-1.3zM288.3 718.5h1.3v1.3h-1.3zM286.2 719.5h1.3v1.3h-1.3zM289.9 691.3h1.3v1.3h-1.3zM290.4 709.0h1.3v1.3h-1.3zM283.9 720.6h1.3v1.3h-1.3zM287.2 721.3h1.3v1.3h-1.3zM302.0 714.0h1.3v1.3h-1.3zM277.2 710.6h1.3v1.3h-1.3zM300.4 710.3h1.3v1.3h-1.3zM284.2 715.6h1.3v1.3h-1.3zM296.5 716.4h1.3v1.3h-1.3zM297.9 705.1h1.3v1.3h-1.3zM289.2 712.8h1.3v1.3h-1.3zM291.6 693.6h1.3v1.3h-1.3zM289.6 701.7h1.3v1.3h-1.3zM304.9 727.8h1.3v1.3h-1.3zM307.6 719.6h1.3v1.3h-1.3zM287.3 725.6h1.3v1.3h-1.3zM289.9 721.5h1.3v1.3h-1.3zM283.3 710.7h1.3v1.3h-1.3zM296.2 731.9h1.3v1.3h-1.3zM291.6 737.8h1.3v1.3h-1.3zM317.7 696.1h1.3v1.3h-1.3zM291.6 705.2h1.3v1.3h-1.3zM290.5 709.7h1.3v1.3h-1.3zM291.2 724.8h1.3v1.3h-1.3zM300.7 715.6h1.3v1.3h-1.3zM291.9 716.1h1.3v1.3h-1.3zM293.0 720.4h1.3v1.3h-1.3zM291.9 720.0h1.3v1.3h-1.3zM279.6 725.7h1.3v1.3h-1.3zM308.3 713.1h1.3v1.3h-1.3zM278.6 731.6h1.3v1.3h-1.3zM288.8 685.2h1.3v1.3h-1.3zM289.8 721.5h1.3v1.3h-1.3zM295.5 726.7h1.3v1.3h-1.3zM297.7 714.9h1.3v1.3h-1.3zM273.3 707.7h1.3v1.3h-1.3zM293.6 721.4h1.3v1.3h-1.3zM282.2 710.8h1.3v1.3h-1.3zM296.3 694.5h1.3v1.3h-1.3zM273.6 716.6h1.3v1.3h-1.3zM294.2 709.5h1.3v1.3h-1.3zM270.3 719.9h1.3v1.3h-1.3zM279.4 724.3h1.3v1.3h-1.3zM290.9 717.8h1.3v1.3h-1.3zM297.9 708.2h1.3v1.3h-1.3zM299.7 725.8h1.3v1.3h-1.3zM295.6 727.6h1.3v1.3h-1.3zM286.0 725.5h1.3v1.3h-1.3zM294.4 704.3h1.3v1.3h-1.3zM291.1 709.7h1.3v1.3h-1.3zM286.7 716.9h1.3v1.3h-1.3zM301.9 709.5h1.3v1.3h-1.3zM293.1 699.7h1.3v1.3h-1.3zM292.9 726.4h1.3v1.3h-1.3zM299.5 718.1h1.3v1.3h-1.3zM286.9 706.1h1.3v1.3h-1.3zM291.0 701.5h1.3v1.3h-1.3zM280.3 727.1h1.3v1.3h-1.3zM283.3 735.1h1.3v1.3h-1.3zM278.5 722.3h1.3v1.3h-1.3zM280.9 719.1h1.3v1.3h-1.3zM282.1 717.5h1.3v1.3h-1.3zM290.4 710.6h1.3v1.3h-1.3zM296.7 729.2h1.3v1.3h-1.3zM286.3 725.1h1.3v1.3h-1.3zM292.7 714.4h1.3v1.3h-1.3zM312.5 688.2h1.3v1.3h-1.3zM285.5 697.9h1.3v1.3h-1.3zM288.9 713.2h1.3v1.3h-1.3zM327.8 710.5h1.3v1.3h-1.3zM308.8 724.4h1.3v1.3h-1.3zM287.7 720.7h1.3v1.3h-1.3zM307.6 713.2h1.3v1.3h-1.3zM293.9 719.6h1.3v1.3h-1.3zM277.7 709.8h1.3v1.3h-1.3zM295.1 719.8h1.3v1.3h-1.3zM283.2 713.5h1.3v1.3h-1.3zM290.7 713.6h1.3v1.3h-1.3zM298.4 714.5h1.3v1.3h-1.3zM293.4 700.1h1.3v1.3h-1.3zM282.0 720.4h1.3v1.3h-1.3zM276.9 721.0h1.3v1.3h-1.3zM285.6 708.0h1.3v1.3h-1.3zM298.0 706.6h1.3v1.3h-1.3zM283.8 709.8h1.3v1.3h-1.3zM292.4 742.8h1.3v1.3h-1.3zM271.9 719.1h1.3v1.3h-1.3zM289.6 725.1h1.3v1.3h-1.3zM288.3 690.4h1.3v1.3h-1.3zM304.3 700.9h1.3v1.3h-1.3zM291.2 701.0h1.3v1.3h-1.3zM281.5 712.0h1.3v1.3h-1.3zM299.9 721.6h1.3v1.3h-1.3zM286.1 721.2h1.3v1.3h-1.3zM288.3 716.7h1.3v1.3h-1.3zM293.2 720.8h1.3v1.3h-1.3zM286.0 714.7h1.3v1.3h-1.3zM293.8 715.3h1.3v1.3h-1.3zM284.2 734.0h1.3v1.3h-1.3zM287.4 723.5h1.3v1.3h-1.3zM293.7 726.8h1.3v1.3h-1.3zM271.1 740.3h1.3v1.3h-1.3zM289.7 702.6h1.3v1.3h-1.3zM293.0 737.6h1.3v1.3h-1.3zM296.5 701.1h1.3v1.3h-1.3zM287.4 729.4h1.3v1.3h-1.3zM278.5 715.8h1.3v1.3h-1.3zM288.9 737.5h1.3v1.3h-1.3zM289.0 728.8h1.3v1.3h-1.3zM285.3 708.0h1.3v1.3h-1.3zM301.2 719.0h1.3v1.3h-1.3zM275.4 724.9h1.3v1.3h-1.3zM297.8 707.1h1.3v1.3h-1.3zM293.8 717.0h1.3v1.3h-1.3zM287.1 709.8h1.3v1.3h-1.3zM285.4 713.4h1.3v1.3h-1.3zM279.2 717.1h1.3v1.3h-1.3zM277.6 718.6h1.3v1.3h-1.3zM290.9 704.3h1.3v1.3h-1.3zM299.7 732.7h1.3v1.3h-1.3zM304.2 698.0h1.3v1.3h-1.3zM303.7 714.3h1.3v1.3h-1.3zM291.2 708.8h1.3v1.3h-1.3zM291.6 728.9h1.3v1.3h-1.3zM296.8 709.4h1.3v1.3h-1.3zM285.4 711.9h1.3v1.3h-1.3zM297.2 732.6h1.3v1.3h-1.3zM281.7 716.9h1.3v1.3h-1.3zM288.0 707.8h1.3v1.3h-1.3zM295.4 719.5h1.3v1.3h-1.3zM278.3 707.1h1.3v1.3h-1.3zM302.9 715.5h1.3v1.3h-1.3zM296.6 708.5h1.3v1.3h-1.3zM288.1 720.2h1.3v1.3h-1.3zM287.0 704.4h1.3v1.3h-1.3zM291.7 723.9h1.3v1.3h-1.3zM282.0 727.6h1.3v1.3h-1.3zM298.3 704.5h1.3v1.3h-1.3zM291.7 714.3h1.3v1.3h-1.3zM297.6 720.2h1.3v1.3h-1.3zM279.4 703.7h1.3v1.3h-1.3zM301.4 713.7h1.3v1.3h-1.3zM295.6 717.3h1.3v1.3h-1.3zM306.1 699.2h1.3v1.3h-1.3zM301.9 704.1h1.3v1.3h-1.3zM298.5 726.9h1.3v1.3h-1.3zM278.7 721.7h1.3v1.3h-1.3zM289.1 712.3h1.3v1.3h-1.3zM292.1 703.9h1.3v1.3h-1.3zM282.6 723.4h1.3v1.3h-1.3zM299.6 707.2h1.3v1.3h-1.3zM278.0 741.3h1.3v1.3h-1.3zM302.0 716.1h1.3v1.3h-1.3zM282.0 710.9h1.3v1.3h-1.3zM294.0 704.5h1.3v1.3h-1.3zM306.7 712.8h1.3v1.3h-1.3zM295.4 703.4h1.3v1.3h-1.3zM283.2 708.6h1.3v1.3h-1.3zM294.3 711.5h1.3v1.3h-1.3zM289.0 718.5h1.3v1.3h-1.3zM293.8 729.3h1.3v1.3h-1.3zM289.8 704.9h1.3v1.3h-1.3zM291.6 729.6h1.3v1.3h-1.3zM286.5 716.4h1.3v1.3h-1.3zM288.3 719.6h1.3v1.3h-1.3zM294.1 706.0h1.3v1.3h-1.3zM289.5 724.7h1.3v1.3h-1.3zM301.9 721.8h1.3v1.3h-1.3zM299.7 709.6h1.3v1.3h-1.3zM288.3 724.9h1.3v1.3h-1.3zM280.7 716.6h1.3v1.3h-1.3zM274.3 714.7h1.3v1.3h-1.3zM285.1 704.0h1.3v1.3h-1.3zM297.1 706.1h1.3v1.3h-1.3zM288.3 712.9h1.3v1.3h-1.3zM284.8 730.6h1.3v1.3h-1.3zM287.1 717.7h1.3v1.3h-1.3zM279.5 712.6h1.3v1.3h-1.3zM288.7 712.3h1.3v1.3h-1.3zM286.2 717.4h1.3v1.3h-1.3zM306.2 710.2h1.3v1.3h-1.3zM290.4 711.1h1.3v1.3h-1.3zM315.4 725.8h1.3v1.3h-1.3zM296.9 720.7h1.3v1.3h-1.3zM285.1 714.7h1.3v1.3h-1.3zM293.7 715.5h1.3v1.3h-1.3zM283.7 708.6h1.3v1.3h-1.3zM296.5 716.8h1.3v1.3h-1.3zM272.1 720.0h1.3v1.3h-1.3zM303.6 705.6h1.3v1.3h-1.3zM293.9 699.6h1.3v1.3h-1.3zM299.5 701.8h1.3v1.3h-1.3zM280.0 714.1h1.3v1.3h-1.3zM313.8 703.7h1.3v1.3h-1.3zM279.9 722.0h1.3v1.3h-1.3zM293.8 731.0h1.3v1.3h-1.3zM279.9 701.3h1.3v1.3h-1.3zM288.8 719.2h1.3v1.3h-1.3zM295.0 725.0h1.3v1.3h-1.3zM277.8 709.5h1.3v1.3h-1.3zM290.5 723.5h1.3v1.3h-1.3zM296.1 709.5h1.3v1.3h-1.3zM282.2 725.8h1.3v1.3h-1.3zM300.6 740.2h1.3v1.3h-1.3zM290.1 731.5h1.3v1.3h-1.3zM280.5 711.8h1.3v1.3h-1.3zM285.4 711.5h1.3v1.3h-1.3zM283.6 711.1h1.3v1.3h-1.3zM291.2 710.3h1.3v1.3h-1.3zM297.9 712.6h1.3v1.3h-1.3zM291.7 729.6h1.3v1.3h-1.3zM294.7 715.7h1.3v1.3h-1.3zM291.5 715.4h1.3v1.3h-1.3zM297.1 705.5h1.3v1.3h-1.3zM302.4 728.2h1.3v1.3h-1.3zM302.5 707.4h1.3v1.3h-1.3zM276.9 713.6h1.3v1.3h-1.3zM293.2 722.8h1.3v1.3h-1.3zM290.0 712.1h1.3v1.3h-1.3zM305.9 704.9h1.3v1.3h-1.3zM301.6 721.7h1.3v1.3h-1.3zM279.3 720.3h1.3v1.3h-1.3zM286.5 706.3h1.3v1.3h-1.3zM274.5 702.8h1.3v1.3h-1.3zM295.6 710.0h1.3v1.3h-1.3zM294.3 703.5h1.3v1.3h-1.3zM288.7 712.7h1.3v1.3h-1.3zM277.3 701.2h1.3v1.3h-1.3zM295.8 715.3h1.3v1.3h-1.3zM283.0 715.7h1.3v1.3h-1.3zM297.9 731.9h1.3v1.3h-1.3zM283.5 722.8h1.3v1.3h-1.3zM311.4 711.1h1.3v1.3h-1.3zM305.4 685.7h1.3v1.3h-1.3zM305.2 711.7h1.3v1.3h-1.3zM274.3 726.5h1.3v1.3h-1.3zM301.5 724.8h1.3v1.3h-1.3zM302.9 712.0h1.3v1.3h-1.3zM284.8 711.7h1.3v1.3h-1.3zM291.4 718.9h1.3v1.3h-1.3zM287.2 716.2h1.3v1.3h-1.3zM299.9 716.2h1.3v1.3h-1.3zM313.1 731.8h1.3v1.3h-1.3zM272.3 721.8h1.3v1.3h-1.3zM270.6 713.6h1.3v1.3h-1.3zM290.6 716.0h1.3v1.3h-1.3zM273.4 725.9h1.3v1.3h-1.3zM293.3 724.7h1.3v1.3h-1.3zM280.8 742.2h1.3v1.3h-1.3zM289.8 735.9h1.3v1.3h-1.3zM294.9 715.7h1.3v1.3h-1.3zM287.0 720.9h1.3v1.3h-1.3zM295.8 740.8h1.3v1.3h-1.3zM273.4 748.0h1.3v1.3h-1.3zM272.1 745.7h1.3v1.3h-1.3zM286.9 717.6h1.3v1.3h-1.3zM272.6 725.4h1.3v1.3h-1.3zM284.4 719.8h1.3v1.3h-1.3zM290.8 710.3h1.3v1.3h-1.3zM284.6 729.6h1.3v1.3h-1.3zM264.4 733.8h1.3v1.3h-1.3zM271.0 695.2h1.3v1.3h-1.3zM278.0 726.4h1.3v1.3h-1.3zM294.5 722.9h1.3v1.3h-1.3zM300.6 749.4h1.3v1.3h-1.3zM296.5 747.8h1.3v1.3h-1.3zM288.5 721.9h1.3v1.3h-1.3zM291.7 742.9h1.3v1.3h-1.3zM287.3 726.2h1.3v1.3h-1.3zM267.7 738.9h1.3v1.3h-1.3zM288.5 711.6h1.3v1.3h-1.3zM285.7 739.5h1.3v1.3h-1.3zM283.5 740.4h1.3v1.3h-1.3zM292.8 709.2h1.3v1.3h-1.3zM281.4 736.3h1.3v1.3h-1.3zM294.6 749.0h1.3v1.3h-1.3zM263.9 728.7h1.3v1.3h-1.3zM292.4 746.5h1.3v1.3h-1.3zM303.0 716.7h1.3v1.3h-1.3zM280.6 715.0h1.3v1.3h-1.3zM293.5 711.3h1.3v1.3h-1.3zM297.5 742.5h1.3v1.3h-1.3zM290.0 699.6h1.3v1.3h-1.3zM277.3 739.9h1.3v1.3h-1.3zM269.3 726.3h1.3v1.3h-1.3zM283.5 741.9h1.3v1.3h-1.3zM287.7 733.4h1.3v1.3h-1.3zM279.9 729.6h1.3v1.3h-1.3zM283.2 739.6h1.3v1.3h-1.3zM282.7 743.9h1.3v1.3h-1.3zM266.2 746.2h1.3v1.3h-1.3zM282.8 745.2h1.3v1.3h-1.3zM285.6 741.4h1.3v1.3h-1.3zM300.9 721.9h1.3v1.3h-1.3zM285.5 727.2h1.3v1.3h-1.3zM286.9 707.2h1.3v1.3h-1.3zM282.8 726.1h1.3v1.3h-1.3zM276.1 726.9h1.3v1.3h-1.3zM267.9 748.9h1.3v1.3h-1.3zM289.5 755.6h1.3v1.3h-1.3zM275.1 713.4h1.3v1.3h-1.3zM287.7 706.5h1.3v1.3h-1.3zM287.1 719.8h1.3v1.3h-1.3zM281.0 733.0h1.3v1.3h-1.3zM285.1 755.3h1.3v1.3h-1.3zM291.5 711.7h1.3v1.3h-1.3zM295.3 711.0h1.3v1.3h-1.3zM285.6 712.3h1.3v1.3h-1.3zM275.6 747.7h1.3v1.3h-1.3zM278.6 720.6h1.3v1.3h-1.3zM278.5 725.2h1.3v1.3h-1.3zM300.3 713.2h1.3v1.3h-1.3zM271.2 737.5h1.3v1.3h-1.3zM267.3 724.4h1.3v1.3h-1.3zM296.9 729.5h1.3v1.3h-1.3zM279.4 719.6h1.3v1.3h-1.3zM274.6 721.3h1.3v1.3h-1.3zM286.0 746.6h1.3v1.3h-1.3zM295.0 721.6h1.3v1.3h-1.3zM276.6 739.0h1.3v1.3h-1.3zM264.8 723.3h1.3v1.3h-1.3zM281.0 714.0h1.3v1.3h-1.3zM273.7 734.1h1.3v1.3h-1.3zM266.5 716.7h1.3v1.3h-1.3zM277.4 730.4h1.3v1.3h-1.3zM269.5 744.3h1.3v1.3h-1.3zM281.1 725.6h1.3v1.3h-1.3zM280.5 719.9h1.3v1.3h-1.3zM273.7 745.1h1.3v1.3h-1.3zM286.6 727.6h1.3v1.3h-1.3zM295.1 719.3h1.3v1.3h-1.3zM291.2 729.4h1.3v1.3h-1.3zM274.6 739.6h1.3v1.3h-1.3zM268.1 738.1h1.3v1.3h-1.3zM274.7 734.7h1.3v1.3h-1.3zM299.2 736.9h1.3v1.3h-1.3zM277.7 728.6h1.3v1.3h-1.3zM280.2 712.8h1.3v1.3h-1.3zM272.2 729.6h1.3v1.3h-1.3zM290.0 704.6h1.3v1.3h-1.3zM283.4 735.9h1.3v1.3h-1.3zM285.3 715.1h1.3v1.3h-1.3zM295.3 712.1h1.3v1.3h-1.3zM291.1 750.9h1.3v1.3h-1.3zM262.0 732.4h1.3v1.3h-1.3zM287.5 731.9h1.3v1.3h-1.3zM275.8 724.5h1.3v1.3h-1.3zM268.9 730.6h1.3v1.3h-1.3zM289.8 719.6h1.3v1.3h-1.3zM274.0 722.2h1.3v1.3h-1.3zM283.9 729.6h1.3v1.3h-1.3zM282.9 729.7h1.3v1.3h-1.3zM269.8 691.2h1.3v1.3h-1.3zM290.6 748.2h1.3v1.3h-1.3zM268.7 719.5h1.3v1.3h-1.3zM287.2 741.8h1.3v1.3h-1.3zM291.0 746.2h1.3v1.3h-1.3zM283.4 734.3h1.3v1.3h-1.3zM288.4 722.7h1.3v1.3h-1.3zM296.9 737.2h1.3v1.3h-1.3zM294.5 723.3h1.3v1.3h-1.3zM295.0 714.2h1.3v1.3h-1.3zM288.2 692.8h1.3v1.3h-1.3zM273.0 738.7h1.3v1.3h-1.3zM279.1 731.0h1.3v1.3h-1.3zM266.4 749.8h1.3v1.3h-1.3zM290.3 728.3h1.3v1.3h-1.3zM288.4 733.1h1.3v1.3h-1.3zM299.2 731.5h1.3v1.3h-1.3zM268.1 725.1h1.3v1.3h-1.3zM297.7 736.4h1.3v1.3h-1.3zM279.4 737.0h1.3v1.3h-1.3zM285.2 737.0h1.3v1.3h-1.3zM266.8 716.3h1.3v1.3h-1.3zM291.1 725.6h1.3v1.3h-1.3zM287.7 755.4h1.3v1.3h-1.3zM280.6 731.9h1.3v1.3h-1.3zM277.9 720.0h1.3v1.3h-1.3zM283.1 708.7h1.3v1.3h-1.3zM261.3 747.3h1.3v1.3h-1.3zM282.8 744.0h1.3v1.3h-1.3zM285.2 730.6h1.3v1.3h-1.3zM291.1 738.4h1.3v1.3h-1.3zM271.0 745.1h1.3v1.3h-1.3zM273.5 731.4h1.3v1.3h-1.3zM311.4 729.7h1.3v1.3h-1.3zM301.8 723.9h1.3v1.3h-1.3zM290.5 729.3h1.3v1.3h-1.3zM288.4 716.9h1.3v1.3h-1.3zM274.0 733.2h1.3v1.3h-1.3zM267.1 717.1h1.3v1.3h-1.3zM290.8 720.2h1.3v1.3h-1.3zM274.4 713.5h1.3v1.3h-1.3zM299.3 672.6h1.3v1.3h-1.3zM308.5 683.5h1.3v1.3h-1.3zM311.7 668.9h1.3v1.3h-1.3zM281.9 654.9h1.3v1.3h-1.3zM305.8 663.9h1.3v1.3h-1.3zM286.8 672.3h1.3v1.3h-1.3zM272.9 668.9h1.3v1.3h-1.3zM274.8 680.2h1.3v1.3h-1.3zM275.7 669.3h1.3v1.3h-1.3zM298.4 662.3h1.3v1.3h-1.3zM298.9 668.2h1.3v1.3h-1.3zM308.1 668.4h1.3v1.3h-1.3zM283.3 645.4h1.3v1.3h-1.3zM304.3 659.8h1.3v1.3h-1.3zM282.0 670.8h1.3v1.3h-1.3zM284.1 677.1h1.3v1.3h-1.3zM299.5 664.2h1.3v1.3h-1.3zM287.7 678.6h1.3v1.3h-1.3zM314.9 667.7h1.3v1.3h-1.3zM284.2 661.6h1.3v1.3h-1.3zM280.7 655.9h1.3v1.3h-1.3zM309.6 680.9h1.3v1.3h-1.3zM309.3 686.5h1.3v1.3h-1.3zM277.3 677.8h1.3v1.3h-1.3zM285.2 654.9h1.3v1.3h-1.3zM293.0 676.8h1.3v1.3h-1.3zM273.0 667.7h1.3v1.3h-1.3zM286.7 686.6h1.3v1.3h-1.3zM304.7 645.3h1.3v1.3h-1.3zM304.6 679.8h1.3v1.3h-1.3zM276.7 666.0h1.3v1.3h-1.3zM283.7 683.5h1.3v1.3h-1.3zM282.1 672.3h1.3v1.3h-1.3zM300.8 645.3h1.3v1.3h-1.3zM275.9 676.1h1.3v1.3h-1.3zM314.4 669.0h1.3v1.3h-1.3zM275.2 655.8h1.3v1.3h-1.3zM293.8 650.5h1.3v1.3h-1.3zM301.7 662.9h1.3v1.3h-1.3zM312.7 670.2h1.3v1.3h-1.3z" fill="#262626" fill-opacity="0.78"/>
<rect x="223.45" y="630.20" width="142.55" height="133.70" fill="none" stroke="#000" stroke-width="1.8"/>
<line x1="266.70" y1="630.20" x2="266.70" y2="763.90" stroke="#000" stroke-width="1.8"/>
<line x1="223.45" y1="692.95" x2="366.00" y2="692.95" stroke="#000" stroke-width="1.8"/>
<path d="M402.9 662.6h1.3v1.3h-1.3zM395.0 669.2h1.3v1.3h-1.3zM393.3 658.2h1.3v1.3h-1.3zM389.2 662.3h1.3v1.3h-1.3zM389.9 668.8h1.3v1.3h-1.3zM391.6 674.2h1.3v1.3h-1.3zM400.4 652.2h1.3v1.3h-1.3zM399.7 659.0h1.3v1.3h-1.3zM401.4 666.5h1.3v1.3h-1.3zM393.3 667.8h1.3v1.3h-1.3zM390.3 665.0h1.3v1.3h-1.3zM395.7 661.2h1.3v1.3h-1.3zM395.8 654.2h1.3v1.3h-1.3zM396.7 652.5h1.3v1.3h-1.3zM397.1 666.2h1.3v1.3h-1.3zM397.6 657.9h1.3v1.3h-1.3zM410.9 660.6h1.3v1.3h-1.3zM394.5 656.3h1.3v1.3h-1.3zM401.8 658.6h1.3v1.3h-1.3zM399.3 654.8h1.3v1.3h-1.3zM395.4 659.5h1.3v1.3h-1.3zM398.9 660.1h1.3v1.3h-1.3zM388.7 666.2h1.3v1.3h-1.3zM386.9 654.8h1.3v1.3h-1.3zM398.0 647.4h1.3v1.3h-1.3zM398.0 659.3h1.3v1.3h-1.3zM388.5 664.5h1.3v1.3h-1.3zM397.3 657.9h1.3v1.3h-1.3zM392.7 669.0h1.3v1.3h-1.3zM398.0 662.2h1.3v1.3h-1.3zM389.3 655.0h1.3v1.3h-1.3zM390.3 668.1h1.3v1.3h-1.3zM397.0 665.1h1.3v1.3h-1.3zM401.7 660.2h1.3v1.3h-1.3zM391.6 659.6h1.3v1.3h-1.3zM404.6 646.1h1.3v1.3h-1.3zM395.4 666.3h1.3v1.3h-1.3zM394.1 681.5h1.3v1.3h-1.3zM400.4 668.9h1.3v1.3h-1.3zM388.7 666.7h1.3v1.3h-1.3zM391.7 663.1h1.3v1.3h-1.3zM395.0 658.9h1.3v1.3h-1.3zM397.4 675.8h1.3v1.3h-1.3zM399.7 664.5h1.3v1.3h-1.3zM382.9 671.5h1.3v1.3h-1.3zM400.0 661.3h1.3v1.3h-1.3zM391.2 668.1h1.3v1.3h-1.3zM389.3 669.2h1.3v1.3h-1.3zM387.8 655.5h1.3v1.3h-1.3zM394.0 651.2h1.3v1.3h-1.3zM393.9 667.1h1.3v1.3h-1.3zM386.5 670.3h1.3v1.3h-1.3zM390.8 667.3h1.3v1.3h-1.3zM395.1 659.3h1.3v1.3h-1.3zM391.0 649.3h1.3v1.3h-1.3zM390.0 656.8h1.3v1.3h-1.3zM403.2 671.0h1.3v1.3h-1.3zM386.2 669.3h1.3v1.3h-1.3zM395.2 659.9h1.3v1.3h-1.3zM396.6 669.2h1.3v1.3h-1.3zM390.8 660.8h1.3v1.3h-1.3zM394.9 655.1h1.3v1.3h-1.3zM395.0 662.3h1.3v1.3h-1.3zM390.1 656.3h1.3v1.3h-1.3zM395.7 669.9h1.3v1.3h-1.3zM395.8 656.2h1.3v1.3h-1.3zM398.2 664.3h1.3v1.3h-1.3zM397.3 672.2h1.3v1.3h-1.3zM388.9 661.9h1.3v1.3h-1.3zM390.6 656.0h1.3v1.3h-1.3zM405.2 670.4h1.3v1.3h-1.3zM384.1 666.4h1.3v1.3h-1.3zM390.9 672.1h1.3v1.3h-1.3zM394.5 661.6h1.3v1.3h-1.3zM394.8 666.0h1.3v1.3h-1.3zM394.2 661.2h1.3v1.3h-1.3zM393.2 667.0h1.3v1.3h-1.3zM387.7 663.0h1.3v1.3h-1.3zM393.3 659.1h1.3v1.3h-1.3zM398.1 652.7h1.3v1.3h-1.3zM391.9 656.2h1.3v1.3h-1.3zM397.0 659.3h1.3v1.3h-1.3zM394.3 666.0h1.3v1.3h-1.3zM385.0 666.6h1.3v1.3h-1.3zM389.8 661.0h1.3v1.3h-1.3zM393.4 669.4h1.3v1.3h-1.3zM398.1 677.0h1.3v1.3h-1.3zM395.0 659.2h1.3v1.3h-1.3zM391.2 668.2h1.3v1.3h-1.3zM403.0 665.7h1.3v1.3h-1.3zM390.8 665.2h1.3v1.3h-1.3zM395.4 663.3h1.3v1.3h-1.3zM389.8 642.8h1.3v1.3h-1.3zM391.0 671.4h1.3v1.3h-1.3zM395.2 645.5h1.3v1.3h-1.3zM394.0 648.3h1.3v1.3h-1.3zM405.1 664.5h1.3v1.3h-1.3zM387.3 669.3h1.3v1.3h-1.3zM389.6 667.5h1.3v1.3h-1.3zM394.1 653.6h1.3v1.3h-1.3zM397.7 652.4h1.3v1.3h-1.3zM401.5 663.5h1.3v1.3h-1.3zM388.2 648.6h1.3v1.3h-1.3zM403.1 674.5h1.3v1.3h-1.3zM387.0 676.1h1.3v1.3h-1.3zM394.9 661.2h1.3v1.3h-1.3zM393.5 660.9h1.3v1.3h-1.3zM402.0 664.2h1.3v1.3h-1.3zM383.7 679.6h1.3v1.3h-1.3zM398.9 654.4h1.3v1.3h-1.3zM392.0 655.8h1.3v1.3h-1.3zM394.3 666.1h1.3v1.3h-1.3zM395.3 658.3h1.3v1.3h-1.3zM389.5 669.7h1.3v1.3h-1.3zM393.4 680.9h1.3v1.3h-1.3zM389.5 669.3h1.3v1.3h-1.3zM394.3 657.0h1.3v1.3h-1.3zM401.6 664.0h1.3v1.3h-1.3zM389.0 660.5h1.3v1.3h-1.3zM399.7 653.3h1.3v1.3h-1.3zM401.7 668.4h1.3v1.3h-1.3zM392.4 673.8h1.3v1.3h-1.3zM403.8 667.8h1.3v1.3h-1.3zM395.0 677.7h1.3v1.3h-1.3zM402.4 655.6h1.3v1.3h-1.3zM392.8 661.3h1.3v1.3h-1.3zM391.7 651.1h1.3v1.3h-1.3zM399.1 663.7h1.3v1.3h-1.3zM394.6 674.2h1.3v1.3h-1.3zM390.8 662.5h1.3v1.3h-1.3zM395.5 659.6h1.3v1.3h-1.3zM393.4 669.1h1.3v1.3h-1.3zM394.0 673.6h1.3v1.3h-1.3zM389.8 664.6h1.3v1.3h-1.3zM386.0 662.1h1.3v1.3h-1.3zM390.0 673.9h1.3v1.3h-1.3zM398.2 667.1h1.3v1.3h-1.3zM404.4 674.5h1.3v1.3h-1.3zM398.1 657.5h1.3v1.3h-1.3zM385.8 662.8h1.3v1.3h-1.3zM392.0 657.8h1.3v1.3h-1.3zM392.4 649.8h1.3v1.3h-1.3zM402.4 653.9h1.3v1.3h-1.3zM390.2 667.6h1.3v1.3h-1.3zM384.8 670.4h1.3v1.3h-1.3zM399.3 660.5h1.3v1.3h-1.3zM387.9 659.2h1.3v1.3h-1.3zM383.5 674.1h1.3v1.3h-1.3zM394.3 657.1h1.3v1.3h-1.3zM388.9 667.6h1.3v1.3h-1.3zM402.5 652.8h1.3v1.3h-1.3zM390.7 648.9h1.3v1.3h-1.3zM397.8 664.3h1.3v1.3h-1.3zM406.8 662.0h1.3v1.3h-1.3zM391.5 657.3h1.3v1.3h-1.3zM398.8 649.9h1.3v1.3h-1.3zM398.3 665.0h1.3v1.3h-1.3zM391.1 655.7h1.3v1.3h-1.3zM400.0 678.0h1.3v1.3h-1.3zM391.5 667.3h1.3v1.3h-1.3zM403.9 658.0h1.3v1.3h-1.3zM392.6 653.2h1.3v1.3h-1.3zM393.2 662.3h1.3v1.3h-1.3zM391.6 657.0h1.3v1.3h-1.3zM385.0 652.2h1.3v1.3h-1.3zM388.4 668.2h1.3v1.3h-1.3zM391.1 656.1h1.3v1.3h-1.3zM397.7 667.5h1.3v1.3h-1.3zM389.7 657.9h1.3v1.3h-1.3zM397.8 665.9h1.3v1.3h-1.3zM389.2 664.9h1.3v1.3h-1.3zM393.8 672.0h1.3v1.3h-1.3zM389.0 670.1h1.3v1.3h-1.3zM396.5 654.8h1.3v1.3h-1.3zM400.0 670.4h1.3v1.3h-1.3zM386.5 679.1h1.3v1.3h-1.3zM387.4 655.6h1.3v1.3h-1.3zM392.2 669.2h1.3v1.3h-1.3zM397.3 662.2h1.3v1.3h-1.3zM401.8 666.3h1.3v1.3h-1.3zM402.0 685.9h1.3v1.3h-1.3zM395.1 642.1h1.3v1.3h-1.3zM391.4 654.2h1.3v1.3h-1.3zM394.5 663.8h1.3v1.3h-1.3zM386.9 653.6h1.3v1.3h-1.3zM392.5 661.4h1.3v1.3h-1.3zM379.0 670.9h1.3v1.3h-1.3zM394.2 662.9h1.3v1.3h-1.3zM395.7 654.6h1.3v1.3h-1.3zM393.7 671.5h1.3v1.3h-1.3zM400.2 666.8h1.3v1.3h-1.3zM392.4 656.3h1.3v1.3h-1.3zM401.7 667.3h1.3v1.3h-1.3zM391.5 645.1h1.3v1.3h-1.3zM388.9 647.1h1.3v1.3h-1.3zM401.3 664.6h1.3v1.3h-1.3zM389.7 660.7h1.3v1.3h-1.3zM409.2 673.1h1.3v1.3h-1.3zM386.1 661.9h1.3v1.3h-1.3zM386.8 648.7h1.3v1.3h-1.3zM395.0 683.0h1.3v1.3h-1.3zM403.2 663.4h1.3v1.3h-1.3zM391.8 664.7h1.3v1.3h-1.3zM400.1 650.8h1.3v1.3h-1.3zM383.0 678.7h1.3v1.3h-1.3zM395.6 676.4h1.3v1.3h-1.3zM395.4 675.3h1.3v1.3h-1.3zM390.4 667.2h1.3v1.3h-1.3zM403.2 671.5h1.3v1.3h-1.3zM391.3 670.5h1.3v1.3h-1.3zM390.1 651.0h1.3v1.3h-1.3zM397.1 674.7h1.3v1.3h-1.3zM399.0 652.4h1.3v1.3h-1.3zM399.2 668.7h1.3v1.3h-1.3zM391.3 642.1h1.3v1.3h-1.3zM400.0 670.5h1.3v1.3h-1.3zM397.0 648.4h1.3v1.3h-1.3zM385.1 671.5h1.3v1.3h-1.3zM398.8 667.2h1.3v1.3h-1.3zM392.5 666.3h1.3v1.3h-1.3zM390.8 660.4h1.3v1.3h-1.3zM388.8 665.2h1.3v1.3h-1.3zM391.5 671.0h1.3v1.3h-1.3zM398.3 656.1h1.3v1.3h-1.3zM405.0 653.5h1.3v1.3h-1.3zM396.7 672.2h1.3v1.3h-1.3zM401.7 644.3h1.3v1.3h-1.3zM400.0 673.3h1.3v1.3h-1.3zM402.6 644.2h1.3v1.3h-1.3zM390.0 662.2h1.3v1.3h-1.3zM391.3 674.4h1.3v1.3h-1.3zM389.9 673.4h1.3v1.3h-1.3zM397.4 650.7h1.3v1.3h-1.3zM388.1 659.0h1.3v1.3h-1.3zM394.6 671.4h1.3v1.3h-1.3zM392.9 670.7h1.3v1.3h-1.3zM384.6 637.1h1.3v1.3h-1.3zM392.0 666.9h1.3v1.3h-1.3zM391.8 654.4h1.3v1.3h-1.3zM396.5 679.4h1.3v1.3h-1.3zM393.4 656.8h1.3v1.3h-1.3zM388.9 679.7h1.3v1.3h-1.3zM393.8 668.2h1.3v1.3h-1.3zM401.3 672.2h1.3v1.3h-1.3zM388.5 671.1h1.3v1.3h-1.3zM399.1 667.2h1.3v1.3h-1.3zM400.1 658.2h1.3v1.3h-1.3zM393.6 658.5h1.3v1.3h-1.3zM398.5 657.4h1.3v1.3h-1.3zM396.4 653.7h1.3v1.3h-1.3zM393.3 659.9h1.3v1.3h-1.3zM393.3 664.1h1.3v1.3h-1.3zM392.9 661.1h1.3v1.3h-1.3zM381.6 672.4h1.3v1.3h-1.3zM390.3 660.9h1.3v1.3h-1.3zM389.0 671.5h1.3v1.3h-1.3zM388.6 667.3h1.3v1.3h-1.3zM401.1 677.0h1.3v1.3h-1.3zM401.1 668.3h1.3v1.3h-1.3zM386.8 674.0h1.3v1.3h-1.3zM401.1 670.1h1.3v1.3h-1.3zM398.8 663.7h1.3v1.3h-1.3zM390.9 672.2h1.3v1.3h-1.3zM401.7 654.2h1.3v1.3h-1.3zM399.5 665.1h1.3v1.3h-1.3zM399.4 665.4h1.3v1.3h-1.3zM400.7 671.8h1.3v1.3h-1.3zM399.4 651.4h1.3v1.3h-1.3zM399.0 663.5h1.3v1.3h-1.3zM387.3 669.1h1.3v1.3h-1.3zM385.9 670.7h1.3v1.3h-1.3zM404.2 658.9h1.3v1.3h-1.3zM399.6 667.0h1.3v1.3h-1.3zM398.0 651.7h1.3v1.3h-1.3zM397.7 664.3h1.3v1.3h-1.3zM398.5 663.2h1.3v1.3h-1.3zM400.7 665.5h1.3v1.3h-1.3zM398.2 674.7h1.3v1.3h-1.3zM395.2 671.6h1.3v1.3h-1.3zM395.5 667.6h1.3v1.3h-1.3zM391.0 669.8h1.3v1.3h-1.3zM401.4 662.5h1.3v1.3h-1.3zM398.9 666.8h1.3v1.3h-1.3zM387.6 666.2h1.3v1.3h-1.3zM402.0 659.2h1.3v1.3h-1.3zM383.6 665.0h1.3v1.3h-1.3zM390.4 679.2h1.3v1.3h-1.3zM394.0 663.2h1.3v1.3h-1.3zM390.5 665.4h1.3v1.3h-1.3zM390.9 655.7h1.3v1.3h-1.3zM393.8 656.5h1.3v1.3h-1.3zM402.0 653.5h1.3v1.3h-1.3zM393.8 657.5h1.3v1.3h-1.3zM386.1 677.2h1.3v1.3h-1.3zM381.8 675.4h1.3v1.3h-1.3zM385.9 664.1h1.3v1.3h-1.3zM407.5 645.5h1.3v1.3h-1.3zM386.1 674.2h1.3v1.3h-1.3zM395.2 658.7h1.3v1.3h-1.3zM394.0 655.3h1.3v1.3h-1.3zM394.9 675.8h1.3v1.3h-1.3zM392.0 664.5h1.3v1.3h-1.3zM401.3 679.9h1.3v1.3h-1.3zM390.8 665.8h1.3v1.3h-1.3zM390.9 657.9h1.3v1.3h-1.3zM391.9 658.0h1.3v1.3h-1.3zM384.0 646.7h1.3v1.3h-1.3zM389.9 664.4h1.3v1.3h-1.3zM401.4 658.9h1.3v1.3h-1.3zM393.2 668.8h1.3v1.3h-1.3zM398.6 662.3h1.3v1.3h-1.3zM393.9 678.9h1.3v1.3h-1.3zM392.2 659.2h1.3v1.3h-1.3zM384.7 666.9h1.3v1.3h-1.3zM392.7 679.2h1.3v1.3h-1.3zM392.2 670.1h1.3v1.3h-1.3zM399.7 677.0h1.3v1.3h-1.3zM386.5 676.3h1.3v1.3h-1.3zM394.3 662.4h1.3v1.3h-1.3zM392.4 660.0h1.3v1.3h-1.3zM392.2 643.9h1.3v1.3h-1.3zM397.2 663.8h1.3v1.3h-1.3zM388.6 662.8h1.3v1.3h-1.3zM407.7 666.5h1.3v1.3h-1.3zM391.9 677.5h1.3v1.3h-1.3zM389.5 662.0h1.3v1.3h-1.3zM391.0 661.3h1.3v1.3h-1.3zM398.5 668.1h1.3v1.3h-1.3zM389.9 662.2h1.3v1.3h-1.3zM394.7 659.9h1.3v1.3h-1.3zM394.0 657.3h1.3v1.3h-1.3zM389.9 663.7h1.3v1.3h-1.3zM388.2 666.7h1.3v1.3h-1.3zM393.1 655.6h1.3v1.3h-1.3zM390.6 659.3h1.3v1.3h-1.3zM393.3 664.2h1.3v1.3h-1.3zM393.0 656.1h1.3v1.3h-1.3zM402.6 670.8h1.3v1.3h-1.3zM394.8 671.1h1.3v1.3h-1.3zM396.1 661.1h1.3v1.3h-1.3zM394.7 685.3h1.3v1.3h-1.3zM400.0 671.9h1.3v1.3h-1.3zM391.9 668.2h1.3v1.3h-1.3zM407.3 666.8h1.3v1.3h-1.3zM400.4 673.6h1.3v1.3h-1.3zM397.9 676.3h1.3v1.3h-1.3zM395.5 667.4h1.3v1.3h-1.3zM390.5 685.0h1.3v1.3h-1.3zM395.9 664.2h1.3v1.3h-1.3zM402.3 659.2h1.3v1.3h-1.3zM394.1 656.8h1.3v1.3h-1.3zM394.3 660.0h1.3v1.3h-1.3zM397.3 662.2h1.3v1.3h-1.3zM390.7 660.8h1.3v1.3h-1.3zM393.5 659.0h1.3v1.3h-1.3zM399.6 668.8h1.3v1.3h-1.3zM395.0 653.4h1.3v1.3h-1.3zM397.2 652.7h1.3v1.3h-1.3zM395.2 663.6h1.3v1.3h-1.3zM390.7 656.4h1.3v1.3h-1.3zM417.5 672.2h1.3v1.3h-1.3zM412.9 647.8h1.3v1.3h-1.3zM394.9 658.5h1.3v1.3h-1.3zM394.2 658.7h1.3v1.3h-1.3zM400.4 662.3h1.3v1.3h-1.3zM405.5 673.1h1.3v1.3h-1.3zM412.1 640.7h1.3v1.3h-1.3zM410.9 648.1h1.3v1.3h-1.3zM391.2 674.2h1.3v1.3h-1.3zM407.7 644.6h1.3v1.3h-1.3zM393.7 681.4h1.3v1.3h-1.3zM409.3 658.2h1.3v1.3h-1.3zM379.5 641.8h1.3v1.3h-1.3zM412.1 677.6h1.3v1.3h-1.3zM406.2 652.0h1.3v1.3h-1.3zM384.7 688.9h1.3v1.3h-1.3zM388.8 685.2h1.3v1.3h-1.3zM391.1 683.4h1.3v1.3h-1.3zM399.0 683.3h1.3v1.3h-1.3zM414.3 643.6h1.3v1.3h-1.3zM416.9 641.3h1.3v1.3h-1.3zM402.5 659.6h1.3v1.3h-1.3zM383.3 660.6h1.3v1.3h-1.3zM417.2 660.0h1.3v1.3h-1.3zM416.5 669.2h1.3v1.3h-1.3zM382.4 678.4h1.3v1.3h-1.3zM405.0 678.6h1.3v1.3h-1.3zM405.0 685.6h1.3v1.3h-1.3zM404.8 673.1h1.3v1.3h-1.3zM407.3 683.0h1.3v1.3h-1.3zM379.2 644.5h1.3v1.3h-1.3zM391.0 641.3h1.3v1.3h-1.3zM392.2 662.1h1.3v1.3h-1.3zM404.3 683.3h1.3v1.3h-1.3zM382.7 658.9h1.3v1.3h-1.3zM389.8 645.4h1.3v1.3h-1.3zM385.8 646.2h1.3v1.3h-1.3zM380.8 651.2h1.3v1.3h-1.3zM397.5 682.3h1.3v1.3h-1.3zM387.0 656.5h1.3v1.3h-1.3zM397.8 682.1h1.3v1.3h-1.3zM387.0 686.2h1.3v1.3h-1.3zM409.9 678.0h1.3v1.3h-1.3zM383.4 685.2h1.3v1.3h-1.3zM409.1 652.5h1.3v1.3h-1.3zM399.9 711.8h1.3v1.3h-1.3zM391.5 737.9h1.3v1.3h-1.3zM387.9 729.1h1.3v1.3h-1.3zM388.9 735.4h1.3v1.3h-1.3zM398.5 747.0h1.3v1.3h-1.3zM396.3 722.1h1.3v1.3h-1.3zM394.7 736.9h1.3v1.3h-1.3zM401.9 705.7h1.3v1.3h-1.3zM395.5 709.4h1.3v1.3h-1.3zM397.6 735.4h1.3v1.3h-1.3zM396.3 740.5h1.3v1.3h-1.3zM395.6 722.9h1.3v1.3h-1.3zM395.4 744.1h1.3v1.3h-1.3zM392.5 730.6h1.3v1.3h-1.3zM385.6 743.6h1.3v1.3h-1.3zM390.0 721.8h1.3v1.3h-1.3zM390.4 720.4h1.3v1.3h-1.3zM391.6 744.9h1.3v1.3h-1.3zM398.1 746.6h1.3v1.3h-1.3zM402.4 720.1h1.3v1.3h-1.3zM396.2 747.5h1.3v1.3h-1.3zM407.4 714.1h1.3v1.3h-1.3zM384.3 735.7h1.3v1.3h-1.3zM391.1 718.9h1.3v1.3h-1.3zM395.5 721.3h1.3v1.3h-1.3zM379.1 730.0h1.3v1.3h-1.3zM393.9 737.6h1.3v1.3h-1.3zM399.0 732.4h1.3v1.3h-1.3zM391.7 722.7h1.3v1.3h-1.3zM382.9 725.3h1.3v1.3h-1.3zM399.3 737.7h1.3v1.3h-1.3zM405.9 728.5h1.3v1.3h-1.3zM382.1 739.7h1.3v1.3h-1.3zM399.6 716.9h1.3v1.3h-1.3zM383.1 732.0h1.3v1.3h-1.3zM397.6 717.4h1.3v1.3h-1.3zM391.0 721.4h1.3v1.3h-1.3zM385.8 715.2h1.3v1.3h-1.3zM394.0 726.0h1.3v1.3h-1.3zM389.0 700.3h1.3v1.3h-1.3zM404.0 719.4h1.3v1.3h-1.3zM392.3 717.2h1.3v1.3h-1.3zM395.5 712.9h1.3v1.3h-1.3zM393.7 728.0h1.3v1.3h-1.3zM398.8 717.6h1.3v1.3h-1.3zM389.1 727.5h1.3v1.3h-1.3zM406.1 713.3h1.3v1.3h-1.3zM394.9 722.7h1.3v1.3h-1.3zM395.0 737.6h1.3v1.3h-1.3zM394.0 733.2h1.3v1.3h-1.3zM394.8 723.4h1.3v1.3h-1.3zM391.7 711.2h1.3v1.3h-1.3zM390.9 721.3h1.3v1.3h-1.3zM391.5 738.6h1.3v1.3h-1.3zM395.4 735.5h1.3v1.3h-1.3zM399.9 702.8h1.3v1.3h-1.3zM395.7 729.8h1.3v1.3h-1.3zM392.4 715.1h1.3v1.3h-1.3zM396.5 743.2h1.3v1.3h-1.3zM399.4 729.1h1.3v1.3h-1.3zM397.0 740.6h1.3v1.3h-1.3zM404.4 744.1h1.3v1.3h-1.3zM393.9 731.2h1.3v1.3h-1.3zM394.1 732.7h1.3v1.3h-1.3zM390.0 738.9h1.3v1.3h-1.3zM388.7 720.9h1.3v1.3h-1.3zM395.2 723.5h1.3v1.3h-1.3zM391.5 706.3h1.3v1.3h-1.3zM398.0 730.0h1.3v1.3h-1.3zM392.2 735.3h1.3v1.3h-1.3zM394.3 722.0h1.3v1.3h-1.3zM405.5 724.9h1.3v1.3h-1.3zM399.1 751.0h1.3v1.3h-1.3zM389.2 731.1h1.3v1.3h-1.3zM387.9 742.1h1.3v1.3h-1.3zM390.9 717.4h1.3v1.3h-1.3zM401.2 740.5h1.3v1.3h-1.3zM387.5 743.6h1.3v1.3h-1.3zM394.2 761.1h1.3v1.3h-1.3zM403.7 723.7h1.3v1.3h-1.3zM391.3 720.0h1.3v1.3h-1.3zM393.8 730.6h1.3v1.3h-1.3zM397.6 731.0h1.3v1.3h-1.3zM383.9 720.7h1.3v1.3h-1.3zM401.8 743.2h1.3v1.3h-1.3zM392.0 728.5h1.3v1.3h-1.3zM392.0 730.3h1.3v1.3h-1.3zM382.6 740.3h1.3v1.3h-1.3zM388.9 731.7h1.3v1.3h-1.3zM401.3 704.4h1.3v1.3h-1.3zM402.4 735.4h1.3v1.3h-1.3zM388.5 711.8h1.3v1.3h-1.3zM400.2 733.0h1.3v1.3h-1.3zM396.7 726.9h1.3v1.3h-1.3zM388.1 740.0h1.3v1.3h-1.3zM387.1 740.3h1.3v1.3h-1.3zM382.6 719.4h1.3v1.3h-1.3zM384.0 745.0h1.3v1.3h-1.3zM382.1 716.9h1.3v1.3h-1.3zM397.1 732.6h1.3v1.3h-1.3zM406.6 751.1h1.3v1.3h-1.3zM396.8 737.9h1.3v1.3h-1.3zM381.7 719.9h1.3v1.3h-1.3zM391.0 728.0h1.3v1.3h-1.3zM384.5 719.3h1.3v1.3h-1.3zM387.7 742.2h1.3v1.3h-1.3zM395.6 726.2h1.3v1.3h-1.3zM391.3 733.3h1.3v1.3h-1.3zM388.7 727.0h1.3v1.3h-1.3zM382.3 737.7h1.3v1.3h-1.3zM399.0 734.2h1.3v1.3h-1.3zM396.0 734.2h1.3v1.3h-1.3zM405.7 732.3h1.3v1.3h-1.3zM384.8 718.0h1.3v1.3h-1.3zM397.4 742.2h1.3v1.3h-1.3zM397.8 739.6h1.3v1.3h-1.3zM394.2 712.9h1.3v1.3h-1.3zM388.6 709.2h1.3v1.3h-1.3zM390.6 714.3h1.3v1.3h-1.3zM393.6 728.0h1.3v1.3h-1.3zM380.9 738.4h1.3v1.3h-1.3zM397.7 714.0h1.3v1.3h-1.3zM393.9 738.2h1.3v1.3h-1.3zM391.2 739.8h1.3v1.3h-1.3zM394.1 742.3h1.3v1.3h-1.3zM394.1 728.0h1.3v1.3h-1.3zM396.1 738.9h1.3v1.3h-1.3zM394.5 724.7h1.3v1.3h-1.3zM388.0 725.6h1.3v1.3h-1.3zM389.4 732.2h1.3v1.3h-1.3zM394.0 728.9h1.3v1.3h-1.3zM392.9 731.8h1.3v1.3h-1.3zM402.7 743.8h1.3v1.3h-1.3zM389.3 734.7h1.3v1.3h-1.3zM390.9 728.7h1.3v1.3h-1.3zM391.4 722.6h1.3v1.3h-1.3zM384.4 701.4h1.3v1.3h-1.3zM394.2 743.5h1.3v1.3h-1.3zM387.2 735.7h1.3v1.3h-1.3zM390.5 733.0h1.3v1.3h-1.3zM387.8 727.1h1.3v1.3h-1.3zM392.2 702.3h1.3v1.3h-1.3zM394.2 728.2h1.3v1.3h-1.3zM392.7 732.1h1.3v1.3h-1.3zM395.1 724.9h1.3v1.3h-1.3zM386.1 724.6h1.3v1.3h-1.3zM390.2 755.5h1.3v1.3h-1.3zM404.4 724.1h1.3v1.3h-1.3zM390.3 733.5h1.3v1.3h-1.3zM396.4 721.7h1.3v1.3h-1.3zM386.6 752.2h1.3v1.3h-1.3zM399.5 711.7h1.3v1.3h-1.3zM381.7 720.1h1.3v1.3h-1.3zM394.2 736.0h1.3v1.3h-1.3zM390.7 710.9h1.3v1.3h-1.3zM394.2 736.7h1.3v1.3h-1.3zM392.8 723.9h1.3v1.3h-1.3zM396.4 729.0h1.3v1.3h-1.3zM385.7 730.8h1.3v1.3h-1.3zM384.6 740.9h1.3v1.3h-1.3zM395.8 718.0h1.3v1.3h-1.3zM394.1 744.2h1.3v1.3h-1.3zM379.3 728.0h1.3v1.3h-1.3zM403.2 711.5h1.3v1.3h-1.3zM391.7 713.0h1.3v1.3h-1.3zM392.4 701.6h1.3v1.3h-1.3zM382.5 723.4h1.3v1.3h-1.3zM393.7 734.1h1.3v1.3h-1.3zM395.5 743.1h1.3v1.3h-1.3zM397.2 738.3h1.3v1.3h-1.3zM386.6 727.8h1.3v1.3h-1.3zM413.0 756.2h1.3v1.3h-1.3zM398.1 738.3h1.3v1.3h-1.3zM399.1 724.9h1.3v1.3h-1.3zM405.3 725.2h1.3v1.3h-1.3zM392.3 755.2h1.3v1.3h-1.3zM379.6 733.9h1.3v1.3h-1.3zM381.8 722.0h1.3v1.3h-1.3zM392.2 725.5h1.3v1.3h-1.3zM393.9 720.6h1.3v1.3h-1.3zM392.1 715.6h1.3v1.3h-1.3zM390.3 713.3h1.3v1.3h-1.3zM397.0 714.4h1.3v1.3h-1.3zM397.2 724.8h1.3v1.3h-1.3zM390.9 743.6h1.3v1.3h-1.3zM393.5 707.2h1.3v1.3h-1.3zM396.0 695.3h1.3v1.3h-1.3zM394.5 724.9h1.3v1.3h-1.3zM383.8 730.6h1.3v1.3h-1.3zM390.8 753.4h1.3v1.3h-1.3zM390.0 752.7h1.3v1.3h-1.3zM401.7 722.4h1.3v1.3h-1.3zM387.6 745.3h1.3v1.3h-1.3zM391.9 731.5h1.3v1.3h-1.3zM391.2 715.3h1.3v1.3h-1.3zM390.4 718.2h1.3v1.3h-1.3zM382.9 726.2h1.3v1.3h-1.3zM404.3 748.9h1.3v1.3h-1.3zM392.4 731.3h1.3v1.3h-1.3zM396.1 745.8h1.3v1.3h-1.3zM394.9 724.0h1.3v1.3h-1.3zM390.3 743.1h1.3v1.3h-1.3zM409.6 722.2h1.3v1.3h-1.3zM379.6 739.3h1.3v1.3h-1.3zM392.3 731.3h1.3v1.3h-1.3zM400.8 730.5h1.3v1.3h-1.3zM384.2 706.2h1.3v1.3h-1.3zM392.5 715.8h1.3v1.3h-1.3zM394.7 714.4h1.3v1.3h-1.3zM390.5 712.1h1.3v1.3h-1.3zM390.5 724.3h1.3v1.3h-1.3zM396.7 745.7h1.3v1.3h-1.3zM391.6 719.3h1.3v1.3h-1.3zM405.5 734.0h1.3v1.3h-1.3zM396.8 736.9h1.3v1.3h-1.3zM402.2 741.7h1.3v1.3h-1.3zM397.2 738.8h1.3v1.3h-1.3zM387.3 722.4h1.3v1.3h-1.3zM392.1 730.8h1.3v1.3h-1.3zM392.9 733.4h1.3v1.3h-1.3zM393.0 724.6h1.3v1.3h-1.3zM382.3 739.7h1.3v1.3h-1.3zM396.6 719.2h1.3v1.3h-1.3zM396.1 734.4h1.3v1.3h-1.3zM393.3 707.7h1.3v1.3h-1.3zM385.0 722.5h1.3v1.3h-1.3zM403.3 719.4h1.3v1.3h-1.3zM390.6 716.4h1.3v1.3h-1.3zM389.6 733.8h1.3v1.3h-1.3zM379.4 695.7h1.3v1.3h-1.3zM397.1 730.1h1.3v1.3h-1.3zM388.9 741.3h1.3v1.3h-1.3zM399.1 704.6h1.3v1.3h-1.3zM391.7 743.0h1.3v1.3h-1.3zM388.5 725.9h1.3v1.3h-1.3zM399.0 726.5h1.3v1.3h-1.3zM385.1 721.5h1.3v1.3h-1.3zM384.2 736.3h1.3v1.3h-1.3zM381.6 741.7h1.3v1.3h-1.3zM382.1 730.2h1.3v1.3h-1.3zM383.3 725.9h1.3v1.3h-1.3zM399.5 743.1h1.3v1.3h-1.3zM401.3 728.6h1.3v1.3h-1.3zM393.5 732.5h1.3v1.3h-1.3zM396.8 724.9h1.3v1.3h-1.3zM400.0 733.6h1.3v1.3h-1.3zM400.3 735.4h1.3v1.3h-1.3zM397.2 720.9h1.3v1.3h-1.3zM390.1 714.2h1.3v1.3h-1.3zM390.9 727.6h1.3v1.3h-1.3zM398.3 714.6h1.3v1.3h-1.3zM413.8 728.2h1.3v1.3h-1.3zM401.0 742.2h1.3v1.3h-1.3zM402.4 700.6h1.3v1.3h-1.3zM397.8 718.7h1.3v1.3h-1.3zM389.8 732.4h1.3v1.3h-1.3zM380.7 732.0h1.3v1.3h-1.3zM388.6 720.7h1.3v1.3h-1.3zM395.1 736.3h1.3v1.3h-1.3zM392.5 721.0h1.3v1.3h-1.3zM394.5 747.9h1.3v1.3h-1.3zM394.0 740.3h1.3v1.3h-1.3zM391.3 759.9h1.3v1.3h-1.3zM382.1 736.7h1.3v1.3h-1.3zM396.3 732.8h1.3v1.3h-1.3zM385.5 716.0h1.3v1.3h-1.3zM391.3 730.8h1.3v1.3h-1.3zM384.9 716.8h1.3v1.3h-1.3zM396.4 742.0h1.3v1.3h-1.3zM389.1 721.2h1.3v1.3h-1.3zM388.1 759.3h1.3v1.3h-1.3zM396.0 728.8h1.3v1.3h-1.3zM399.3 757.1h1.3v1.3h-1.3zM400.4 712.4h1.3v1.3h-1.3zM392.2 724.7h1.3v1.3h-1.3zM390.5 714.9h1.3v1.3h-1.3zM390.2 716.5h1.3v1.3h-1.3zM395.0 730.1h1.3v1.3h-1.3zM383.5 709.0h1.3v1.3h-1.3zM389.6 737.4h1.3v1.3h-1.3zM396.0 728.7h1.3v1.3h-1.3zM387.9 725.5h1.3v1.3h-1.3zM384.8 724.3h1.3v1.3h-1.3zM388.4 762.2h1.3v1.3h-1.3zM397.3 727.2h1.3v1.3h-1.3zM392.4 728.1h1.3v1.3h-1.3zM394.0 724.6h1.3v1.3h-1.3zM392.6 741.9h1.3v1.3h-1.3zM398.2 733.2h1.3v1.3h-1.3zM401.4 732.2h1.3v1.3h-1.3zM386.3 708.5h1.3v1.3h-1.3zM388.2 728.8h1.3v1.3h-1.3zM395.3 742.5h1.3v1.3h-1.3zM389.0 719.8h1.3v1.3h-1.3zM397.8 743.7h1.3v1.3h-1.3zM410.5 705.5h1.3v1.3h-1.3zM402.4 721.3h1.3v1.3h-1.3zM415.9 760.2h1.3v1.3h-1.3zM413.8 752.7h1.3v1.3h-1.3zM379.3 720.6h1.3v1.3h-1.3zM383.7 718.6h1.3v1.3h-1.3zM417.7 749.5h1.3v1.3h-1.3zM405.0 699.7h1.3v1.3h-1.3zM384.5 702.1h1.3v1.3h-1.3zM414.5 732.8h1.3v1.3h-1.3zM382.5 732.6h1.3v1.3h-1.3zM400.0 732.7h1.3v1.3h-1.3zM394.1 746.0h1.3v1.3h-1.3zM390.2 753.9h1.3v1.3h-1.3zM388.3 721.2h1.3v1.3h-1.3zM382.4 716.2h1.3v1.3h-1.3zM393.7 751.8h1.3v1.3h-1.3zM382.9 710.6h1.3v1.3h-1.3zM403.3 753.5h1.3v1.3h-1.3zM391.5 742.1h1.3v1.3h-1.3zM408.9 751.6h1.3v1.3h-1.3zM415.6 737.3h1.3v1.3h-1.3zM413.6 701.2h1.3v1.3h-1.3zM407.8 742.6h1.3v1.3h-1.3zM409.4 727.7h1.3v1.3h-1.3zM382.6 706.5h1.3v1.3h-1.3zM416.9 700.9h1.3v1.3h-1.3zM401.5 711.9h1.3v1.3h-1.3zM400.2 702.5h1.3v1.3h-1.3zM405.3 703.2h1.3v1.3h-1.3zM386.3 751.4h1.3v1.3h-1.3zM397.3 758.6h1.3v1.3h-1.3zM383.8 761.6h1.3v1.3h-1.3zM414.8 732.0h1.3v1.3h-1.3zM398.5 732.5h1.3v1.3h-1.3zM384.2 698.1h1.3v1.3h-1.3zM416.8 702.1h1.3v1.3h-1.3zM401.6 746.4h1.3v1.3h-1.3zM408.5 732.8h1.3v1.3h-1.3zM410.3 732.5h1.3v1.3h-1.3zM406.1 745.2h1.3v1.3h-1.3zM396.3 749.3h1.3v1.3h-1.3zM389.9 742.3h1.3v1.3h-1.3zM381.0 694.7h1.3v1.3h-1.3zM403.3 731.0h1.3v1.3h-1.3zM383.3 750.8h1.3v1.3h-1.3zM393.4 749.7h1.3v1.3h-1.3zM413.7 758.5h1.3v1.3h-1.3zM414.3 729.3h1.3v1.3h-1.3zM411.1 729.5h1.3v1.3h-1.3zM386.5 695.7h1.3v1.3h-1.3zM415.7 728.9h1.3v1.3h-1.3zM384.5 732.3h1.3v1.3h-1.3zM414.8 756.4h1.3v1.3h-1.3zM408.2 754.2h1.3v1.3h-1.3zM416.9 698.2h1.3v1.3h-1.3zM417.4 703.6h1.3v1.3h-1.3zM399.5 720.0h1.3v1.3h-1.3zM391.2 747.0h1.3v1.3h-1.3zM414.8 705.3h1.3v1.3h-1.3zM391.2 746.6h1.3v1.3h-1.3zM392.0 734.3h1.3v1.3h-1.3zM401.2 753.7h1.3v1.3h-1.3zM384.5 717.3h1.3v1.3h-1.3zM396.8 721.4h1.3v1.3h-1.3zM384.4 698.1h1.3v1.3h-1.3zM396.7 729.2h1.3v1.3h-1.3zM414.4 746.7h1.3v1.3h-1.3zM414.9 728.9h1.3v1.3h-1.3zM416.4 729.5h1.3v1.3h-1.3zM407.3 756.2h1.3v1.3h-1.3zM408.1 746.1h1.3v1.3h-1.3zM395.7 715.4h1.3v1.3h-1.3zM413.9 758.2h1.3v1.3h-1.3zM384.2 743.3h1.3v1.3h-1.3zM385.5 714.5h1.3v1.3h-1.3zM383.6 708.4h1.3v1.3h-1.3zM394.9 739.9h1.3v1.3h-1.3zM381.3 728.5h1.3v1.3h-1.3zM406.4 734.7h1.3v1.3h-1.3zM386.1 702.8h1.3v1.3h-1.3zM405.9 746.1h1.3v1.3h-1.3zM401.0 752.5h1.3v1.3h-1.3zM406.0 722.5h1.3v1.3h-1.3zM406.4 714.7h1.3v1.3h-1.3zM409.7 760.3h1.3v1.3h-1.3zM397.7 760.3h1.3v1.3h-1.3zM401.3 702.5h1.3v1.3h-1.3zM388.8 730.8h1.3v1.3h-1.3zM398.5 723.7h1.3v1.3h-1.3zM382.5 713.1h1.3v1.3h-1.3zM416.2 729.3h1.3v1.3h-1.3zM415.2 739.4h1.3v1.3h-1.3zM381.9 718.9h1.3v1.3h-1.3zM379.4 714.9h1.3v1.3h-1.3zM394.4 752.7h1.3v1.3h-1.3zM399.5 738.7h1.3v1.3h-1.3zM397.7 714.8h1.3v1.3h-1.3zM392.2 704.6h1.3v1.3h-1.3zM403.3 720.2h1.3v1.3h-1.3zM394.6 757.9h1.3v1.3h-1.3zM394.8 750.5h1.3v1.3h-1.3zM380.3 708.3h1.3v1.3h-1.3zM402.1 735.2h1.3v1.3h-1.3zM382.2 694.4h1.3v1.3h-1.3zM412.5 755.7h1.3v1.3h-1.3zM397.6 758.1h1.3v1.3h-1.3zM392.8 708.7h1.3v1.3h-1.3zM404.8 717.3h1.3v1.3h-1.3zM413.5 714.5h1.3v1.3h-1.3zM446.4 721.7h1.3v1.3h-1.3zM439.7 715.8h1.3v1.3h-1.3zM448.1 717.5h1.3v1.3h-1.3zM431.9 719.3h1.3v1.3h-1.3zM444.5 716.7h1.3v1.3h-1.3zM441.4 714.0h1.3v1.3h-1.3zM438.8 706.9h1.3v1.3h-1.3zM427.6 729.6h1.3v1.3h-1.3zM434.4 719.2h1.3v1.3h-1.3zM427.1 720.3h1.3v1.3h-1.3zM432.8 746.4h1.3v1.3h-1.3zM431.1 708.4h1.3v1.3h-1.3zM447.7 725.0h1.3v1.3h-1.3zM421.9 722.5h1.3v1.3h-1.3zM447.2 702.1h1.3v1.3h-1.3zM445.5 709.3h1.3v1.3h-1.3zM431.3 714.3h1.3v1.3h-1.3zM435.9 703.2h1.3v1.3h-1.3zM458.7 706.9h1.3v1.3h-1.3zM433.4 725.6h1.3v1.3h-1.3zM439.1 728.9h1.3v1.3h-1.3zM437.5 719.7h1.3v1.3h-1.3zM440.5 717.2h1.3v1.3h-1.3zM438.0 715.2h1.3v1.3h-1.3zM453.9 705.8h1.3v1.3h-1.3zM435.1 713.5h1.3v1.3h-1.3zM444.6 718.5h1.3v1.3h-1.3zM447.6 700.9h1.3v1.3h-1.3zM441.9 713.5h1.3v1.3h-1.3zM437.3 717.9h1.3v1.3h-1.3zM423.1 722.3h1.3v1.3h-1.3zM441.0 701.6h1.3v1.3h-1.3zM439.0 731.0h1.3v1.3h-1.3zM436.5 722.3h1.3v1.3h-1.3zM437.9 708.3h1.3v1.3h-1.3zM432.0 713.7h1.3v1.3h-1.3zM450.7 721.1h1.3v1.3h-1.3zM433.8 726.9h1.3v1.3h-1.3zM438.7 709.3h1.3v1.3h-1.3zM443.4 706.1h1.3v1.3h-1.3zM426.5 731.4h1.3v1.3h-1.3zM424.4 724.7h1.3v1.3h-1.3zM426.9 718.5h1.3v1.3h-1.3zM438.1 711.9h1.3v1.3h-1.3zM421.4 719.1h1.3v1.3h-1.3zM439.5 707.2h1.3v1.3h-1.3zM439.2 725.5h1.3v1.3h-1.3zM433.7 719.7h1.3v1.3h-1.3zM430.1 721.8h1.3v1.3h-1.3zM445.1 738.5h1.3v1.3h-1.3zM447.4 718.2h1.3v1.3h-1.3zM451.6 703.4h1.3v1.3h-1.3zM448.8 708.4h1.3v1.3h-1.3zM434.6 727.6h1.3v1.3h-1.3zM441.8 728.2h1.3v1.3h-1.3zM427.6 721.3h1.3v1.3h-1.3zM435.4 714.2h1.3v1.3h-1.3zM423.8 728.6h1.3v1.3h-1.3zM441.6 705.9h1.3v1.3h-1.3zM428.5 710.1h1.3v1.3h-1.3zM451.5 712.1h1.3v1.3h-1.3zM437.0 721.3h1.3v1.3h-1.3zM439.9 718.1h1.3v1.3h-1.3zM446.1 717.6h1.3v1.3h-1.3zM447.2 702.6h1.3v1.3h-1.3zM440.4 712.3h1.3v1.3h-1.3zM440.8 715.3h1.3v1.3h-1.3zM434.6 713.8h1.3v1.3h-1.3zM447.8 708.7h1.3v1.3h-1.3zM429.5 724.1h1.3v1.3h-1.3zM448.0 711.4h1.3v1.3h-1.3zM441.0 707.6h1.3v1.3h-1.3zM438.2 727.0h1.3v1.3h-1.3zM446.6 715.8h1.3v1.3h-1.3zM437.7 700.8h1.3v1.3h-1.3zM442.6 719.7h1.3v1.3h-1.3zM448.7 733.3h1.3v1.3h-1.3zM443.1 724.4h1.3v1.3h-1.3zM430.7 729.7h1.3v1.3h-1.3zM447.2 727.4h1.3v1.3h-1.3zM445.6 719.0h1.3v1.3h-1.3zM452.3 706.7h1.3v1.3h-1.3zM445.4 725.1h1.3v1.3h-1.3zM433.5 706.5h1.3v1.3h-1.3zM443.6 716.4h1.3v1.3h-1.3zM445.1 721.0h1.3v1.3h-1.3zM433.7 720.8h1.3v1.3h-1.3zM449.4 710.5h1.3v1.3h-1.3zM437.7 705.8h1.3v1.3h-1.3zM446.9 733.1h1.3v1.3h-1.3zM428.7 726.0h1.3v1.3h-1.3zM447.6 709.0h1.3v1.3h-1.3zM437.0 706.8h1.3v1.3h-1.3zM433.6 719.2h1.3v1.3h-1.3zM445.5 716.0h1.3v1.3h-1.3zM447.2 716.4h1.3v1.3h-1.3zM430.4 732.3h1.3v1.3h-1.3zM450.0 707.0h1.3v1.3h-1.3zM454.8 717.2h1.3v1.3h-1.3zM441.2 734.2h1.3v1.3h-1.3zM419.5 705.7h1.3v1.3h-1.3zM446.1 712.4h1.3v1.3h-1.3zM432.3 732.4h1.3v1.3h-1.3zM444.2 703.0h1.3v1.3h-1.3zM434.7 725.5h1.3v1.3h-1.3zM455.0 693.6h1.3v1.3h-1.3zM442.3 712.1h1.3v1.3h-1.3zM425.7 718.0h1.3v1.3h-1.3zM426.9 714.2h1.3v1.3h-1.3zM453.6 718.0h1.3v1.3h-1.3zM446.7 720.4h1.3v1.3h-1.3zM443.2 724.8h1.3v1.3h-1.3zM430.6 715.1h1.3v1.3h-1.3zM447.3 707.6h1.3v1.3h-1.3zM436.6 728.6h1.3v1.3h-1.3zM453.0 707.5h1.3v1.3h-1.3zM433.5 723.4h1.3v1.3h-1.3zM442.5 709.3h1.3v1.3h-1.3zM445.3 720.4h1.3v1.3h-1.3zM441.0 744.2h1.3v1.3h-1.3zM451.6 721.4h1.3v1.3h-1.3zM448.8 742.6h1.3v1.3h-1.3zM449.4 707.3h1.3v1.3h-1.3zM443.0 716.4h1.3v1.3h-1.3zM435.6 719.9h1.3v1.3h-1.3zM442.4 715.3h1.3v1.3h-1.3zM436.3 725.2h1.3v1.3h-1.3zM427.1 727.3h1.3v1.3h-1.3zM440.4 718.9h1.3v1.3h-1.3zM420.6 737.1h1.3v1.3h-1.3zM426.0 711.4h1.3v1.3h-1.3zM445.7 709.3h1.3v1.3h-1.3zM437.0 695.7h1.3v1.3h-1.3zM436.7 719.2h1.3v1.3h-1.3zM446.0 712.3h1.3v1.3h-1.3zM442.2 720.1h1.3v1.3h-1.3zM434.8 710.5h1.3v1.3h-1.3zM456.7 704.3h1.3v1.3h-1.3zM450.6 714.6h1.3v1.3h-1.3zM452.6 707.3h1.3v1.3h-1.3zM444.7 718.5h1.3v1.3h-1.3zM438.5 719.8h1.3v1.3h-1.3zM434.0 717.1h1.3v1.3h-1.3zM437.1 724.4h1.3v1.3h-1.3zM439.6 703.2h1.3v1.3h-1.3zM437.3 716.1h1.3v1.3h-1.3zM432.9 730.9h1.3v1.3h-1.3zM443.8 723.7h1.3v1.3h-1.3zM434.0 714.0h1.3v1.3h-1.3zM448.8 700.6h1.3v1.3h-1.3zM443.4 716.5h1.3v1.3h-1.3zM436.2 718.2h1.3v1.3h-1.3zM431.4 720.6h1.3v1.3h-1.3zM430.2 706.5h1.3v1.3h-1.3zM452.0 706.9h1.3v1.3h-1.3zM422.8 729.9h1.3v1.3h-1.3zM433.9 684.0h1.3v1.3h-1.3zM439.9 725.4h1.3v1.3h-1.3zM443.3 732.2h1.3v1.3h-1.3zM439.3 722.4h1.3v1.3h-1.3zM432.0 719.9h1.3v1.3h-1.3zM453.2 718.2h1.3v1.3h-1.3zM441.7 697.0h1.3v1.3h-1.3zM437.2 704.7h1.3v1.3h-1.3zM446.9 707.7h1.3v1.3h-1.3zM443.4 706.0h1.3v1.3h-1.3zM456.2 701.4h1.3v1.3h-1.3zM441.5 741.4h1.3v1.3h-1.3zM442.2 707.5h1.3v1.3h-1.3zM445.5 724.7h1.3v1.3h-1.3zM447.7 695.7h1.3v1.3h-1.3zM442.2 695.4h1.3v1.3h-1.3zM456.3 713.3h1.3v1.3h-1.3zM436.5 723.8h1.3v1.3h-1.3zM444.5 704.0h1.3v1.3h-1.3zM454.0 710.8h1.3v1.3h-1.3zM425.7 733.4h1.3v1.3h-1.3zM453.3 725.5h1.3v1.3h-1.3zM445.0 706.7h1.3v1.3h-1.3zM448.3 732.5h1.3v1.3h-1.3zM447.3 730.3h1.3v1.3h-1.3zM433.9 727.8h1.3v1.3h-1.3zM448.3 700.1h1.3v1.3h-1.3zM426.8 712.6h1.3v1.3h-1.3zM441.1 720.6h1.3v1.3h-1.3zM438.5 716.2h1.3v1.3h-1.3zM439.5 717.5h1.3v1.3h-1.3zM445.4 720.1h1.3v1.3h-1.3zM440.0 719.0h1.3v1.3h-1.3zM436.6 725.0h1.3v1.3h-1.3zM436.2 733.3h1.3v1.3h-1.3zM440.2 719.1h1.3v1.3h-1.3zM434.0 714.6h1.3v1.3h-1.3zM441.8 716.3h1.3v1.3h-1.3zM435.2 706.4h1.3v1.3h-1.3zM440.8 717.8h1.3v1.3h-1.3zM445.1 727.4h1.3v1.3h-1.3zM437.8 697.6h1.3v1.3h-1.3zM439.2 698.7h1.3v1.3h-1.3zM429.6 729.0h1.3v1.3h-1.3zM445.2 709.0h1.3v1.3h-1.3zM435.1 716.8h1.3v1.3h-1.3zM425.6 724.6h1.3v1.3h-1.3zM437.5 735.0h1.3v1.3h-1.3zM431.5 728.3h1.3v1.3h-1.3zM434.7 727.7h1.3v1.3h-1.3zM432.2 725.5h1.3v1.3h-1.3zM436.7 709.3h1.3v1.3h-1.3zM439.2 721.4h1.3v1.3h-1.3zM443.9 731.0h1.3v1.3h-1.3zM447.4 689.1h1.3v1.3h-1.3zM437.1 697.8h1.3v1.3h-1.3zM437.2 723.3h1.3v1.3h-1.3zM429.2 707.6h1.3v1.3h-1.3zM441.7 713.3h1.3v1.3h-1.3zM453.9 716.4h1.3v1.3h-1.3zM445.0 732.5h1.3v1.3h-1.3zM436.2 717.4h1.3v1.3h-1.3zM432.1 720.9h1.3v1.3h-1.3zM449.3 727.7h1.3v1.3h-1.3zM440.2 709.6h1.3v1.3h-1.3zM434.0 704.4h1.3v1.3h-1.3zM441.5 729.5h1.3v1.3h-1.3zM420.4 699.9h1.3v1.3h-1.3zM452.4 697.9h1.3v1.3h-1.3zM443.3 703.5h1.3v1.3h-1.3zM447.1 722.6h1.3v1.3h-1.3zM442.0 724.2h1.3v1.3h-1.3zM441.0 721.9h1.3v1.3h-1.3zM456.0 723.6h1.3v1.3h-1.3zM435.0 710.0h1.3v1.3h-1.3zM438.5 714.7h1.3v1.3h-1.3zM441.2 710.5h1.3v1.3h-1.3zM446.1 715.6h1.3v1.3h-1.3zM443.6 715.9h1.3v1.3h-1.3zM445.8 703.6h1.3v1.3h-1.3zM454.0 716.8h1.3v1.3h-1.3zM444.4 721.6h1.3v1.3h-1.3zM449.8 721.6h1.3v1.3h-1.3zM442.6 714.3h1.3v1.3h-1.3zM426.6 721.9h1.3v1.3h-1.3zM438.0 714.1h1.3v1.3h-1.3zM461.0 693.6h1.3v1.3h-1.3zM441.1 728.3h1.3v1.3h-1.3zM448.8 726.8h1.3v1.3h-1.3zM429.9 709.7h1.3v1.3h-1.3zM445.9 712.5h1.3v1.3h-1.3zM455.2 715.4h1.3v1.3h-1.3zM442.3 720.5h1.3v1.3h-1.3zM438.4 718.3h1.3v1.3h-1.3zM434.9 717.6h1.3v1.3h-1.3zM436.6 720.1h1.3v1.3h-1.3zM428.7 704.9h1.3v1.3h-1.3zM444.6 717.9h1.3v1.3h-1.3zM432.5 716.4h1.3v1.3h-1.3zM431.8 738.7h1.3v1.3h-1.3zM427.4 736.6h1.3v1.3h-1.3zM433.7 722.4h1.3v1.3h-1.3zM438.5 713.5h1.3v1.3h-1.3zM448.7 722.8h1.3v1.3h-1.3zM438.3 708.4h1.3v1.3h-1.3zM458.4 726.3h1.3v1.3h-1.3zM441.9 713.5h1.3v1.3h-1.3zM443.2 716.9h1.3v1.3h-1.3zM450.9 704.8h1.3v1.3h-1.3zM440.9 709.0h1.3v1.3h-1.3zM451.9 731.7h1.3v1.3h-1.3zM440.0 722.2h1.3v1.3h-1.3zM452.7 711.0h1.3v1.3h-1.3zM432.8 728.8h1.3v1.3h-1.3zM445.1 713.7h1.3v1.3h-1.3zM453.2 716.1h1.3v1.3h-1.3zM425.6 723.7h1.3v1.3h-1.3zM440.3 735.3h1.3v1.3h-1.3zM440.6 714.7h1.3v1.3h-1.3zM444.5 718.2h1.3v1.3h-1.3zM428.8 720.7h1.3v1.3h-1.3zM438.0 731.1h1.3v1.3h-1.3zM461.2 701.0h1.3v1.3h-1.3zM432.6 710.4h1.3v1.3h-1.3zM435.2 711.3h1.3v1.3h-1.3zM441.2 727.3h1.3v1.3h-1.3zM429.7 704.2h1.3v1.3h-1.3zM425.1 731.2h1.3v1.3h-1.3zM452.1 699.0h1.3v1.3h-1.3zM426.9 721.3h1.3v1.3h-1.3zM450.1 724.5h1.3v1.3h-1.3zM442.4 723.0h1.3v1.3h-1.3zM443.6 710.6h1.3v1.3h-1.3zM457.0 712.9h1.3v1.3h-1.3zM431.3 714.4h1.3v1.3h-1.3zM427.7 720.0h1.3v1.3h-1.3zM450.1 702.1h1.3v1.3h-1.3zM450.4 735.0h1.3v1.3h-1.3zM444.0 704.6h1.3v1.3h-1.3zM433.6 715.2h1.3v1.3h-1.3zM429.9 707.1h1.3v1.3h-1.3zM438.6 715.5h1.3v1.3h-1.3zM446.0 703.8h1.3v1.3h-1.3zM456.7 723.4h1.3v1.3h-1.3zM448.4 708.6h1.3v1.3h-1.3zM455.6 709.9h1.3v1.3h-1.3zM456.2 723.6h1.3v1.3h-1.3zM433.2 714.1h1.3v1.3h-1.3zM456.7 722.8h1.3v1.3h-1.3zM439.5 719.1h1.3v1.3h-1.3zM442.5 708.8h1.3v1.3h-1.3zM439.1 710.7h1.3v1.3h-1.3zM437.2 722.2h1.3v1.3h-1.3zM432.7 725.8h1.3v1.3h-1.3zM441.7 724.0h1.3v1.3h-1.3zM448.4 727.2h1.3v1.3h-1.3zM446.2 722.4h1.3v1.3h-1.3zM439.3 722.7h1.3v1.3h-1.3zM433.1 716.1h1.3v1.3h-1.3zM447.2 714.7h1.3v1.3h-1.3zM444.6 705.5h1.3v1.3h-1.3zM452.5 708.3h1.3v1.3h-1.3zM444.2 715.7h1.3v1.3h-1.3zM448.8 711.1h1.3v1.3h-1.3zM432.3 700.1h1.3v1.3h-1.3zM438.2 705.6h1.3v1.3h-1.3zM445.4 729.8h1.3v1.3h-1.3zM421.8 708.5h1.3v1.3h-1.3zM443.4 728.2h1.3v1.3h-1.3zM443.4 719.3h1.3v1.3h-1.3zM445.1 721.4h1.3v1.3h-1.3zM454.8 719.5h1.3v1.3h-1.3zM430.2 714.6h1.3v1.3h-1.3zM442.6 708.3h1.3v1.3h-1.3zM438.6 712.1h1.3v1.3h-1.3zM434.8 725.0h1.3v1.3h-1.3zM437.5 706.8h1.3v1.3h-1.3zM434.7 718.5h1.3v1.3h-1.3zM458.8 715.0h1.3v1.3h-1.3zM453.5 718.6h1.3v1.3h-1.3zM422.4 724.8h1.3v1.3h-1.3zM433.5 705.1h1.3v1.3h-1.3zM431.6 736.5h1.3v1.3h-1.3zM427.3 713.8h1.3v1.3h-1.3zM450.7 721.0h1.3v1.3h-1.3zM426.2 719.1h1.3v1.3h-1.3zM436.4 715.8h1.3v1.3h-1.3zM447.2 709.5h1.3v1.3h-1.3zM438.1 731.8h1.3v1.3h-1.3zM425.0 716.8h1.3v1.3h-1.3zM444.8 703.5h1.3v1.3h-1.3zM435.4 705.0h1.3v1.3h-1.3zM442.1 710.3h1.3v1.3h-1.3zM447.5 725.2h1.3v1.3h-1.3zM441.2 712.9h1.3v1.3h-1.3zM443.0 716.8h1.3v1.3h-1.3zM430.4 729.7h1.3v1.3h-1.3zM442.7 724.0h1.3v1.3h-1.3zM429.1 728.1h1.3v1.3h-1.3zM458.8 718.5h1.3v1.3h-1.3zM428.3 720.0h1.3v1.3h-1.3zM440.3 719.0h1.3v1.3h-1.3zM438.8 722.1h1.3v1.3h-1.3zM436.8 719.9h1.3v1.3h-1.3zM434.9 719.1h1.3v1.3h-1.3zM449.3 709.8h1.3v1.3h-1.3zM446.5 706.6h1.3v1.3h-1.3zM437.6 715.1h1.3v1.3h-1.3zM451.4 706.6h1.3v1.3h-1.3zM451.2 699.7h1.3v1.3h-1.3zM439.4 726.0h1.3v1.3h-1.3zM446.7 705.3h1.3v1.3h-1.3zM430.2 727.8h1.3v1.3h-1.3zM429.9 725.0h1.3v1.3h-1.3zM436.3 717.6h1.3v1.3h-1.3zM460.6 727.3h1.3v1.3h-1.3zM447.9 701.3h1.3v1.3h-1.3zM443.5 716.5h1.3v1.3h-1.3zM439.9 730.1h1.3v1.3h-1.3zM426.0 723.3h1.3v1.3h-1.3zM441.8 709.0h1.3v1.3h-1.3zM455.5 700.6h1.3v1.3h-1.3zM440.9 717.4h1.3v1.3h-1.3zM421.9 706.9h1.3v1.3h-1.3zM432.4 726.4h1.3v1.3h-1.3zM448.8 720.6h1.3v1.3h-1.3zM442.8 694.4h1.3v1.3h-1.3zM442.5 711.1h1.3v1.3h-1.3zM450.8 727.6h1.3v1.3h-1.3zM459.9 719.1h1.3v1.3h-1.3zM447.7 704.7h1.3v1.3h-1.3zM441.4 704.2h1.3v1.3h-1.3zM448.4 703.0h1.3v1.3h-1.3zM438.8 708.9h1.3v1.3h-1.3zM436.6 722.1h1.3v1.3h-1.3zM435.8 719.9h1.3v1.3h-1.3zM432.0 732.5h1.3v1.3h-1.3zM435.1 728.0h1.3v1.3h-1.3zM459.1 688.1h1.3v1.3h-1.3zM432.1 716.6h1.3v1.3h-1.3zM450.7 709.4h1.3v1.3h-1.3zM443.9 708.6h1.3v1.3h-1.3zM445.5 703.4h1.3v1.3h-1.3zM447.9 685.1h1.3v1.3h-1.3zM424.3 738.5h1.3v1.3h-1.3zM442.1 707.3h1.3v1.3h-1.3zM459.7 722.6h1.3v1.3h-1.3zM450.4 710.1h1.3v1.3h-1.3zM446.0 720.4h1.3v1.3h-1.3zM426.3 725.9h1.3v1.3h-1.3zM439.0 729.8h1.3v1.3h-1.3zM451.9 707.5h1.3v1.3h-1.3zM435.4 719.7h1.3v1.3h-1.3zM446.3 711.1h1.3v1.3h-1.3zM439.6 722.9h1.3v1.3h-1.3zM444.3 727.3h1.3v1.3h-1.3zM442.7 707.2h1.3v1.3h-1.3zM425.3 728.3h1.3v1.3h-1.3zM437.7 713.7h1.3v1.3h-1.3zM438.1 701.4h1.3v1.3h-1.3zM437.2 691.3h1.3v1.3h-1.3zM437.1 708.4h1.3v1.3h-1.3zM456.6 717.3h1.3v1.3h-1.3zM438.7 718.6h1.3v1.3h-1.3zM446.9 707.4h1.3v1.3h-1.3zM438.6 713.4h1.3v1.3h-1.3zM462.2 712.2h1.3v1.3h-1.3zM423.4 728.5h1.3v1.3h-1.3zM463.1 701.6h1.3v1.3h-1.3zM470.9 708.8h1.3v1.3h-1.3zM449.3 708.8h1.3v1.3h-1.3zM438.2 704.7h1.3v1.3h-1.3zM431.3 697.1h1.3v1.3h-1.3zM450.5 702.6h1.3v1.3h-1.3zM443.8 719.1h1.3v1.3h-1.3zM434.9 718.3h1.3v1.3h-1.3zM439.7 711.7h1.3v1.3h-1.3zM441.0 716.9h1.3v1.3h-1.3zM431.6 705.5h1.3v1.3h-1.3zM433.1 719.5h1.3v1.3h-1.3zM452.6 728.5h1.3v1.3h-1.3zM443.3 725.4h1.3v1.3h-1.3zM441.6 727.4h1.3v1.3h-1.3zM441.6 720.2h1.3v1.3h-1.3zM438.0 717.0h1.3v1.3h-1.3zM457.1 700.4h1.3v1.3h-1.3zM440.5 710.5h1.3v1.3h-1.3zM448.9 732.8h1.3v1.3h-1.3zM437.8 689.0h1.3v1.3h-1.3zM445.9 721.4h1.3v1.3h-1.3zM425.7 717.5h1.3v1.3h-1.3zM439.9 693.2h1.3v1.3h-1.3zM446.4 719.5h1.3v1.3h-1.3zM442.6 705.2h1.3v1.3h-1.3zM434.2 711.5h1.3v1.3h-1.3zM444.7 705.5h1.3v1.3h-1.3zM453.3 717.2h1.3v1.3h-1.3zM421.3 738.0h1.3v1.3h-1.3zM441.8 710.5h1.3v1.3h-1.3zM441.3 697.6h1.3v1.3h-1.3zM442.1 691.0h1.3v1.3h-1.3zM431.4 732.3h1.3v1.3h-1.3zM451.6 710.3h1.3v1.3h-1.3zM431.9 727.9h1.3v1.3h-1.3zM440.0 718.6h1.3v1.3h-1.3zM445.9 704.1h1.3v1.3h-1.3zM447.4 693.2h1.3v1.3h-1.3zM453.3 697.3h1.3v1.3h-1.3zM434.8 710.8h1.3v1.3h-1.3zM446.8 722.4h1.3v1.3h-1.3zM443.6 721.1h1.3v1.3h-1.3zM444.5 714.6h1.3v1.3h-1.3zM423.5 696.8h1.3v1.3h-1.3zM420.0 720.6h1.3v1.3h-1.3zM438.3 715.4h1.3v1.3h-1.3zM442.3 713.4h1.3v1.3h-1.3zM431.5 703.0h1.3v1.3h-1.3zM423.5 732.7h1.3v1.3h-1.3zM448.4 700.6h1.3v1.3h-1.3zM437.9 721.4h1.3v1.3h-1.3zM454.5 706.8h1.3v1.3h-1.3zM441.9 727.7h1.3v1.3h-1.3zM424.9 712.4h1.3v1.3h-1.3zM439.9 709.0h1.3v1.3h-1.3zM459.0 720.7h1.3v1.3h-1.3zM442.0 706.0h1.3v1.3h-1.3zM448.0 720.9h1.3v1.3h-1.3zM435.7 712.9h1.3v1.3h-1.3zM427.3 718.5h1.3v1.3h-1.3zM448.0 724.7h1.3v1.3h-1.3zM445.4 723.5h1.3v1.3h-1.3zM435.0 712.7h1.3v1.3h-1.3zM450.9 718.3h1.3v1.3h-1.3zM433.2 723.0h1.3v1.3h-1.3zM447.6 721.7h1.3v1.3h-1.3zM441.2 710.7h1.3v1.3h-1.3zM443.8 732.7h1.3v1.3h-1.3zM441.5 709.1h1.3v1.3h-1.3zM443.2 702.9h1.3v1.3h-1.3zM442.3 712.7h1.3v1.3h-1.3zM448.7 715.3h1.3v1.3h-1.3zM449.5 737.5h1.3v1.3h-1.3zM438.3 708.1h1.3v1.3h-1.3zM444.3 714.3h1.3v1.3h-1.3zM441.5 709.7h1.3v1.3h-1.3zM445.1 715.7h1.3v1.3h-1.3zM421.1 718.3h1.3v1.3h-1.3zM443.2 727.5h1.3v1.3h-1.3zM435.1 709.2h1.3v1.3h-1.3zM450.4 707.6h1.3v1.3h-1.3zM441.1 720.8h1.3v1.3h-1.3zM446.7 714.7h1.3v1.3h-1.3zM430.4 728.8h1.3v1.3h-1.3zM436.4 711.8h1.3v1.3h-1.3zM457.9 721.0h1.3v1.3h-1.3zM430.8 713.5h1.3v1.3h-1.3zM438.0 709.0h1.3v1.3h-1.3zM423.2 728.3h1.3v1.3h-1.3zM447.0 717.0h1.3v1.3h-1.3zM436.6 719.2h1.3v1.3h-1.3zM445.8 704.2h1.3v1.3h-1.3zM437.2 711.2h1.3v1.3h-1.3zM446.3 717.4h1.3v1.3h-1.3zM428.7 712.6h1.3v1.3h-1.3zM455.7 702.6h1.3v1.3h-1.3zM441.5 709.4h1.3v1.3h-1.3zM451.2 712.9h1.3v1.3h-1.3zM436.3 705.1h1.3v1.3h-1.3zM438.0 725.1h1.3v1.3h-1.3zM446.1 701.3h1.3v1.3h-1.3zM453.9 710.4h1.3v1.3h-1.3zM430.9 719.6h1.3v1.3h-1.3zM434.7 711.5h1.3v1.3h-1.3zM434.6 716.5h1.3v1.3h-1.3zM435.7 699.8h1.3v1.3h-1.3zM444.7 709.7h1.3v1.3h-1.3zM450.6 719.1h1.3v1.3h-1.3zM445.5 716.7h1.3v1.3h-1.3zM451.5 710.1h1.3v1.3h-1.3zM431.4 721.6h1.3v1.3h-1.3zM416.2 718.0h1.3v1.3h-1.3zM442.0 711.4h1.3v1.3h-1.3zM451.1 720.6h1.3v1.3h-1.3zM441.1 711.8h1.3v1.3h-1.3zM449.7 706.9h1.3v1.3h-1.3zM436.4 724.5h1.3v1.3h-1.3zM445.3 735.4h1.3v1.3h-1.3zM438.2 697.5h1.3v1.3h-1.3zM445.9 727.4h1.3v1.3h-1.3zM438.6 732.2h1.3v1.3h-1.3zM455.7 705.6h1.3v1.3h-1.3zM435.8 704.4h1.3v1.3h-1.3zM444.8 722.2h1.3v1.3h-1.3zM445.4 702.3h1.3v1.3h-1.3zM433.4 703.1h1.3v1.3h-1.3zM425.9 705.8h1.3v1.3h-1.3zM426.2 717.5h1.3v1.3h-1.3zM443.8 721.5h1.3v1.3h-1.3zM439.9 709.3h1.3v1.3h-1.3zM439.9 721.8h1.3v1.3h-1.3zM437.4 717.2h1.3v1.3h-1.3zM437.3 711.4h1.3v1.3h-1.3zM440.3 704.7h1.3v1.3h-1.3zM449.2 698.1h1.3v1.3h-1.3zM438.8 711.8h1.3v1.3h-1.3zM449.6 741.7h1.3v1.3h-1.3zM425.6 724.0h1.3v1.3h-1.3zM422.4 729.2h1.3v1.3h-1.3zM419.9 746.6h1.3v1.3h-1.3zM428.0 733.7h1.3v1.3h-1.3zM443.1 737.3h1.3v1.3h-1.3zM438.4 727.4h1.3v1.3h-1.3zM433.9 732.0h1.3v1.3h-1.3zM446.3 710.4h1.3v1.3h-1.3zM428.9 713.3h1.3v1.3h-1.3zM424.1 719.3h1.3v1.3h-1.3zM445.3 758.7h1.3v1.3h-1.3zM447.9 714.2h1.3v1.3h-1.3zM434.8 714.8h1.3v1.3h-1.3zM438.6 747.0h1.3v1.3h-1.3zM440.0 741.6h1.3v1.3h-1.3zM432.5 703.7h1.3v1.3h-1.3zM413.6 728.7h1.3v1.3h-1.3zM439.9 747.0h1.3v1.3h-1.3zM430.4 731.0h1.3v1.3h-1.3zM436.6 744.2h1.3v1.3h-1.3zM433.3 715.4h1.3v1.3h-1.3zM445.1 735.5h1.3v1.3h-1.3zM437.9 713.0h1.3v1.3h-1.3zM433.9 707.0h1.3v1.3h-1.3zM413.4 726.8h1.3v1.3h-1.3zM429.5 737.6h1.3v1.3h-1.3zM448.8 729.5h1.3v1.3h-1.3zM452.4 722.1h1.3v1.3h-1.3zM441.8 713.1h1.3v1.3h-1.3zM435.3 725.8h1.3v1.3h-1.3zM431.8 737.9h1.3v1.3h-1.3zM414.6 731.5h1.3v1.3h-1.3zM425.7 731.6h1.3v1.3h-1.3zM438.0 725.0h1.3v1.3h-1.3zM430.2 714.6h1.3v1.3h-1.3zM439.6 721.0h1.3v1.3h-1.3zM438.6 711.0h1.3v1.3h-1.3zM448.0 716.4h1.3v1.3h-1.3zM445.9 724.0h1.3v1.3h-1.3zM439.6 728.1h1.3v1.3h-1.3zM441.0 730.1h1.3v1.3h-1.3zM447.0 739.0h1.3v1.3h-1.3zM441.0 752.3h1.3v1.3h-1.3zM426.8 747.4h1.3v1.3h-1.3zM434.7 710.3h1.3v1.3h-1.3zM438.9 727.3h1.3v1.3h-1.3zM451.3 723.4h1.3v1.3h-1.3zM434.5 733.1h1.3v1.3h-1.3zM414.5 736.8h1.3v1.3h-1.3zM423.8 748.8h1.3v1.3h-1.3zM451.1 729.9h1.3v1.3h-1.3zM417.7 732.4h1.3v1.3h-1.3zM435.8 739.6h1.3v1.3h-1.3zM431.0 714.1h1.3v1.3h-1.3zM432.5 717.7h1.3v1.3h-1.3zM452.2 720.6h1.3v1.3h-1.3zM427.3 729.4h1.3v1.3h-1.3zM421.3 724.1h1.3v1.3h-1.3zM432.6 723.5h1.3v1.3h-1.3zM431.4 746.5h1.3v1.3h-1.3zM438.4 712.2h1.3v1.3h-1.3zM429.6 739.9h1.3v1.3h-1.3zM427.3 731.1h1.3v1.3h-1.3zM433.7 737.0h1.3v1.3h-1.3zM432.2 728.1h1.3v1.3h-1.3zM425.2 734.8h1.3v1.3h-1.3zM424.5 753.1h1.3v1.3h-1.3zM433.8 727.0h1.3v1.3h-1.3zM442.1 728.9h1.3v1.3h-1.3zM434.9 729.3h1.3v1.3h-1.3zM426.6 717.7h1.3v1.3h-1.3zM426.8 745.1h1.3v1.3h-1.3zM427.6 724.6h1.3v1.3h-1.3zM429.4 739.3h1.3v1.3h-1.3zM454.3 717.7h1.3v1.3h-1.3zM439.6 731.6h1.3v1.3h-1.3zM430.9 736.7h1.3v1.3h-1.3zM421.0 741.1h1.3v1.3h-1.3zM436.3 716.7h1.3v1.3h-1.3zM450.3 741.3h1.3v1.3h-1.3zM445.9 710.6h1.3v1.3h-1.3zM431.2 723.0h1.3v1.3h-1.3zM440.4 748.0h1.3v1.3h-1.3zM414.5 730.3h1.3v1.3h-1.3zM432.7 743.3h1.3v1.3h-1.3zM433.6 713.1h1.3v1.3h-1.3zM432.0 716.2h1.3v1.3h-1.3zM426.0 730.6h1.3v1.3h-1.3zM429.1 733.7h1.3v1.3h-1.3zM418.5 760.9h1.3v1.3h-1.3zM446.9 739.5h1.3v1.3h-1.3zM420.8 701.3h1.3v1.3h-1.3zM425.2 726.9h1.3v1.3h-1.3zM456.8 747.4h1.3v1.3h-1.3zM428.6 746.1h1.3v1.3h-1.3zM446.5 730.2h1.3v1.3h-1.3zM446.4 734.4h1.3v1.3h-1.3zM447.0 671.6h1.3v1.3h-1.3zM449.4 659.5h1.3v1.3h-1.3zM460.9 687.4h1.3v1.3h-1.3zM428.5 657.1h1.3v1.3h-1.3zM459.1 686.0h1.3v1.3h-1.3zM439.0 660.0h1.3v1.3h-1.3zM441.2 678.8h1.3v1.3h-1.3zM459.9 673.5h1.3v1.3h-1.3zM429.9 679.2h1.3v1.3h-1.3zM430.7 654.0h1.3v1.3h-1.3zM452.2 689.0h1.3v1.3h-1.3zM454.2 666.9h1.3v1.3h-1.3zM434.0 648.3h1.3v1.3h-1.3zM452.7 675.0h1.3v1.3h-1.3zM439.3 648.4h1.3v1.3h-1.3zM426.1 673.5h1.3v1.3h-1.3zM435.5 676.5h1.3v1.3h-1.3zM431.4 654.0h1.3v1.3h-1.3zM443.1 650.1h1.3v1.3h-1.3zM443.1 650.9h1.3v1.3h-1.3zM440.4 673.9h1.3v1.3h-1.3zM461.4 677.9h1.3v1.3h-1.3zM440.4 685.5h1.3v1.3h-1.3zM432.7 659.3h1.3v1.3h-1.3zM462.9 649.3h1.3v1.3h-1.3zM450.6 672.7h1.3v1.3h-1.3zM463.1 681.8h1.3v1.3h-1.3zM443.1 676.9h1.3v1.3h-1.3z" fill="#262626" fill-opacity="0.78"/>
<rect x="376.00" y="630.80" width="141.30" height="133.70" fill="none" stroke="#000" stroke-width="1.8"/>
<line x1="420.00" y1="630.80" x2="420.00" y2="764.50" stroke="#000" stroke-width="1.8"/>
<line x1="376.00" y1="691.20" x2="517.30" y2="691.20" stroke="#000" stroke-width="1.8"/>
<path d="M49.1,678 V784.1 H201" fill="none" stroke="#000" stroke-width="2.7" stroke-linejoin="miter"/>
<path d="M48.9,664 L40.5,687.3 L48.9,681.3 L58.0,688 Z" fill="#000"/>
<path d="M216,784.2 L192.3,775.7 L197.4,784.2 L192.1,793.6 Z" fill="#000"/>
<text x="1.00" y="749.50" font-size="18" font-weight="bold">CD4</text>
<text x="73.50" y="813.00" font-size="18" font-weight="bold">CD8</text>
<line x1="57.00" y1="885.45" x2="57.00" y2="1202.50" stroke="#000" stroke-width="1.6"/>
<line x1="48.00" y1="1193.25" x2="57.00" y2="1193.25" stroke="#000" stroke-width="1.6"/>
<line x1="48.00" y1="1141.95" x2="57.00" y2="1141.95" stroke="#000" stroke-width="1.6"/>
<line x1="48.00" y1="1090.65" x2="57.00" y2="1090.65" stroke="#000" stroke-width="1.6"/>
<line x1="48.00" y1="1039.35" x2="57.00" y2="1039.35" stroke="#000" stroke-width="1.6"/>
<line x1="48.00" y1="988.05" x2="57.00" y2="988.05" stroke="#000" stroke-width="1.6"/>
<line x1="48.00" y1="936.75" x2="57.00" y2="936.75" stroke="#000" stroke-width="1.6"/>
<line x1="48.00" y1="885.45" x2="57.00" y2="885.45" stroke="#000" stroke-width="1.6"/>
<line x1="52.50" y1="1182.99" x2="57.00" y2="1182.99" stroke="#000" stroke-width="1.6"/>
<line x1="52.50" y1="1172.73" x2="57.00" y2="1172.73" stroke="#000" stroke-width="1.6"/>
<line x1="52.50" y1="1162.47" x2="57.00" y2="1162.47" stroke="#000" stroke-width="1.6"/>
<line x1="52.50" y1="1152.21" x2="57.00" y2="1152.21" stroke="#000" stroke-width="1.6"/>
<line x1="52.50" y1="1131.69" x2="57.00" y2="1131.69" stroke="#000" stroke-width="1.6"/>
<line x1="52.50" y1="1121.43" x2="57.00" y2="1121.43" stroke="#000" stroke-width="1.6"/>
<line x1="52.50" y1="1111.17" x2="57.00" y2="1111.17" stroke="#000" stroke-width="1.6"/>
<line x1="52.50" y1="1100.91" x2="57.00" y2="1100.91" stroke="#000" stroke-width="1.6"/>
<line x1="52.50" y1="1080.39" x2="57.00" y2="1080.39" stroke="#000" stroke-width="1.6"/>
<line x1="52.50" y1="1070.13" x2="57.00" y2="1070.13" stroke="#000" stroke-width="1.6"/>
<line x1="52.50" y1="1059.87" x2="57.00" y2="1059.87" stroke="#000" stroke-width="1.6"/>
<line x1="52.50" y1="1049.61" x2="57.00" y2="1049.61" stroke="#000" stroke-width="1.6"/>
<line x1="52.50" y1="1029.09" x2="57.00" y2="1029.09" stroke="#000" stroke-width="1.6"/>
<line x1="52.50" y1="1018.83" x2="57.00" y2="1018.83" stroke="#000" stroke-width="1.6"/>
<line x1="52.50" y1="1008.57" x2="57.00" y2="1008.57" stroke="#000" stroke-width="1.6"/>
<line x1="52.50" y1="998.31" x2="57.00" y2="998.31" stroke="#000" stroke-width="1.6"/>
<line x1="52.50" y1="977.79" x2="57.00" y2="977.79" stroke="#000" stroke-width="1.6"/>
<line x1="52.50" y1="967.53" x2="57.00" y2="967.53" stroke="#000" stroke-width="1.6"/>
<line x1="52.50" y1="957.27" x2="57.00" y2="957.27" stroke="#000" stroke-width="1.6"/>
<line x1="52.50" y1="947.01" x2="57.00" y2="947.01" stroke="#000" stroke-width="1.6"/>
<line x1="52.50" y1="926.49" x2="57.00" y2="926.49" stroke="#000" stroke-width="1.6"/>
<line x1="52.50" y1="916.23" x2="57.00" y2="916.23" stroke="#000" stroke-width="1.6"/>
<line x1="52.50" y1="905.97" x2="57.00" y2="905.97" stroke="#000" stroke-width="1.6"/>
<line x1="52.50" y1="895.71" x2="57.00" y2="895.71" stroke="#000" stroke-width="1.6"/>
<text x="46.00" y="1196.85" font-size="17.5" text-anchor="end">0</text>
<text x="46.00" y="1145.55" font-size="17.5" text-anchor="end">10</text>
<text x="46.00" y="1094.25" font-size="17.5" text-anchor="end">20</text>
<text x="46.00" y="1042.95" font-size="17.5" text-anchor="end">30</text>
<text x="46.00" y="991.65" font-size="17.5" text-anchor="end">40</text>
<text x="46.00" y="940.35" font-size="17.5" text-anchor="end">50</text>
<text x="46.00" y="889.05" font-size="17.5" text-anchor="end">60</text>
<line x1="57.00" y1="1193.25" x2="388.60" y2="1193.25" stroke="#000" stroke-width="1.6"/>
<line x1="140.00" y1="1193.25" x2="140.00" y2="1202.50" stroke="#000" stroke-width="1.6"/>
<line x1="223.50" y1="1193.25" x2="223.50" y2="1202.50" stroke="#000" stroke-width="1.6"/>
<line x1="305.30" y1="1193.25" x2="305.30" y2="1202.50" stroke="#000" stroke-width="1.6"/>
<line x1="388.60" y1="1193.25" x2="388.60" y2="1202.50" stroke="#000" stroke-width="1.6"/>
<rect x="67.50" y="903.50" width="21.00" height="289.75" fill="#000" stroke="#000" stroke-width="0.8"/>
<rect x="88.50" y="1000.50" width="20.00" height="192.75" fill="#fff" stroke="#000" stroke-width="1.2"/>
<rect x="108.50" y="1035.50" width="21.00" height="157.75" fill="url(#dots)" stroke="#000" stroke-width="1.2"/>
<rect x="149.50" y="1108.50" width="21.00" height="84.75" fill="#000" stroke="#000" stroke-width="0.8"/>
<rect x="170.50" y="1085.50" width="21.00" height="107.75" fill="#fff" stroke="#000" stroke-width="1.2"/>
<rect x="191.50" y="1061.50" width="21.00" height="131.75" fill="url(#dots)" stroke="#000" stroke-width="1.2"/>
<rect x="233.50" y="1145.50" width="21.00" height="47.75" fill="#000" stroke="#000" stroke-width="0.8"/>
<rect x="254.50" y="1129.50" width="20.00" height="63.75" fill="#fff" stroke="#000" stroke-width="1.2"/>
<rect x="274.50" y="1125.50" width="21.00" height="67.75" fill="url(#dots)" stroke="#000" stroke-width="1.2"/>
<rect x="315.50" y="1049.50" width="21.00" height="143.75" fill="#000" stroke="#000" stroke-width="0.8"/>
<rect x="336.50" y="984.50" width="21.00" height="208.75" fill="#fff" stroke="#000" stroke-width="1.2"/>
<rect x="357.50" y="964.50" width="19.00" height="228.75" fill="url(#dots)" stroke="#000" stroke-width="1.2"/>
<line x1="77.50" y1="885.00" x2="77.50" y2="903.75" stroke="#000" stroke-width="1.4"/>
<line x1="72.00" y1="885.50" x2="82.00" y2="885.50" stroke="#000" stroke-width="1.4"/>
<line x1="72.00" y1="903.50" x2="82.00" y2="903.50" stroke="#000" stroke-width="1.4"/>
<line x1="98.50" y1="966.75" x2="98.50" y2="1032.50" stroke="#000" stroke-width="1.4"/>
<line x1="93.25" y1="966.50" x2="104.25" y2="966.50" stroke="#000" stroke-width="1.4"/>
<line x1="93.25" y1="1032.50" x2="104.25" y2="1032.50" stroke="#000" stroke-width="1.4"/>
<line x1="120.50" y1="1024.25" x2="120.50" y2="1046.75" stroke="#000" stroke-width="1.4"/>
<line x1="114.50" y1="1024.50" x2="125.50" y2="1024.50" stroke="#000" stroke-width="1.4"/>
<line x1="114.50" y1="1046.50" x2="125.50" y2="1046.50" stroke="#000" stroke-width="1.4"/>
<line x1="160.50" y1="1098.25" x2="160.50" y2="1108.25" stroke="#000" stroke-width="1.4"/>
<line x1="155.30" y1="1098.50" x2="165.70" y2="1098.50" stroke="#000" stroke-width="1.4"/>
<line x1="155.30" y1="1108.50" x2="165.70" y2="1108.50" stroke="#000" stroke-width="1.4"/>
<line x1="181.50" y1="1084.20" x2="181.50" y2="1085.30" stroke="#000" stroke-width="1.4"/>
<line x1="176.20" y1="1084.50" x2="186.80" y2="1084.50" stroke="#000" stroke-width="1.4"/>
<line x1="176.20" y1="1085.50" x2="186.80" y2="1085.50" stroke="#000" stroke-width="1.4"/>
<line x1="202.50" y1="1055.50" x2="202.50" y2="1065.50" stroke="#000" stroke-width="1.4"/>
<line x1="196.70" y1="1055.50" x2="208.30" y2="1055.50" stroke="#000" stroke-width="1.4"/>
<line x1="196.70" y1="1065.50" x2="208.30" y2="1065.50" stroke="#000" stroke-width="1.4"/>
<line x1="243.50" y1="1141.75" x2="243.50" y2="1145.00" stroke="#000" stroke-width="1.4"/>
<line x1="238.95" y1="1141.50" x2="248.55" y2="1141.50" stroke="#000" stroke-width="1.4"/>
<line x1="238.95" y1="1145.50" x2="248.55" y2="1145.50" stroke="#000" stroke-width="1.4"/>
<line x1="265.50" y1="1118.25" x2="265.50" y2="1141.25" stroke="#000" stroke-width="1.4"/>
<line x1="260.20" y1="1118.50" x2="269.80" y2="1118.50" stroke="#000" stroke-width="1.4"/>
<line x1="260.20" y1="1141.50" x2="269.80" y2="1141.50" stroke="#000" stroke-width="1.4"/>
<line x1="285.50" y1="1116.75" x2="285.50" y2="1135.00" stroke="#000" stroke-width="1.4"/>
<line x1="280.00" y1="1116.50" x2="290.00" y2="1116.50" stroke="#000" stroke-width="1.4"/>
<line x1="280.00" y1="1135.50" x2="290.00" y2="1135.50" stroke="#000" stroke-width="1.4"/>
<line x1="325.50" y1="1035.75" x2="325.50" y2="1049.50" stroke="#000" stroke-width="1.4"/>
<line x1="320.45" y1="1035.50" x2="331.05" y2="1035.50" stroke="#000" stroke-width="1.4"/>
<line x1="320.45" y1="1049.50" x2="331.05" y2="1049.50" stroke="#000" stroke-width="1.4"/>
<line x1="346.50" y1="934.25" x2="346.50" y2="1033.75" stroke="#000" stroke-width="1.4"/>
<line x1="340.95" y1="934.50" x2="351.55" y2="934.50" stroke="#000" stroke-width="1.4"/>
<line x1="340.95" y1="1033.50" x2="351.55" y2="1033.50" stroke="#000" stroke-width="1.4"/>
<line x1="367.50" y1="944.50" x2="367.50" y2="984.50" stroke="#000" stroke-width="1.4"/>
<line x1="361.40" y1="944.50" x2="372.60" y2="944.50" stroke="#000" stroke-width="1.4"/>
<line x1="361.40" y1="984.50" x2="372.60" y2="984.50" stroke="#000" stroke-width="1.4"/>
<path d="M75.50,858.80 V856.00 H124.50 V858.80" fill="none" stroke="#000" stroke-width="1.5"/>
<polygon points="99.35,845.70 100.50,848.02 103.06,848.39 101.20,850.20 101.64,852.76 99.35,851.55 97.06,852.76 97.50,850.20 95.64,848.39 98.20,848.02" fill="#000"/>
<path d="M75.50,879.20 V876.60 H101.25 V879.20" fill="none" stroke="#000" stroke-width="1.5"/>
<polygon points="87.50,866.20 88.65,868.52 91.21,868.89 89.35,870.70 89.79,873.26 87.50,872.05 85.21,873.26 85.65,870.70 83.79,868.89 86.35,868.52" fill="#000"/>
<path d="M160.00,1046.85 V1044.25 H202.00 V1046.85" fill="none" stroke="#000" stroke-width="1.5"/>
<polygon points="181.25,1034.10 182.40,1036.42 184.96,1036.79 183.10,1038.60 183.54,1041.16 181.25,1039.95 178.96,1041.16 179.40,1038.60 177.54,1036.79 180.10,1036.42" fill="#000"/>
<path d="M325.75,923.75 V920.75 H367.50 V923.75" fill="none" stroke="#000" stroke-width="1.5"/>
<polygon points="346.25,910.35 347.40,912.67 349.96,913.04 348.10,914.85 348.54,917.41 346.25,916.20 343.96,917.41 344.40,914.85 342.54,913.04 345.10,912.67" fill="#000"/>
<text x="13.60" y="1147.70" font-size="16.5" font-weight="bold" textLength="214.50" lengthAdjust="spacingAndGlyphs" transform="rotate(-90 13.60 1147.70)">Percent of &#160;all splenocytes</text>
<text x="53.80" y="1228.75" font-size="16.5" font-weight="bold" textLength="87.00" lengthAdjust="spacingAndGlyphs">non T cells</text>
<text x="159.20" y="1229.00" font-size="16.5" font-weight="bold" textLength="43.80" lengthAdjust="spacingAndGlyphs">CD4+</text>
<text x="243.80" y="1229.00" font-size="16.5" font-weight="bold" textLength="43.80" lengthAdjust="spacingAndGlyphs">CD8+</text>
<text x="328.40" y="1229.00" font-size="16.5" font-weight="bold" textLength="43.00" lengthAdjust="spacingAndGlyphs">CD3+</text></svg>
</body></html>
